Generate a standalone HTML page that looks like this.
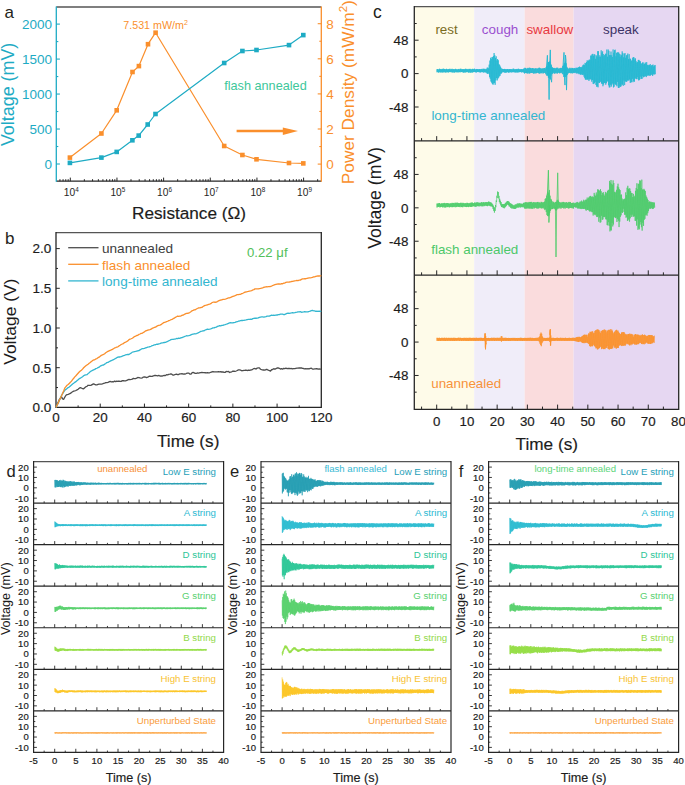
<!DOCTYPE html>
<html><head><meta charset="utf-8"><style>
html,body{margin:0;padding:0;background:#fff;width:685px;height:785px;overflow:hidden}
svg{display:block;font-family:"Liberation Sans", sans-serif}
</style></head><body>
<svg width="685" height="785" viewBox="0 0 685 785">
<rect width="685" height="785" fill="#fff"/>
<line x1="56.3" y1="7" x2="321.3" y2="7" stroke="#555555" stroke-width="1.3" />
<line x1="56.3" y1="181.2" x2="321.3" y2="181.2" stroke="#262626" stroke-width="1.3" />
<line x1="56.3" y1="6.4" x2="56.3" y2="181.8" stroke="#1eabc4" stroke-width="1.3" />
<line x1="321.3" y1="6.4" x2="321.3" y2="181.8" stroke="#fa8f2c" stroke-width="1.3" />
<line x1="56.3" y1="164" x2="59.9" y2="164" stroke="#1eabc4" stroke-width="1.1" />
<text x="52" y="168.8" font-size="13.5" fill="#1eabc4" text-anchor="end" >0</text>
<line x1="56.3" y1="146.51" x2="58.3" y2="146.51" stroke="#1eabc4" stroke-width="1.1" />
<line x1="56.3" y1="129.03" x2="59.9" y2="129.03" stroke="#1eabc4" stroke-width="1.1" />
<text x="52" y="133.83" font-size="13.5" fill="#1eabc4" text-anchor="end" >500</text>
<line x1="56.3" y1="111.54" x2="58.3" y2="111.54" stroke="#1eabc4" stroke-width="1.1" />
<line x1="56.3" y1="94.05" x2="59.9" y2="94.05" stroke="#1eabc4" stroke-width="1.1" />
<text x="52" y="98.85" font-size="13.5" fill="#1eabc4" text-anchor="end" >1000</text>
<line x1="56.3" y1="76.56" x2="58.3" y2="76.56" stroke="#1eabc4" stroke-width="1.1" />
<line x1="56.3" y1="59.08" x2="59.9" y2="59.08" stroke="#1eabc4" stroke-width="1.1" />
<text x="52" y="63.88" font-size="13.5" fill="#1eabc4" text-anchor="end" >1500</text>
<line x1="56.3" y1="41.59" x2="58.3" y2="41.59" stroke="#1eabc4" stroke-width="1.1" />
<line x1="56.3" y1="24.1" x2="59.9" y2="24.1" stroke="#1eabc4" stroke-width="1.1" />
<text x="52" y="28.9" font-size="13.5" fill="#1eabc4" text-anchor="end" >2000</text>
<line x1="317.7" y1="164.1" x2="321.3" y2="164.1" stroke="#fa8f2c" stroke-width="1.1" />
<text x="326.3" y="168.9" font-size="13.5" fill="#fa8f2c" text-anchor="start" >0</text>
<line x1="319.3" y1="146.55" x2="321.3" y2="146.55" stroke="#fa8f2c" stroke-width="1.1" />
<line x1="317.7" y1="129" x2="321.3" y2="129" stroke="#fa8f2c" stroke-width="1.1" />
<text x="326.3" y="133.8" font-size="13.5" fill="#fa8f2c" text-anchor="start" >2</text>
<line x1="319.3" y1="111.45" x2="321.3" y2="111.45" stroke="#fa8f2c" stroke-width="1.1" />
<line x1="317.7" y1="93.9" x2="321.3" y2="93.9" stroke="#fa8f2c" stroke-width="1.1" />
<text x="326.3" y="98.7" font-size="13.5" fill="#fa8f2c" text-anchor="start" >4</text>
<line x1="319.3" y1="76.35" x2="321.3" y2="76.35" stroke="#fa8f2c" stroke-width="1.1" />
<line x1="317.7" y1="58.8" x2="321.3" y2="58.8" stroke="#fa8f2c" stroke-width="1.1" />
<text x="326.3" y="63.6" font-size="13.5" fill="#fa8f2c" text-anchor="start" >6</text>
<line x1="319.3" y1="41.25" x2="321.3" y2="41.25" stroke="#fa8f2c" stroke-width="1.1" />
<line x1="317.7" y1="23.7" x2="321.3" y2="23.7" stroke="#fa8f2c" stroke-width="1.1" />
<text x="326.3" y="28.5" font-size="13.5" fill="#fa8f2c" text-anchor="start" >8</text>
<line x1="59.95" y1="181.2" x2="59.95" y2="179.2" stroke="#262626" stroke-width="1" />
<line x1="63.07" y1="181.2" x2="63.07" y2="179.2" stroke="#262626" stroke-width="1" />
<line x1="65.78" y1="181.2" x2="65.78" y2="179.2" stroke="#262626" stroke-width="1" />
<line x1="68.16" y1="181.2" x2="68.16" y2="179.2" stroke="#262626" stroke-width="1" />
<line x1="70.3" y1="181.2" x2="70.3" y2="177.6" stroke="#262626" stroke-width="1" />
<line x1="84.35" y1="181.2" x2="84.35" y2="179.2" stroke="#262626" stroke-width="1" />
<line x1="92.56" y1="181.2" x2="92.56" y2="179.2" stroke="#262626" stroke-width="1" />
<line x1="98.39" y1="181.2" x2="98.39" y2="179.2" stroke="#262626" stroke-width="1" />
<line x1="102.91" y1="181.2" x2="102.91" y2="179.2" stroke="#262626" stroke-width="1" />
<line x1="106.61" y1="181.2" x2="106.61" y2="179.2" stroke="#262626" stroke-width="1" />
<line x1="109.73" y1="181.2" x2="109.73" y2="179.2" stroke="#262626" stroke-width="1" />
<line x1="112.44" y1="181.2" x2="112.44" y2="179.2" stroke="#262626" stroke-width="1" />
<line x1="114.82" y1="181.2" x2="114.82" y2="179.2" stroke="#262626" stroke-width="1" />
<line x1="116.96" y1="181.2" x2="116.96" y2="177.6" stroke="#262626" stroke-width="1" />
<line x1="131.01" y1="181.2" x2="131.01" y2="179.2" stroke="#262626" stroke-width="1" />
<line x1="139.22" y1="181.2" x2="139.22" y2="179.2" stroke="#262626" stroke-width="1" />
<line x1="145.05" y1="181.2" x2="145.05" y2="179.2" stroke="#262626" stroke-width="1" />
<line x1="149.57" y1="181.2" x2="149.57" y2="179.2" stroke="#262626" stroke-width="1" />
<line x1="153.27" y1="181.2" x2="153.27" y2="179.2" stroke="#262626" stroke-width="1" />
<line x1="156.39" y1="181.2" x2="156.39" y2="179.2" stroke="#262626" stroke-width="1" />
<line x1="159.1" y1="181.2" x2="159.1" y2="179.2" stroke="#262626" stroke-width="1" />
<line x1="161.48" y1="181.2" x2="161.48" y2="179.2" stroke="#262626" stroke-width="1" />
<line x1="163.62" y1="181.2" x2="163.62" y2="177.6" stroke="#262626" stroke-width="1" />
<line x1="177.67" y1="181.2" x2="177.67" y2="179.2" stroke="#262626" stroke-width="1" />
<line x1="185.88" y1="181.2" x2="185.88" y2="179.2" stroke="#262626" stroke-width="1" />
<line x1="191.71" y1="181.2" x2="191.71" y2="179.2" stroke="#262626" stroke-width="1" />
<line x1="196.23" y1="181.2" x2="196.23" y2="179.2" stroke="#262626" stroke-width="1" />
<line x1="199.93" y1="181.2" x2="199.93" y2="179.2" stroke="#262626" stroke-width="1" />
<line x1="203.05" y1="181.2" x2="203.05" y2="179.2" stroke="#262626" stroke-width="1" />
<line x1="205.76" y1="181.2" x2="205.76" y2="179.2" stroke="#262626" stroke-width="1" />
<line x1="208.14" y1="181.2" x2="208.14" y2="179.2" stroke="#262626" stroke-width="1" />
<line x1="210.28" y1="181.2" x2="210.28" y2="177.6" stroke="#262626" stroke-width="1" />
<line x1="224.33" y1="181.2" x2="224.33" y2="179.2" stroke="#262626" stroke-width="1" />
<line x1="232.54" y1="181.2" x2="232.54" y2="179.2" stroke="#262626" stroke-width="1" />
<line x1="238.37" y1="181.2" x2="238.37" y2="179.2" stroke="#262626" stroke-width="1" />
<line x1="242.89" y1="181.2" x2="242.89" y2="179.2" stroke="#262626" stroke-width="1" />
<line x1="246.59" y1="181.2" x2="246.59" y2="179.2" stroke="#262626" stroke-width="1" />
<line x1="249.71" y1="181.2" x2="249.71" y2="179.2" stroke="#262626" stroke-width="1" />
<line x1="252.42" y1="181.2" x2="252.42" y2="179.2" stroke="#262626" stroke-width="1" />
<line x1="254.8" y1="181.2" x2="254.8" y2="179.2" stroke="#262626" stroke-width="1" />
<line x1="256.94" y1="181.2" x2="256.94" y2="177.6" stroke="#262626" stroke-width="1" />
<line x1="270.99" y1="181.2" x2="270.99" y2="179.2" stroke="#262626" stroke-width="1" />
<line x1="279.2" y1="181.2" x2="279.2" y2="179.2" stroke="#262626" stroke-width="1" />
<line x1="285.03" y1="181.2" x2="285.03" y2="179.2" stroke="#262626" stroke-width="1" />
<line x1="289.55" y1="181.2" x2="289.55" y2="179.2" stroke="#262626" stroke-width="1" />
<line x1="293.25" y1="181.2" x2="293.25" y2="179.2" stroke="#262626" stroke-width="1" />
<line x1="296.37" y1="181.2" x2="296.37" y2="179.2" stroke="#262626" stroke-width="1" />
<line x1="299.08" y1="181.2" x2="299.08" y2="179.2" stroke="#262626" stroke-width="1" />
<line x1="301.46" y1="181.2" x2="301.46" y2="179.2" stroke="#262626" stroke-width="1" />
<line x1="303.6" y1="181.2" x2="303.6" y2="177.6" stroke="#262626" stroke-width="1" />
<line x1="317.65" y1="181.2" x2="317.65" y2="179.2" stroke="#262626" stroke-width="1" />
<text x="63.8" y="196" font-size="10.2" fill="#262626">10<tspan dy="-4.3" font-size="6.4">4</tspan></text>
<text x="110.46" y="196" font-size="10.2" fill="#262626">10<tspan dy="-4.3" font-size="6.4">5</tspan></text>
<text x="157.12" y="196" font-size="10.2" fill="#262626">10<tspan dy="-4.3" font-size="6.4">6</tspan></text>
<text x="203.78" y="196" font-size="10.2" fill="#262626">10<tspan dy="-4.3" font-size="6.4">7</tspan></text>
<text x="250.44" y="196" font-size="10.2" fill="#262626">10<tspan dy="-4.3" font-size="6.4">8</tspan></text>
<text x="297.1" y="196" font-size="10.2" fill="#262626">10<tspan dy="-4.3" font-size="6.4">9</tspan></text>
<text x="132" y="219" font-size="17.2" fill="#1c1c1c" text-anchor="start"  stroke="#1c1c1c" stroke-width="0.18">Resistance (Ω)</text>
<text transform="translate(14.4,146.1) rotate(-90)" font-size="17.9" fill="#1eabc4">Voltage (mV)</text>
<text transform="translate(353.7,184.2) rotate(-90)" font-size="17.3" fill="#fa8f2c" text-anchor="start">Power Density (mW/m<tspan dy="-6.3" font-size="11.5">2</tspan><tspan dy="6.3">)</tspan></text>
<text x="4.5" y="18" font-size="17" fill="#231f20" text-anchor="start" >a</text>
<polyline points="69.9,157.6 101.4,133.5 116.7,110.3 132.5,72 138.9,66.1 148,44.2 155.6,32.7 224.2,146 242.4,155 256.5,159.3 289,163 303.3,163.4" fill="none" stroke="#fa8f2c" stroke-width="1.2" stroke-linejoin="round" />
<polyline points="69.9,162.9 101.4,157.6 116.7,151.9 132.4,140.3 138.7,135.6 147.7,124.5 155.5,114 224.2,63 242.4,51 256.5,50 289,45.1 303.3,35.1" fill="none" stroke="#1eabc4" stroke-width="1.2" stroke-linejoin="round" />
<rect x="67.6" y="155.3" width="4.6" height="4.6" fill="#fa8f2c"/>
<rect x="99.1" y="131.2" width="4.6" height="4.6" fill="#fa8f2c"/>
<rect x="114.4" y="108" width="4.6" height="4.6" fill="#fa8f2c"/>
<rect x="130.2" y="69.7" width="4.6" height="4.6" fill="#fa8f2c"/>
<rect x="136.6" y="63.8" width="4.6" height="4.6" fill="#fa8f2c"/>
<rect x="145.7" y="41.9" width="4.6" height="4.6" fill="#fa8f2c"/>
<rect x="153.3" y="30.4" width="4.6" height="4.6" fill="#fa8f2c"/>
<rect x="221.9" y="143.7" width="4.6" height="4.6" fill="#fa8f2c"/>
<rect x="240.1" y="152.7" width="4.6" height="4.6" fill="#fa8f2c"/>
<rect x="254.2" y="157" width="4.6" height="4.6" fill="#fa8f2c"/>
<rect x="286.7" y="160.7" width="4.6" height="4.6" fill="#fa8f2c"/>
<rect x="301" y="161.1" width="4.6" height="4.6" fill="#fa8f2c"/>
<rect x="67.6" y="160.6" width="4.6" height="4.6" fill="#1eabc4"/>
<rect x="99.1" y="155.3" width="4.6" height="4.6" fill="#1eabc4"/>
<rect x="114.4" y="149.6" width="4.6" height="4.6" fill="#1eabc4"/>
<rect x="130.1" y="138" width="4.6" height="4.6" fill="#1eabc4"/>
<rect x="136.4" y="133.3" width="4.6" height="4.6" fill="#1eabc4"/>
<rect x="145.4" y="122.2" width="4.6" height="4.6" fill="#1eabc4"/>
<rect x="153.2" y="111.7" width="4.6" height="4.6" fill="#1eabc4"/>
<rect x="221.9" y="60.7" width="4.6" height="4.6" fill="#1eabc4"/>
<rect x="240.1" y="48.7" width="4.6" height="4.6" fill="#1eabc4"/>
<rect x="254.2" y="47.7" width="4.6" height="4.6" fill="#1eabc4"/>
<rect x="286.7" y="42.8" width="4.6" height="4.6" fill="#1eabc4"/>
<rect x="301" y="32.8" width="4.6" height="4.6" fill="#1eabc4"/>
<text x="123.3" y="28.8" font-size="10.7" fill="#fa8f2c">7.531 mW/m<tspan dy="-4" font-size="7">2</tspan></text>
<text x="224.2" y="89.9" font-size="12.7" fill="#3ec79b" text-anchor="start" >flash annealed</text>
<line x1="236.6" y1="131" x2="285" y2="131" stroke="#fa8f2c" stroke-width="2.6" />
<polygon points="282.8,127.4 298,131.1 282.8,134.9" fill="#fa8f2c"/>
<line x1="56" y1="232.7" x2="321.3" y2="232.7" stroke="#555555" stroke-width="1.3" />
<line x1="56" y1="407.4" x2="321.3" y2="407.4" stroke="#262626" stroke-width="1.3" />
<line x1="56" y1="232.1" x2="56" y2="408" stroke="#262626" stroke-width="1.3" />
<line x1="321.3" y1="232.1" x2="321.3" y2="408" stroke="#262626" stroke-width="1.3" />
<text x="51.2" y="412.2" font-size="13.5" fill="#1c1c1c" text-anchor="end"  stroke="#1c1c1c" stroke-width="0.18">0.0</text>
<line x1="56" y1="387.55" x2="58" y2="387.55" stroke="#262626" stroke-width="1" />
<line x1="56" y1="367.7" x2="59.8" y2="367.7" stroke="#262626" stroke-width="1" />
<text x="51.2" y="372.5" font-size="13.5" fill="#1c1c1c" text-anchor="end"  stroke="#1c1c1c" stroke-width="0.18">0.5</text>
<line x1="56" y1="347.85" x2="58" y2="347.85" stroke="#262626" stroke-width="1" />
<line x1="56" y1="328" x2="59.8" y2="328" stroke="#262626" stroke-width="1" />
<text x="51.2" y="332.8" font-size="13.5" fill="#1c1c1c" text-anchor="end"  stroke="#1c1c1c" stroke-width="0.18">1.0</text>
<line x1="56" y1="308.15" x2="58" y2="308.15" stroke="#262626" stroke-width="1" />
<line x1="56" y1="288.3" x2="59.8" y2="288.3" stroke="#262626" stroke-width="1" />
<text x="51.2" y="293.1" font-size="13.5" fill="#1c1c1c" text-anchor="end"  stroke="#1c1c1c" stroke-width="0.18">1.5</text>
<line x1="56" y1="268.45" x2="58" y2="268.45" stroke="#262626" stroke-width="1" />
<line x1="56" y1="248.6" x2="59.8" y2="248.6" stroke="#262626" stroke-width="1" />
<text x="51.2" y="253.4" font-size="13.5" fill="#1c1c1c" text-anchor="end"  stroke="#1c1c1c" stroke-width="0.18">2.0</text>
<text x="56" y="422.4" font-size="13.4" fill="#1c1c1c" text-anchor="middle"  stroke="#1c1c1c" stroke-width="0.18">0</text>
<line x1="78.11" y1="407.4" x2="78.11" y2="405.4" stroke="#262626" stroke-width="1" />
<line x1="100.22" y1="407.4" x2="100.22" y2="403.6" stroke="#262626" stroke-width="1" />
<text x="100.22" y="422.4" font-size="13.4" fill="#1c1c1c" text-anchor="middle"  stroke="#1c1c1c" stroke-width="0.18">20</text>
<line x1="122.33" y1="407.4" x2="122.33" y2="405.4" stroke="#262626" stroke-width="1" />
<line x1="144.43" y1="407.4" x2="144.43" y2="403.6" stroke="#262626" stroke-width="1" />
<text x="144.43" y="422.4" font-size="13.4" fill="#1c1c1c" text-anchor="middle"  stroke="#1c1c1c" stroke-width="0.18">40</text>
<line x1="166.54" y1="407.4" x2="166.54" y2="405.4" stroke="#262626" stroke-width="1" />
<line x1="188.65" y1="407.4" x2="188.65" y2="403.6" stroke="#262626" stroke-width="1" />
<text x="188.65" y="422.4" font-size="13.4" fill="#1c1c1c" text-anchor="middle"  stroke="#1c1c1c" stroke-width="0.18">60</text>
<line x1="210.76" y1="407.4" x2="210.76" y2="405.4" stroke="#262626" stroke-width="1" />
<line x1="232.87" y1="407.4" x2="232.87" y2="403.6" stroke="#262626" stroke-width="1" />
<text x="232.87" y="422.4" font-size="13.4" fill="#1c1c1c" text-anchor="middle"  stroke="#1c1c1c" stroke-width="0.18">80</text>
<line x1="254.97" y1="407.4" x2="254.97" y2="405.4" stroke="#262626" stroke-width="1" />
<line x1="277.08" y1="407.4" x2="277.08" y2="403.6" stroke="#262626" stroke-width="1" />
<text x="277.08" y="422.4" font-size="13.4" fill="#1c1c1c" text-anchor="middle"  stroke="#1c1c1c" stroke-width="0.18">100</text>
<line x1="299.19" y1="407.4" x2="299.19" y2="405.4" stroke="#262626" stroke-width="1" />
<text x="321.3" y="422.4" font-size="13.4" fill="#1c1c1c" text-anchor="middle"  stroke="#1c1c1c" stroke-width="0.18">120</text>
<text x="157" y="447.2" font-size="17.2" fill="#1c1c1c" text-anchor="start"  stroke="#1c1c1c" stroke-width="0.18">Time (s)</text>
<text x="5" y="244" font-size="17" fill="#231f20" text-anchor="start" >b</text>
<text transform="translate(16,364.7) rotate(-90)" font-size="17.4" fill="#1c1c1c">Voltage (V)</text>
<polyline points="56,407.4 57.11,404.28 58.21,402.15 59.32,399.48 60.42,398.25 61.53,396.82 62.63,398.91 63.74,399.33 64.84,397.08 65.95,395.27 67.05,394.6 68.16,394.31 69.27,393.91 70.37,393.47 71.48,392.44 72.58,391.76 73.69,391.09 74.79,390.94 75.9,390.49 77,389.89 78.11,389.25 79.21,388.32 80.32,387.6 81.42,388 82.53,388.68 83.64,388.75 84.74,387.72 85.85,386.76 86.95,386.35 88.06,385.27 89.16,385.43 90.27,385.37 91.37,385.15 92.48,384.36 93.58,383.8 94.69,384.4 95.8,384.91 96.9,384.86 98.01,384.46 99.11,384.12 100.22,384.2 101.32,384.06 102.43,383.78 103.53,383.41 104.64,383.18 105.74,382.7 106.85,382.65 107.95,382.33 109.06,381.9 110.17,381.48 111.27,381.79 112.38,381.7 113.48,381.84 114.59,381.18 115.69,381.64 116.8,381.09 117.9,381.27 119.01,381.21 120.11,381.48 121.22,381.32 122.33,380.69 123.43,380.75 124.54,380.95 125.64,380.8 126.75,380.44 127.85,379.82 128.96,379.44 130.06,379.62 131.17,379.41 132.27,379.07 133.38,378.44 134.48,378.58 135.59,378.53 136.7,378.16 137.8,377.42 138.91,377.57 140.01,377.92 141.12,378.05 142.22,377.91 143.33,377.04 144.43,376.8 145.54,377.04 146.64,377.55 147.75,377.22 148.86,376.4 149.96,376.14 151.07,376.34 152.17,376.33 153.28,375.89 154.38,375.52 155.49,375.48 156.59,375.56 157.7,375.82 158.8,375.45 159.91,376.02 161.01,375.87 162.12,376.07 163.23,375.7 164.33,375.45 165.44,375.57 166.54,374.76 167.65,374.83 168.75,374.35 169.86,374.18 170.96,373.97 172.07,374.42 173.17,375.25 174.28,374.76 175.38,374.46 176.49,374.13 177.6,374.57 178.7,374.51 179.81,373.93 180.91,373.86 182.02,373.69 183.12,374.07 184.23,373.81 185.33,374.03 186.44,373.48 187.54,373.05 188.65,373.11 189.76,374.02 190.86,374.22 191.97,372.85 193.07,372.32 194.18,372.85 195.28,373.4 196.39,373.29 197.49,372.99 198.6,373.22 199.7,372.73 200.81,372.63 201.91,372.37 203.02,372.53 204.13,372.6 205.23,372.73 206.34,372.91 207.44,372.58 208.55,372.78 209.65,372.78 210.76,372.27 211.86,371.88 212.97,371.52 214.07,371.78 215.18,371.86 216.29,371.89 217.39,371.89 218.5,371.64 219.6,371.91 220.71,371.75 221.81,372 222.92,371.94 224.02,372.46 225.13,372.37 226.23,371.49 227.34,371.55 228.45,371.35 229.55,372.51 230.66,372.09 231.76,371.8 232.87,371.13 233.97,371.26 235.08,371.39 236.18,371.01 237.29,370.5 238.39,369.84 239.5,369.88 240.6,370.18 241.71,370.74 242.82,370.72 243.92,370.39 245.03,370.25 246.13,370.07 247.24,370.52 248.34,370.14 249.45,370.27 250.55,370.01 251.66,369.95 252.76,369.21 253.87,368.53 254.97,368.52 256.08,369.05 257.19,368.1 258.29,367.8 259.4,367.92 260.5,369.26 261.61,369.68 262.71,369.98 263.82,369.85 264.92,370.2 266.03,369.5 267.13,369.44 268.24,370.21 269.35,370.52 270.45,371.14 271.56,369.73 272.66,369.51 273.77,368.67 274.87,369.22 275.98,368.57 277.08,367.99 278.19,367.89 279.29,368.27 280.4,369.06 281.5,368.68 282.61,369.16 283.72,368.31 284.82,368.57 285.93,368.22 287.03,368.62 288.14,368.48 289.24,368.42 290.35,368.72 291.45,368.51 292.56,368.77 293.66,368.69 294.77,368.67 295.88,368.38 296.98,368.2 298.09,368.21 299.19,367.86 300.3,367.99 301.4,367.95 302.51,368.42 303.61,368.52 304.72,368.92 305.82,368.58 306.93,368.82 308.03,368.69 309.14,368.78 310.25,368.33 311.35,368.26 312.46,369.06 313.56,369.09 314.67,368.92 315.77,368.77 316.88,368.69 317.98,369.04 319.09,368.98 320.19,369.22 321.3,369.02" fill="none" stroke="#4d4d4d" stroke-width="1.3" stroke-linejoin="round" />
<polyline points="56,407.4 57.11,405.14 58.21,403.17 59.32,400.42 60.42,397.79 61.53,395.47 62.63,393.65 63.74,391.8 64.84,390.29 65.95,389.36 67.05,388.56 68.16,387.62 69.27,387.01 70.37,385.99 71.48,385.06 72.58,383.95 73.69,383.22 74.79,382.31 75.9,381.68 77,380.62 78.11,379.79 79.21,378.8 80.32,378.09 81.42,377.53 82.53,376.72 83.64,375.75 84.74,375.13 85.85,374.83 86.95,374.7 88.06,373.63 89.16,372.66 90.27,371.6 91.37,370.97 92.48,370.32 93.58,369.83 94.69,369.36 95.8,368.64 96.9,368.26 98.01,367.69 99.11,367.19 100.22,366.13 101.32,365.59 102.43,365.21 103.53,365 104.64,364.14 105.74,363.42 106.85,362.55 107.95,362.43 109.06,361.66 110.17,361.17 111.27,360.57 112.38,360.21 113.48,359.68 114.59,358.95 115.69,358.35 116.8,357.7 117.9,357.21 119.01,356.96 120.11,357.02 121.22,356.53 122.33,356.1 123.43,355.59 124.54,355.31 125.64,354.78 126.75,354.54 127.85,354.39 128.96,354.51 130.06,353.77 131.17,353.14 132.27,352.13 133.38,351.94 134.48,351.68 135.59,351.46 136.7,351.08 137.8,350.76 138.91,350.58 140.01,349.89 141.12,349.25 142.22,348.65 143.33,348.59 144.43,348.38 145.54,347.93 146.64,347.53 147.75,347.18 148.86,346.98 149.96,346.75 151.07,346.24 152.17,345.68 153.28,345.33 154.38,344.78 155.49,344.73 156.59,344.24 157.7,344.27 158.8,343.87 159.91,343.56 161.01,343.18 162.12,342.94 163.23,342.74 164.33,342.49 165.44,342.31 166.54,341.94 167.65,341.43 168.75,340.73 169.86,340.28 170.96,339.65 172.07,339.45 173.17,339.32 174.28,339.11 175.38,339.03 176.49,338.51 177.6,338.66 178.7,338.15 179.81,338.32 180.91,337.74 182.02,337.53 183.12,337.09 184.23,336.68 185.33,336.24 186.44,335.77 187.54,335.85 188.65,335.66 189.76,335.37 190.86,334.8 191.97,334.33 193.07,334.06 194.18,333.9 195.28,333.76 196.39,333.51 197.49,333.16 198.6,332.73 199.7,332.05 200.81,331.39 201.91,331.14 203.02,330.81 204.13,330.73 205.23,329.92 206.34,329.65 207.44,329.15 208.55,329.28 209.65,329.06 210.76,328.77 211.86,328.36 212.97,327.85 214.07,327.81 215.18,327.32 216.29,327.21 217.39,326.38 218.5,326.22 219.6,325.6 220.71,325.78 221.81,325.36 222.92,325.36 224.02,324.91 225.13,324.67 226.23,324.26 227.34,323.84 228.45,323.41 229.55,322.96 230.66,322.73 231.76,322.79 232.87,322.76 233.97,322.53 235.08,322.41 236.18,321.94 237.29,321.73 238.39,321.23 239.5,321 240.6,320.65 241.71,320.37 242.82,320.48 243.92,320.33 245.03,320.11 246.13,319.89 247.24,319.57 248.34,319.34 249.45,319.31 250.55,319.26 251.66,319.34 252.76,318.65 253.87,318.35 254.97,318.14 256.08,318.27 257.19,318.2 258.29,317.89 259.4,317.33 260.5,317.06 261.61,316.89 262.71,316.87 263.82,317.14 264.92,316.88 266.03,316.66 267.13,316.2 268.24,316.19 269.35,316.07 270.45,315.56 271.56,315.24 272.66,315.34 273.77,315.25 274.87,315.42 275.98,315 277.08,315.17 278.19,314.57 279.29,314.64 280.4,314.2 281.5,314.16 282.61,314.16 283.72,314.55 284.82,314.51 285.93,313.9 287.03,313.43 288.14,313.23 289.24,313.34 290.35,313.11 291.45,312.93 292.56,312.71 293.66,312.85 294.77,312.58 295.88,312.28 296.98,312.21 298.09,311.92 299.19,311.92 300.3,311.69 301.4,312.26 302.51,312.19 303.61,311.94 304.72,311.66 305.82,311.98 306.93,311.82 308.03,311.75 309.14,311.47 310.25,311.12 311.35,310.62 312.46,310.32 313.56,310.77 314.67,310.94 315.77,311.38 316.88,311.22 317.98,311.38 319.09,311.17 320.19,311.39 321.3,311.23" fill="none" stroke="#33b6d0" stroke-width="1.3" stroke-linejoin="round" />
<polyline points="56,407.4 57.11,405.03 58.21,403.07 59.32,400.35 60.42,398.07 61.53,395.76 62.63,393.19 63.74,390.76 64.84,387.89 65.95,386.57 67.05,385.24 68.16,384.56 69.27,383.45 70.37,382.32 71.48,381.09 72.58,379.65 73.69,378.28 74.79,376.84 75.9,375.74 77,374.53 78.11,373.28 79.21,372.03 80.32,371.01 81.42,370.21 82.53,369.15 83.64,367.73 84.74,366.71 85.85,365.84 86.95,365.04 88.06,364.22 89.16,363.34 90.27,362.52 91.37,361.48 92.48,360.65 93.58,359.96 94.69,359.81 95.8,358.97 96.9,358.55 98.01,357.69 99.11,357.15 100.22,356.23 101.32,355.39 102.43,354.96 103.53,354.44 104.64,353.76 105.74,352.75 106.85,352.03 107.95,351.38 109.06,350.81 110.17,350.36 111.27,349.93 112.38,349.4 113.48,348.67 114.59,347.95 115.69,347.57 116.8,347.02 117.9,346.78 119.01,345.93 120.11,345.27 121.22,344.51 122.33,343.97 123.43,343.56 124.54,342.53 125.64,342.2 126.75,341.53 127.85,340.86 128.96,339.68 130.06,339.22 131.17,338.77 132.27,338.28 133.38,337.43 134.48,336.51 135.59,336.19 136.7,335.48 137.8,335.37 138.91,334.44 140.01,333.98 141.12,333.36 142.22,333.34 143.33,332.55 144.43,331.86 145.54,330.95 146.64,330.52 147.75,330.07 148.86,329.77 149.96,329.56 151.07,329.23 152.17,328.39 153.28,327.98 154.38,327.43 155.49,327.19 156.59,326.4 157.7,325.7 158.8,325.33 159.91,325.13 161.01,324.7 162.12,323.8 163.23,322.89 164.33,322.35 165.44,322.09 166.54,321.66 167.65,321.24 168.75,320.57 169.86,320.26 170.96,319.72 172.07,319.39 173.17,318.7 174.28,318.22 175.38,317.33 176.49,316.72 177.6,316.07 178.7,316.35 179.81,316.2 180.91,316.1 182.02,315.27 183.12,315.15 184.23,314.45 185.33,313.94 186.44,313.35 187.54,313.26 188.65,313.11 189.76,312.45 190.86,311.74 191.97,310.83 193.07,310.41 194.18,309.92 195.28,309.75 196.39,308.97 197.49,308.51 198.6,307.85 199.7,307.83 200.81,307.51 201.91,307.39 203.02,306.51 204.13,305.9 205.23,305.35 206.34,305.2 207.44,304.77 208.55,304.39 209.65,304.04 210.76,303.63 211.86,302.72 212.97,302.23 214.07,302.02 215.18,302.24 216.29,302.07 217.39,301.55 218.5,300.88 219.6,300.32 220.71,300.01 221.81,299.78 222.92,299.41 224.02,299.36 225.13,299.11 226.23,298.77 227.34,298.31 228.45,297.96 229.55,297.77 230.66,297.35 231.76,296.8 232.87,296.39 233.97,296.02 235.08,295.69 236.18,295.18 237.29,294.55 238.39,294.67 239.5,294.3 240.6,294.31 241.71,293.62 242.82,293.28 243.92,292.7 245.03,292.22 246.13,291.99 247.24,291.57 248.34,291.44 249.45,291.15 250.55,290.94 251.66,290.65 252.76,289.97 253.87,289.62 254.97,288.89 256.08,288.94 257.19,288.88 258.29,288.92 259.4,288.54 260.5,288.31 261.61,288.02 262.71,287.88 263.82,287.27 264.92,287.18 266.03,286.75 267.13,286.85 268.24,286.64 269.35,286.66 270.45,286.49 271.56,286.06 272.66,285.52 273.77,285.05 274.87,284.72 275.98,284.38 277.08,284.11 278.19,283.94 279.29,284 280.4,284.06 281.5,283.73 282.61,283.73 283.72,283.14 284.82,283.03 285.93,282.33 287.03,282.21 288.14,282.11 289.24,282 290.35,281.84 291.45,281.5 292.56,281.32 293.66,281.02 294.77,280.79 295.88,280.69 296.98,280.47 298.09,280.55 299.19,280.21 300.3,280.14 301.4,279.39 302.51,278.94 303.61,278.83 304.72,278.76 305.82,278.75 306.93,278.38 308.03,278.1 309.14,277.92 310.25,277.81 311.35,277.71 312.46,277.44 313.56,276.91 314.67,276.84 315.77,276.49 316.88,276.16 317.98,275.95 319.09,275.98 320.19,275.95 321.3,275.65" fill="none" stroke="#fa8f2c" stroke-width="1.3" stroke-linejoin="round" />
<line x1="68.2" y1="247.7" x2="98.5" y2="247.7" stroke="#4d4d4d" stroke-width="1.3" />
<text x="102" y="252.9" font-size="13.6" fill="#404040" text-anchor="start" >unannealed</text>
<line x1="68.2" y1="264.3" x2="98.5" y2="264.3" stroke="#fa8f2c" stroke-width="1.3" />
<text x="102" y="269.5" font-size="13.6" fill="#fa8f2c" text-anchor="start" >flash annealed</text>
<line x1="68.2" y1="280.9" x2="98.5" y2="280.9" stroke="#33b6d0" stroke-width="1.3" />
<text x="102" y="286.1" font-size="13.6" fill="#33b6d0" text-anchor="start" >long-time annealed</text>
<text x="247" y="256.8" font-size="13.2" fill="#52c05a" text-anchor="start" >0.22 μf</text>
<rect x="414.3" y="6.7" width="59.9" height="402.7" fill="#fefbe9"/>
<rect x="474.2" y="6.7" width="50.45" height="402.7" fill="#f0edf9"/>
<rect x="524.65" y="6.7" width="48.95" height="402.7" fill="#fadcdd"/>
<rect x="573.6" y="6.7" width="105.1" height="402.7" fill="#e6d7f2"/>
<polyline points="436.7,69.36 437.05,72.32 437.4,69 437.75,71.96 438.1,69.35 438.45,72.65 438.8,69.41 439.15,72.04 439.5,68.74 439.85,72.41 440.2,69.18 440.55,72.33 440.9,68.96 441.25,72.15 441.6,69.36 441.95,72.54 442.3,68.95 442.65,72.33 443,68.84 443.35,72.36 443.7,68.71 444.05,72.1 444.4,69.04 444.75,72.31 445.1,69.19 445.45,72.39 445.8,69.28 446.15,72.55 446.5,68.8 446.85,72.04 447.2,69.11 447.55,72.15 447.9,69.4 448.25,72.62 448.6,69.13 448.95,72.05 449.3,68.95 449.65,72.09 450,68.77 450.35,72.11 450.7,69.43 451.05,72.09 451.4,69.2 451.75,72.3 452.1,68.77 452.45,72.47 452.8,69.2 453.15,71.95 453.5,69.34 453.85,72.7 454.2,69.11 454.55,72.47 454.9,69.42 455.25,71.97 455.6,68.82 455.95,72.39 456.3,69.23 456.65,72.18 457,69.39 457.35,72.07 457.7,69.44 458.05,72.58 458.4,69.11 458.75,72.04 459.1,68.9 459.45,72.09 459.8,69.41 460.15,72.39 460.5,68.78 460.85,71.96 461.2,68.85 461.55,72.08 461.9,69.39 462.25,71.95 462.6,69.24 462.95,72.49 463.3,69.09 463.65,72.59 464,69.29 464.35,72.18 464.7,69.26 465.05,72.68 465.4,68.74 465.75,72.2 466.1,69.13 466.45,72.18 466.8,68.89 467.15,71.97 467.5,69.41 467.85,72.25 468.2,69.27 468.55,72.58 468.9,68.9 469.25,72.35 469.6,68.96 469.95,72.47 470.3,68.87 470.65,72.64 471,69.35 471.35,72.42 471.7,69.35 472.05,72.28 472.4,68.86 472.75,72.62 473.1,68.88 473.45,71.97 473.8,69.19 474.15,72.06 474.5,68.7 474.85,72.05 475.2,69.27 475.55,72.21 475.9,69.41 476.25,72.6 476.6,68.98 476.95,72.06 477.3,69.08 477.65,72 478,69 478.35,72.12 478.7,69.43 479.05,72.03 479.4,69.04 479.75,72.42 480.1,69.21 480.45,72.43 480.8,69.19 481.15,72.04 481.5,69.22 481.85,72.24 482.2,68.77 482.55,72.03 482.9,69.39 483.25,72.37 483.6,68.73 483.95,72.63 484.3,68.93 484.65,71.99 485,68.85 485.35,72.46 485.7,69.35 486.05,72.33 486.4,69.12 486.75,73.24 487.1,67.73 487.45,73.89 487.8,67.6 488.15,72.76 488.5,68.4 488.85,74.05 489.2,64.61 489.55,77.18 489.9,60.59 490.25,78.76 490.6,57.78 490.95,81.52 491.3,58.9 491.65,82.62 492,57.1 492.35,83.96 492.7,57.21 493.05,84.78 493.4,55.97 493.75,83.39 494.1,53.05 494.45,82.83 494.8,55.27 495.15,84.83 495.5,57.93 495.85,80.37 496.2,56.34 496.55,78.14 496.9,60.52 497.25,80.4 497.6,59.01 497.95,78.54 498.3,60.24 498.65,77.68 499,64.1 499.35,76.35 499.7,65.12 500.05,75.77 500.4,66.61 500.75,73.75 501.1,67.84 501.45,73.44 501.8,68.89 502.15,72.37 502.5,68.86 502.85,72.28 503.2,69.03 503.55,71.99 503.9,69.04 504.25,72.56 504.6,68.92 504.95,72.55 505.3,69.08 505.65,72.61 506,69.38 506.35,72.61 506.7,69.18 507.05,72.01 507.4,68.99 507.75,72.29 508.1,69.13 508.45,72.59 508.8,69.36 509.15,72.41 509.5,69.15 509.85,72.34 510.2,69.08 510.55,72.04 510.9,69.07 511.25,72.6 511.6,69.33 511.95,71.95 512.3,69.41 512.65,72.29 513,68.72 513.35,71.97 513.7,68.71 514.05,72.35 514.4,69.37 514.75,72.26 515.1,69.3 515.45,72.48 515.8,69.05 516.15,72.16 516.5,69.27 516.85,72.6 517.2,68.88 517.55,72.27 517.9,69.15 518.25,72.5 518.6,68.72 518.95,72 519.3,69.34 519.65,72.22 520,69.07 520.35,71.99 520.7,69.42 521.05,72.11 521.4,69.17 521.75,72.5 522.1,69 522.45,71.96 522.8,69.43 523.15,72.28 523.5,68.8 523.85,72.64 524.2,68.42 524.55,73.57 524.9,67.78 525.25,73.02 525.6,67.99 525.95,72.98 526.3,68.66 526.65,73.22 527,68.74 527.35,73.32 527.7,67.92 528.05,73.6 528.4,68.33 528.75,72.69 529.1,67.81 529.45,73.55 529.8,67.74 530.15,73.24 530.5,68.07 530.85,72.99 531.2,68.63 531.55,72.89 531.9,68.02 532.25,72.93 532.6,68.05 532.95,73.13 533.3,68.33 533.65,73.66 534,68.65 534.35,73.12 534.7,68.66 535.05,73.63 535.4,68.28 535.75,72.94 536.1,68.65 536.45,73.24 536.8,68.39 537.15,72.7 537.5,68.8 537.85,73.01 538.2,68.18 538.55,73.15 538.9,67.81 539.25,73.6 539.6,67.77 539.95,73.47 540.3,68.3 540.65,73.16 541,68.39 541.35,73.02 541.7,68.79 542.05,73.47 542.4,68.56 542.75,72.59 543.1,68.3 543.45,73.39 543.8,68.32 544.15,73.01 544.5,68 544.85,72.86 545.2,68.62 545.55,73.67 545.9,67.46 546.25,74.78 546.6,66.68 546.95,75.96 547.3,66.24 547.65,75.55 548,62.67 548.35,77.55 548.7,63.35 549.05,77.99 549.4,61.56 549.75,78.7 550.1,61.57 550.45,79.49 550.8,64.02 551.15,75.6 551.5,65.24 551.85,73.96 552.2,67.07 552.55,73.67 552.9,67.85 553.25,72.86 553.6,68.01 553.95,73.37 554.3,67.92 554.65,73.68 555,68.42 555.35,73.31 555.7,68.33 556.05,72.81 556.4,67.83 556.75,73.41 557.1,67.77 557.45,73.5 557.8,67.79 558.15,72.71 558.5,68.82 558.85,72.79 559.2,68.37 559.55,73.34 559.9,68.33 560.25,73.15 560.6,67.93 560.95,72.66 561.3,67.88 561.65,72.72 562,67.99 562.35,73.95 562.7,66.15 563.05,74.4 563.4,65.23 563.75,77.02 564.1,63.51 564.45,76.34 564.8,62.85 565.15,76.98 565.5,61.49 565.85,76.82 566.2,63.29 566.55,75.66 566.9,66.89 567.25,74.93 567.6,67.91 567.95,73.56 568.3,68.58 568.65,73.16 569,68.78 569.35,72.85 569.7,67.8 570.05,72.88 570.4,68.53 570.75,73.34 571.1,67.83 571.45,72.9 571.8,68.41 572.15,73.37 572.5,67.94 572.85,73.26 573.2,68.64 573.55,72.77 573.9,67.98 574.25,72.85 574.6,68.19 574.95,73.09 575.3,68.47 575.65,72.57 576,67.72 576.35,73.33 576.7,67.89 577.05,73.47 577.4,67.95 577.75,73.2 578.1,67.48 578.45,73.53 578.8,67.07 579.15,74.31 579.5,66.63 579.85,73.68 580.2,67.22 580.55,74.65 580.9,67 581.25,74.63 581.6,67.39 581.95,74.21 582.3,66.38 582.65,75.04 583,64.94 583.35,74.64 583.7,64.58 584.05,76.65 584.4,65.08 584.75,78.24 585.1,62.88 585.45,79.74 585.8,63.42 586.15,79.14 586.5,62.09 586.85,79.95 587.2,60.32 587.55,79.42 587.9,61.18 588.25,79.38 588.6,60.48 588.95,80.96 589.3,59.54 589.65,79.39 590,60.17 590.35,78.98 590.7,55.67 591.05,79.76 591.4,55.56 591.75,81.66 592.1,54.25 592.45,80.01 592.8,53.87 593.15,83.81 593.5,55.78 593.85,84.08 594.2,54.21 594.55,82.97 594.9,54.63 595.25,81.92 595.6,58.84 595.95,84.93 596.3,55.4 596.65,86.68 597,56.76 597.35,86.45 597.7,51.23 598.05,87.31 598.4,51.17 598.75,82.67 599.1,57.01 599.45,83.03 599.8,55.3 600.15,82.18 600.5,56.74 600.85,81.45 601.2,50.34 601.55,83.57 601.9,52.54 602.25,84.06 602.6,51.35 602.95,86.25 603.3,54.04 603.65,84.5 604,56.19 604.35,82.9 604.7,54.92 605.05,83.03 605.4,53.82 605.75,84.71 606.1,53.75 606.45,83.18 606.8,49.57 607.15,81.21 607.5,56.74 607.85,81.54 608.2,49.53 608.55,85.3 608.9,50.82 609.25,87.44 609.6,55.21 609.95,87.26 610.3,55.1 610.65,84.7 611,51.56 611.35,86.57 611.7,55.24 612.05,84.53 612.4,56.99 612.75,83.33 613.1,49.46 613.45,87.45 613.8,52.76 614.15,86.73 614.5,50.23 614.85,83.76 615.2,49.66 615.55,84.58 615.9,56.33 616.25,85.18 616.6,52.89 616.95,86.32 617.3,52.33 617.65,81.98 618,52.64 618.35,87.95 618.7,52.45 619.05,87.96 619.4,53.76 619.75,86.54 620.1,56.74 620.45,86.76 620.8,54.46 621.15,86.31 621.5,55.42 621.85,84.44 622.2,51.36 622.55,84.66 622.9,53.19 623.25,85.85 623.6,57.37 623.95,80.56 624.3,53.83 624.65,85.07 625,53.02 625.35,81.29 625.7,57.78 626.05,81.85 626.4,55.43 626.75,81.75 627.1,54.88 627.45,80.53 627.8,53.54 628.15,80.42 628.5,59.17 628.85,80.54 629.2,54.19 629.55,79.42 629.9,58.8 630.25,82.9 630.6,58.76 630.95,82.26 631.3,60.92 631.65,82.23 632,60.17 632.35,78.81 632.7,57.8 633.05,82.17 633.4,57.04 633.75,80.94 634.1,57.55 634.45,81.74 634.8,59.65 635.15,78.04 635.5,58.42 635.85,78.92 636.2,61.29 636.55,79.17 636.9,62.81 637.25,77.13 637.6,61.93 637.95,79.19 638.3,59.94 638.65,80.36 639,59.9 639.35,80.1 639.7,60.94 640.05,79.15 640.4,61.39 640.75,76.68 641.1,63.78 641.45,78.86 641.8,63.4 642.15,78.77 642.5,62.59 642.85,76.03 643.2,62.45 643.55,77.28 643.9,64.45 644.25,76.55 644.6,63.76 644.95,76.65 645.3,62.51 645.65,75.97 646,63.6 646.35,77.08 646.7,62.08 647.05,75.54 647.4,65.12 647.75,75.6 648.1,64.81 648.45,75.38 648.8,65.4 649.15,75.36 649.5,65.1 649.85,75.87 650.2,64 650.55,75.43 650.9,65.55 651.25,74.65 651.6,65.43 651.95,74.68 652.3,65 652.65,76.02 653,64.55 653.35,74.46 653.7,66.47 654.05,74.04 654.4,65.59 654.75,74.57 655.1,64.98 655.45,74.02" fill="none" stroke="#20b8d1" stroke-width="0.7" stroke-linejoin="round" />
<polyline points="436.7,203.6 437.05,207.5 437.4,203.65 437.75,206.82 438.1,203.5 438.45,206.86 438.8,203.21 439.15,206.75 439.5,203.01 439.85,207.39 440.2,203.78 440.55,207.1 440.9,203.68 441.25,206.84 441.6,203.4 441.95,207.01 442.3,203.34 442.65,207.41 443,203.52 443.35,206.76 443.7,203.15 444.05,207.41 444.4,202.92 444.75,207.34 445.1,203.66 445.45,207.38 445.8,203.14 446.15,207.32 446.5,203.34 446.85,206.74 447.2,203 447.55,207.12 447.9,203 448.25,206.71 448.6,203.56 448.95,207.19 449.3,203.65 449.65,207.34 450,203.54 450.35,207.03 450.7,203.28 451.05,206.78 451.4,203.49 451.75,207.17 452.1,202.83 452.45,207.12 452.8,203.1 453.15,207.09 453.5,203.15 453.85,206.95 454.2,202.81 454.55,206.7 454.9,203.4 455.25,207.27 455.6,202.76 455.95,206.85 456.3,202.88 456.65,207.08 457,202.74 457.35,206.49 457.7,202.78 458.05,206.85 458.4,203.16 458.75,207 459.1,203 459.45,206.77 459.8,203.28 460.15,207.19 460.5,202.81 460.85,206.46 461.2,203.16 461.55,207.03 461.9,202.74 462.25,207.2 462.6,203.29 462.95,207.13 463.3,202.88 463.65,206.4 464,203.3 464.35,206.49 464.7,203.41 465.05,206.92 465.4,203.19 465.75,206.92 466.1,203.38 466.45,207.07 466.8,202.84 467.15,206.98 467.5,202.91 467.85,206.69 468.2,203.26 468.55,207.1 468.9,203.29 469.25,206.72 469.6,203.31 469.95,206.35 470.3,202.78 470.65,207 471,202.95 471.35,206.88 471.7,202.56 472.05,206.61 472.4,202.6 472.75,206.36 473.1,203.1 473.45,206.23 473.8,203.19 474.15,206.09 474.5,202.5 474.85,206.78 475.2,203.07 475.55,206.58 475.9,202.4 476.25,206.51 476.6,202.6 476.95,206.3 477.3,202.39 477.65,206.05 478,202.31 478.35,205.96 478.7,202.89 479.05,206.57 479.4,202.81 479.75,205.89 480.1,202.8 480.45,205.69 480.8,202.7 481.15,206.45 481.5,202.16 481.85,205.95 482.2,202.72 482.55,206.29 482.9,202.27 483.25,206.27 483.6,202.21 483.95,205.55 484.3,202.55 484.65,206.14 485,202.38 485.35,205.54 485.7,202.18 486.05,205.6 486.4,202.25 486.75,206.02 487.1,202.05 487.45,206.16 487.8,202.33 488.15,205.52 488.5,201.64 488.85,205.64 489.2,201.73 489.55,205.64 489.9,202.05 490.25,206.18 490.6,202.49 490.95,206.31 491.3,202.69 491.65,206.29 492,203.52 492.35,206.89 492.7,204.4 493.05,208.89 493.4,205.65 493.75,210.82 494.1,207.54 494.45,212.62 494.8,207.4 495.15,210.91 495.5,205.03 495.85,207.2 496.2,200.56 496.55,201.97 496.9,195.78 497.25,198.04 497.6,191.54 497.95,195.76 498.3,192.07 498.65,198.33 499,195.88 499.35,201.97 499.7,198.76 500.05,203.55 500.4,200.72 500.75,205.39 501.1,202.05 501.45,206.97 501.8,203.98 502.15,207.18 502.5,204.3 502.85,207.48 503.2,204.06 503.55,207.8 503.9,204.14 504.25,208.32 504.6,204.15 504.95,207.44 505.3,202.92 505.65,206.84 506,202.58 506.35,205.89 506.7,201.7 507.05,204.64 507.4,201 507.75,204.64 508.1,201.01 508.45,205.12 508.8,201.58 509.15,206.4 509.5,202.47 509.85,206.58 510.2,203.14 510.55,207.65 510.9,203.59 511.25,208.12 511.6,203.96 511.95,208.56 512.3,204.55 512.65,208.27 513,204.89 513.35,208.55 513.7,205.55 514.05,208.89 514.4,205.36 514.75,209.01 515.1,204.52 515.45,208.76 515.8,204.41 516.15,208.32 516.5,204.51 516.85,207.61 517.2,203.6 517.55,207.37 517.9,203.52 518.25,207.45 518.6,203.71 518.95,207.52 519.3,203.26 519.65,206.83 520,203.54 520.35,207.56 520.7,203.67 521.05,206.77 521.4,203.76 521.75,207.23 522.1,203.82 522.45,206.81 522.8,203.79 523.15,207.48 523.5,203.06 523.85,206.88 524.2,202.42 524.55,208.41 524.9,203.07 525.25,208.67 525.6,202.17 525.95,208.41 526.3,202.52 526.65,208.55 527,202.07 527.35,207.88 527.7,202.85 528.05,208.81 528.4,202.52 528.75,208.05 529.1,201.92 529.45,208.46 529.8,202.17 530.15,208.57 530.5,202.05 530.85,208.41 531.2,201.84 531.55,208.56 531.9,202.06 532.25,208.61 532.6,203.1 532.95,208.82 533.3,202.15 533.65,207.62 534,202.2 534.35,208.45 534.7,202.5 535.05,207.91 535.4,202.45 535.75,207.72 536.1,202.64 536.45,208.33 536.8,202.21 537.15,208.23 537.5,201.98 537.85,208.69 538.2,201.95 538.55,208.29 538.9,202.83 539.25,207.56 539.6,202.39 539.95,208.19 540.3,203.16 540.65,207.69 541,201.87 541.35,208.51 541.7,201.95 542.05,207.95 542.4,202.54 542.75,208.35 543.1,202.48 543.45,207.7 543.8,202.08 544.15,208.95 544.5,201.6 544.85,210.11 545.2,198.91 545.55,209.25 545.9,198.16 546.25,212.09 546.6,195.57 546.95,215.04 547.3,193.62 547.65,216.04 548,191.72 548.35,216.31 548.7,193.29 549.05,215.39 549.4,189.96 549.75,212.86 550.1,195.69 550.45,210.84 550.8,198.87 551.15,209.39 551.5,199.7 551.85,209.04 552.2,201.25 552.55,209.07 552.9,202.42 553.25,208.69 553.6,201.8 553.95,208.02 554.3,203.04 554.65,208.9 555,202.18 555.35,209.94 555.7,201.91 556.05,210.71 556.4,201.77 556.75,209.95 557.1,200.32 557.45,208.74 557.8,199.76 558.15,207.92 558.5,200.85 558.85,208.79 559.2,201.95 559.55,207.58 559.9,202.33 560.25,207.69 560.6,202.64 560.95,208.79 561.3,202.8 561.65,207.64 562,201.93 562.35,207.79 562.7,202.38 563.05,207.85 563.4,201.91 563.75,208.5 564.1,202.1 564.45,207.64 564.8,202.68 565.15,208.64 565.5,202.77 565.85,207.65 566.2,202.03 566.55,207.86 566.9,202.38 567.25,207.76 567.6,203 567.95,208.16 568.3,202.31 568.65,208.53 569,201.92 569.35,208.19 569.7,202.25 570.05,207.92 570.4,201.98 570.75,207.96 571.1,203.11 571.45,207.78 571.8,202.97 572.15,208.35 572.5,202.95 572.85,208.11 573.2,202.73 573.55,208.56 573.9,202.78 574.25,207.03 574.6,203.49 574.95,207.11 575.3,202.94 575.65,207.57 576,202.69 576.35,207.27 576.7,202.36 577.05,207.88 577.4,201.93 577.75,208.58 578.1,203.04 578.45,208.25 578.8,202.54 579.15,208.53 579.5,202.56 579.85,208.5 580.2,201.37 580.55,208.65 580.9,201.97 581.25,209.07 581.6,200.64 581.95,208.46 582.3,202 582.65,208.79 583,201.25 583.35,208.97 583.7,199.75 584.05,208.94 584.4,201.38 584.75,208.72 585.1,200.02 585.45,209.49 585.8,199.63 586.15,210.73 586.5,199.74 586.85,209.65 587.2,197.6 587.55,210.03 587.9,199.09 588.25,209.82 588.6,197.73 588.95,210.65 589.3,196.85 589.65,211.47 590,196.14 590.35,211.45 590.7,195.89 591.05,210.86 591.4,197.18 591.75,212.12 592.1,196.55 592.45,212.17 592.8,196.66 593.15,215.55 593.5,197.27 593.85,214.16 594.2,192.88 594.55,214.5 594.9,194.72 595.25,215.24 595.6,195.96 595.95,214.17 596.3,192.48 596.65,216.81 597,194.51 597.35,217.07 597.7,189.3 598.05,216.28 598.4,189.7 598.75,221.71 599.1,190.7 599.45,217.49 599.8,190.51 600.15,222.71 600.5,189.21 600.85,222.2 601.2,191.24 601.55,215.8 601.9,195.07 602.25,219.8 602.6,192.89 602.95,219.37 603.3,192.19 603.65,216.91 604,194.49 604.35,217.17 604.7,195.91 605.05,216.71 605.4,191.92 605.75,219.25 606.1,193.52 606.45,219.48 606.8,192.54 607.15,225.08 607.5,190.99 607.85,225.34 608.2,189.88 608.55,222.13 608.9,189.86 609.25,225.89 609.6,180.9 609.95,231.41 610.3,182.56 610.65,230.22 611,179.97 611.35,230.41 611.7,183.81 612.05,222.82 612.4,184.74 612.75,226.44 613.1,180.38 613.45,224.49 613.8,183.01 614.15,217.3 614.5,191.88 614.85,217.2 615.2,192.8 615.55,218.11 615.9,191.75 616.25,217.55 616.6,189.79 616.95,221.97 617.3,186.42 617.65,219.07 618,183.72 618.35,220.73 618.7,187.33 619.05,227.07 619.4,189.23 619.75,221.63 620.1,190.06 620.45,216.82 620.8,194.68 621.15,215.31 621.5,194.58 621.85,212.33 622.2,198.62 622.55,212.84 622.9,200.41 623.25,208.8 623.6,199.4 623.95,211.92 624.3,199.04 624.65,214.74 625,198.49 625.35,214.66 625.7,192.39 626.05,217.8 626.4,195.1 626.75,216.96 627.1,187.74 627.45,220.93 627.8,185.8 628.15,220.31 628.5,189.12 628.85,219.02 629.2,188.28 629.55,221.62 629.9,188.57 630.25,218.29 630.6,190.97 630.95,214.8 631.3,192.86 631.65,216.92 632,193 632.35,214.63 632.7,197.1 633.05,216.63 633.4,193.86 633.75,216.56 634.1,197 634.45,216.28 634.8,195.75 635.15,220.81 635.5,190.82 635.85,220.94 636.2,187.93 636.55,225.6 636.9,183.25 637.25,219.38 637.6,189.17 637.95,229.85 638.3,183.78 638.65,228.48 639,183.92 639.35,229.33 639.7,180.22 640.05,224.59 640.4,180.73 640.75,222.05 641.1,188 641.45,227.2 641.8,179.65 642.15,230.67 642.5,189.5 642.85,222.79 643.2,189.83 643.55,225.91 643.9,188.82 644.25,219.82 644.6,189.83 644.95,218.85 645.3,190.97 645.65,215.29 646,195.53 646.35,214.65 646.7,197.1 647.05,215.74 647.4,198.7 647.75,213.16 648.1,200.06 648.45,211.11 648.8,202.22 649.15,209.13 649.5,201.45 649.85,208.09 650.2,201.9 650.55,208.74 650.9,201.7 651.25,208.42 651.6,202.35 651.95,207.79 652.3,202.27 652.65,209.04 653,202.36 653.35,208.66 653.7,202.59 654.05,207.77 654.4,202.6 654.75,207.48" fill="none" stroke="#4bcc68" stroke-width="0.7" stroke-linejoin="round" />
<polyline points="436.7,337.81 437.05,340.92 437.4,337.83 437.75,340.73 438.1,338.06 438.45,340.95 438.8,337.89 439.15,340.65 439.5,337.8 439.85,340.96 440.2,338 440.55,340.91 440.9,338.06 441.25,340.79 441.6,337.83 441.95,340.78 442.3,337.92 442.65,340.68 443,337.83 443.35,340.81 443.7,338.01 444.05,340.9 444.4,337.77 444.75,340.82 445.1,337.85 445.45,340.96 445.8,338.08 446.15,340.84 446.5,337.78 446.85,340.68 447.2,338.02 447.55,340.82 447.9,337.86 448.25,340.82 448.6,337.91 448.95,340.66 449.3,337.85 449.65,340.75 450,338.06 450.35,340.95 450.7,337.88 451.05,340.79 451.4,337.85 451.75,340.8 452.1,338.05 452.45,340.84 452.8,337.85 453.15,340.88 453.5,337.91 453.85,340.94 454.2,337.78 454.55,340.93 454.9,337.97 455.25,340.73 455.6,337.92 455.95,340.86 456.3,338.04 456.65,340.83 457,337.95 457.35,340.65 457.7,337.95 458.05,340.77 458.4,337.78 458.75,340.66 459.1,337.79 459.45,340.94 459.8,337.89 460.15,340.71 460.5,337.83 460.85,340.7 461.2,337.98 461.55,340.86 461.9,337.95 462.25,340.79 462.6,337.99 462.95,340.66 463.3,337.97 463.65,340.91 464,337.82 464.35,340.67 464.7,337.91 465.05,340.76 465.4,337.96 465.75,340.96 466.1,337.83 466.45,340.81 466.8,337.92 467.15,340.94 467.5,337.97 467.85,340.9 468.2,337.85 468.55,340.88 468.9,337.94 469.25,340.87 469.6,337.82 469.95,340.74 470.3,337.84 470.65,340.8 471,337.92 471.35,340.8 471.7,337.97 472.05,340.89 472.4,337.96 472.75,340.7 473.1,337.83 473.45,340.77 473.8,337.9 474.15,340.96 474.5,337.88 474.85,340.81 475.2,338 475.55,340.87 475.9,337.78 476.25,340.87 476.6,337.84 476.95,340.75 477.3,337.99 477.65,340.76 478,337.93 478.35,340.93 478.7,337.94 479.05,340.7 479.4,337.92 479.75,340.73 480.1,337.88 480.45,340.76 480.8,337.78 481.15,340.79 481.5,337.9 481.85,340.83 482.2,337.95 482.55,340.96 482.9,338.07 483.25,340.88 483.6,338 483.95,340.67 484.3,337.7 484.65,341.1 485,333.46 485.35,347.56 485.7,336.03 486.05,344.35 486.4,338 486.75,340.82 487.1,338 487.45,340.66 487.8,337.99 488.15,340.94 488.5,337.92 488.85,340.73 489.2,338.05 489.55,340.93 489.9,338.06 490.25,340.66 490.6,338.05 490.95,340.89 491.3,337.79 491.65,340.68 492,337.88 492.35,340.86 492.7,337.92 493.05,340.65 493.4,337.87 493.75,340.78 494.1,337.79 494.45,340.97 494.8,337.88 495.15,340.68 495.5,337.99 495.85,340.85 496.2,337.81 496.55,340.78 496.9,337.97 497.25,340.84 497.6,337.81 497.95,340.71 498.3,337.9 498.65,340.84 499,337.93 499.35,340.76 499.7,337.78 500.05,340.91 500.4,338.02 500.75,340.73 501.1,336.45 501.45,341.66 501.8,336.02 502.15,340.91 502.5,337.81 502.85,340.88 503.2,337.82 503.55,340.91 503.9,337.98 504.25,340.82 504.6,337.85 504.95,340.84 505.3,337.9 505.65,340.91 506,337.78 506.35,340.93 506.7,338 507.05,340.69 507.4,337.99 507.75,340.9 508.1,337.99 508.45,340.88 508.8,337.9 509.15,340.96 509.5,338.05 509.85,340.91 510.2,338.07 510.55,340.85 510.9,337.91 511.25,340.73 511.6,338 511.95,340.77 512.3,337.93 512.65,340.7 513,337.95 513.35,340.67 513.7,337.93 514.05,340.82 514.4,337.96 514.75,340.8 515.1,337.9 515.45,340.81 515.8,338.03 516.15,340.72 516.5,338 516.85,340.97 517.2,337.93 517.55,340.87 517.9,338.02 518.25,340.81 518.6,337.95 518.95,340.71 519.3,338.02 519.65,340.72 520,337.85 520.35,340.88 520.7,337.81 521.05,340.75 521.4,337.92 521.75,340.88 522.1,337.91 522.45,340.92 522.8,338.08 523.15,340.87 523.5,338.04 523.85,340.81 524.2,337.96 524.55,340.79 524.9,337.84 525.25,340.68 525.6,338.07 525.95,340.95 526.3,337.93 526.65,340.78 527,338.04 527.35,340.81 527.7,337.87 528.05,340.93 528.4,337.96 528.75,340.69 529.1,337.84 529.45,340.74 529.8,337.86 530.15,340.9 530.5,337.78 530.85,340.7 531.2,338 531.55,340.77 531.9,337.82 532.25,340.79 532.6,337.95 532.95,340.92 533.3,338.05 533.65,340.68 534,338.06 534.35,340.81 534.7,338.02 535.05,340.76 535.4,337.93 535.75,340.82 536.1,337.96 536.45,340.69 536.8,337.82 537.15,340.92 537.5,337.9 537.85,340.75 538.2,337.72 538.55,340.81 538.9,337.42 539.25,341.69 539.6,336.48 539.95,343.63 540.3,333.87 540.65,345.11 541,332.58 541.35,346.21 541.7,333.77 542.05,343.2 542.4,336.51 542.75,341.72 543.1,337.76 543.45,341.01 543.8,337.87 544.15,340.78 544.5,337.95 544.85,340.8 545.2,338.05 545.55,340.94 545.9,337.95 546.25,340.86 546.6,338.05 546.95,340.93 547.3,337.86 547.65,340.73 548,337.8 548.35,340.93 548.7,337.94 549.05,340.74 549.4,337.5 549.75,341.81 550.1,330.21 550.45,345.48 550.8,335.41 551.15,341.21 551.5,337.97 551.85,340.91 552.2,337.81 552.55,340.7 552.9,337.98 553.25,340.95 553.6,337.84 553.95,340.87 554.3,338.01 554.65,340.88 555,338.07 555.35,340.73 555.7,338.01 556.05,340.66 556.4,337.94 556.75,340.66 557.1,337.77 557.45,340.8 557.8,337.84 558.15,340.82 558.5,338.05 558.85,340.79 559.2,338.08 559.55,340.74 559.9,337.88 560.25,340.7 560.6,337.79 560.95,340.85 561.3,338.08 561.65,340.78 562,337.8 562.35,340.73 562.7,338.05 563.05,340.74 563.4,337.93 563.75,340.77 564.1,338.01 564.45,340.8 564.8,337.93 565.15,340.87 565.5,337.77 565.85,340.85 566.2,338.06 566.55,340.7 566.9,337.99 567.25,340.95 567.6,338.07 567.95,340.85 568.3,337.96 568.65,340.73 569,337.88 569.35,340.89 569.7,337.84 570.05,340.72 570.4,338.03 570.75,340.71 571.1,338.02 571.45,340.72 571.8,337.92 572.15,340.75 572.5,337.89 572.85,340.96 573.2,337.83 573.55,340.68 573.9,337.78 574.25,341 574.6,337.97 574.95,341.08 575.3,337.86 575.65,341.23 576,337.53 576.35,341.29 576.7,337.13 577.05,341.58 577.4,337.15 577.75,341.66 578.1,336.82 578.45,342.03 578.8,336.95 579.15,341.57 579.5,336.87 579.85,341.65 580.2,337.33 580.55,341.22 580.9,336.96 581.25,342 581.6,336.7 581.95,342.58 582.3,335.98 582.65,342.9 583,335.64 583.35,343.13 583.7,334.95 584.05,342.59 584.4,334.66 584.75,343.18 585.1,334.83 585.45,342.61 585.8,334.79 586.15,342.97 586.5,334.81 586.85,342.37 587.2,336.7 587.55,342.92 587.9,334.71 588.25,343.63 588.6,333.44 588.95,344.12 589.3,333.6 589.65,346.05 590,331.76 590.35,346.49 590.7,331.91 591.05,346.37 591.4,332.13 591.75,346.08 592.1,331.11 592.45,346.26 592.8,331.62 593.15,345.43 593.5,333.39 593.85,344.59 594.2,332.83 594.55,346.15 594.9,330.92 595.25,346.81 595.6,330.42 595.95,348.38 596.3,330.07 596.65,348.05 597,329.48 597.35,349.44 597.7,329.53 598.05,349.2 598.4,329.73 598.75,348.57 599.1,330.22 599.45,348.05 599.8,331.74 600.15,347.18 600.5,333.06 600.85,346.51 601.2,330.78 601.55,349.13 601.9,330.98 602.25,348.08 602.6,330.11 602.95,348.98 603.3,330.26 603.65,349.16 604,329.65 604.35,349 604.7,329.61 605.05,349.16 605.4,330.32 605.75,347.95 606.1,330.41 606.45,347.85 606.8,332.35 607.15,346.1 607.5,330.79 607.85,348.51 608.2,329.96 608.55,348.94 608.9,329.8 609.25,349.62 609.6,330.23 609.95,348.8 610.3,329.13 610.65,348.87 611,330.83 611.35,348.92 611.7,329.44 612.05,348.34 612.4,330.67 612.75,348.39 613.1,332.44 613.45,345.51 613.8,333.4 614.15,346.78 614.5,331.91 614.85,348.07 615.2,331.01 615.55,347.43 615.9,330.08 616.25,348.77 616.6,329.79 616.95,347.81 617.3,330.76 617.65,347.99 618,330.6 618.35,347.98 618.7,332.16 619.05,346.01 619.4,333.09 619.75,345.04 620.1,334.05 620.45,344.93 620.8,333.87 621.15,345.89 621.5,332.55 621.85,346.08 622.2,332.2 622.55,345.56 622.9,332.24 623.25,345.49 623.6,332.13 623.95,346.01 624.3,332.44 624.65,345.13 625,333.73 625.35,345.59 625.7,334.35 626.05,344.33 626.4,334.38 626.75,343.49 627.1,335.27 627.45,343.8 627.8,334.03 628.15,344.42 628.5,334.1 628.85,344.42 629.2,333.89 629.55,345.43 629.9,333.62 630.25,344.39 630.6,334.36 630.95,345.27 631.3,333.91 631.65,344.13 632,334.29 632.35,344.4 632.7,334.62 633.05,343.5 633.4,336.68 633.75,343.65 634.1,334.84 634.45,344.31 634.8,334.6 635.15,344.7 635.5,334 635.85,344.26 636.2,334.64 636.55,344.63 636.9,334.6 637.25,344.25 637.6,334.69 637.95,344.12 638.3,334.78 638.65,344.14 639,334.91 639.35,343.13 639.7,335.6 640.05,342.63 640.4,335.66 640.75,343.02 641.1,334.79 641.45,344.04 641.8,335.25 642.15,343.78 642.5,334.41 642.85,344.21 643.2,335.04 643.55,343.88 643.9,335.21 644.25,344.31 644.6,334.65 644.95,343.43 645.3,335.3 645.65,343.51 646,335.69 646.35,342.32 646.7,336.24 647.05,342.98 647.4,336.04 647.75,343.59 648.1,335.34 648.45,343.59 648.8,334.99 649.15,344 649.5,335.06 649.85,343.45 650.2,335.15 650.55,344 650.9,335.01 651.25,343.56 651.6,335.28 651.95,343.26 652.3,335.3 652.65,343.16 653,336.43 653.35,342 653.7,336.22 654.05,342.84 654.4,335.57" fill="none" stroke="#fb9029" stroke-width="0.7" stroke-linejoin="round" />
<polyline points="546.2,70.7 547.4,55.3 548,75 548.4,62 549.1,99.6 549.6,66 550.3,49.9 550.9,78 551.6,82.2 552.2,68 552.8,72" fill="none" stroke="#20b8d1" stroke-width="0.9" stroke-linejoin="round" />
<polyline points="562.8,71 563.4,60 564,52.4 564.6,80 565,85.1 565.5,55 566,60 566.5,90.1 567,72" fill="none" stroke="#20b8d1" stroke-width="0.9" stroke-linejoin="round" />
<polyline points="547.4,195 548.4,170.2 549,200 548.9,222.5 549.6,205" fill="none" stroke="#4bcc68" stroke-width="0.9" stroke-linejoin="round" />
<polyline points="555.4,207 556,257 556.6,210 557.2,195 557.7,172.8 558.3,205" fill="none" stroke="#4bcc68" stroke-width="0.8" stroke-linejoin="round" />
<polyline points="484.6,339 485.2,333.4 485.5,349.4 485.9,343" fill="none" stroke="#fb9029" stroke-width="0.8" stroke-linejoin="round" />
<polyline points="549.7,334.81 550.3,329 550.6,345.6 551,338.96" fill="none" stroke="#fb9029" stroke-width="0.8" stroke-linejoin="round" />
<line x1="414.3" y1="123.7" x2="416.7" y2="123.7" stroke="#262626" stroke-width="1" />
<line x1="414.3" y1="107" x2="418.6" y2="107" stroke="#262626" stroke-width="1" />
<text x="408.4" y="111.7" font-size="13.4" fill="#1c1c1c" text-anchor="end"  stroke="#1c1c1c" stroke-width="0.18">-48</text>
<line x1="414.3" y1="90.3" x2="416.7" y2="90.3" stroke="#262626" stroke-width="1" />
<line x1="414.3" y1="73.6" x2="418.6" y2="73.6" stroke="#262626" stroke-width="1" />
<text x="408.4" y="78.3" font-size="13.4" fill="#1c1c1c" text-anchor="end"  stroke="#1c1c1c" stroke-width="0.18">0</text>
<line x1="414.3" y1="56.9" x2="416.7" y2="56.9" stroke="#262626" stroke-width="1" />
<line x1="414.3" y1="40.2" x2="418.6" y2="40.2" stroke="#262626" stroke-width="1" />
<text x="408.4" y="44.9" font-size="13.4" fill="#1c1c1c" text-anchor="end"  stroke="#1c1c1c" stroke-width="0.18">48</text>
<line x1="414.3" y1="23.5" x2="416.7" y2="23.5" stroke="#262626" stroke-width="1" />
<line x1="421.59" y1="140.93" x2="421.59" y2="138.13" stroke="#262626" stroke-width="1" />
<line x1="436.7" y1="140.93" x2="436.7" y2="136.13" stroke="#262626" stroke-width="1" />
<line x1="451.81" y1="140.93" x2="451.81" y2="138.13" stroke="#262626" stroke-width="1" />
<line x1="466.93" y1="140.93" x2="466.93" y2="136.13" stroke="#262626" stroke-width="1" />
<line x1="482.04" y1="140.93" x2="482.04" y2="138.13" stroke="#262626" stroke-width="1" />
<line x1="497.15" y1="140.93" x2="497.15" y2="136.13" stroke="#262626" stroke-width="1" />
<line x1="512.26" y1="140.93" x2="512.26" y2="138.13" stroke="#262626" stroke-width="1" />
<line x1="527.38" y1="140.93" x2="527.38" y2="136.13" stroke="#262626" stroke-width="1" />
<line x1="542.49" y1="140.93" x2="542.49" y2="138.13" stroke="#262626" stroke-width="1" />
<line x1="557.6" y1="140.93" x2="557.6" y2="136.13" stroke="#262626" stroke-width="1" />
<line x1="572.71" y1="140.93" x2="572.71" y2="138.13" stroke="#262626" stroke-width="1" />
<line x1="587.83" y1="140.93" x2="587.83" y2="136.13" stroke="#262626" stroke-width="1" />
<line x1="602.94" y1="140.93" x2="602.94" y2="138.13" stroke="#262626" stroke-width="1" />
<line x1="618.05" y1="140.93" x2="618.05" y2="136.13" stroke="#262626" stroke-width="1" />
<line x1="633.16" y1="140.93" x2="633.16" y2="138.13" stroke="#262626" stroke-width="1" />
<line x1="648.27" y1="140.93" x2="648.27" y2="136.13" stroke="#262626" stroke-width="1" />
<line x1="663.39" y1="140.93" x2="663.39" y2="138.13" stroke="#262626" stroke-width="1" />
<line x1="414.3" y1="140.93" x2="678.7" y2="140.93" stroke="#262626" stroke-width="1.3" />
<line x1="414.3" y1="257.93" x2="416.7" y2="257.93" stroke="#262626" stroke-width="1" />
<line x1="414.3" y1="241.23" x2="418.6" y2="241.23" stroke="#262626" stroke-width="1" />
<text x="408.4" y="245.93" font-size="13.4" fill="#1c1c1c" text-anchor="end"  stroke="#1c1c1c" stroke-width="0.18">-48</text>
<line x1="414.3" y1="224.53" x2="416.7" y2="224.53" stroke="#262626" stroke-width="1" />
<line x1="414.3" y1="207.83" x2="418.6" y2="207.83" stroke="#262626" stroke-width="1" />
<text x="408.4" y="212.53" font-size="13.4" fill="#1c1c1c" text-anchor="end"  stroke="#1c1c1c" stroke-width="0.18">0</text>
<line x1="414.3" y1="191.13" x2="416.7" y2="191.13" stroke="#262626" stroke-width="1" />
<line x1="414.3" y1="174.43" x2="418.6" y2="174.43" stroke="#262626" stroke-width="1" />
<text x="408.4" y="179.13" font-size="13.4" fill="#1c1c1c" text-anchor="end"  stroke="#1c1c1c" stroke-width="0.18">48</text>
<line x1="414.3" y1="157.73" x2="416.7" y2="157.73" stroke="#262626" stroke-width="1" />
<line x1="421.59" y1="275.17" x2="421.59" y2="272.37" stroke="#262626" stroke-width="1" />
<line x1="436.7" y1="275.17" x2="436.7" y2="270.37" stroke="#262626" stroke-width="1" />
<line x1="451.81" y1="275.17" x2="451.81" y2="272.37" stroke="#262626" stroke-width="1" />
<line x1="466.93" y1="275.17" x2="466.93" y2="270.37" stroke="#262626" stroke-width="1" />
<line x1="482.04" y1="275.17" x2="482.04" y2="272.37" stroke="#262626" stroke-width="1" />
<line x1="497.15" y1="275.17" x2="497.15" y2="270.37" stroke="#262626" stroke-width="1" />
<line x1="512.26" y1="275.17" x2="512.26" y2="272.37" stroke="#262626" stroke-width="1" />
<line x1="527.38" y1="275.17" x2="527.38" y2="270.37" stroke="#262626" stroke-width="1" />
<line x1="542.49" y1="275.17" x2="542.49" y2="272.37" stroke="#262626" stroke-width="1" />
<line x1="557.6" y1="275.17" x2="557.6" y2="270.37" stroke="#262626" stroke-width="1" />
<line x1="572.71" y1="275.17" x2="572.71" y2="272.37" stroke="#262626" stroke-width="1" />
<line x1="587.83" y1="275.17" x2="587.83" y2="270.37" stroke="#262626" stroke-width="1" />
<line x1="602.94" y1="275.17" x2="602.94" y2="272.37" stroke="#262626" stroke-width="1" />
<line x1="618.05" y1="275.17" x2="618.05" y2="270.37" stroke="#262626" stroke-width="1" />
<line x1="633.16" y1="275.17" x2="633.16" y2="272.37" stroke="#262626" stroke-width="1" />
<line x1="648.27" y1="275.17" x2="648.27" y2="270.37" stroke="#262626" stroke-width="1" />
<line x1="663.39" y1="275.17" x2="663.39" y2="272.37" stroke="#262626" stroke-width="1" />
<line x1="414.3" y1="275.17" x2="678.7" y2="275.17" stroke="#262626" stroke-width="1.3" />
<line x1="414.3" y1="392.17" x2="416.7" y2="392.17" stroke="#262626" stroke-width="1" />
<line x1="414.3" y1="375.47" x2="418.6" y2="375.47" stroke="#262626" stroke-width="1" />
<text x="408.4" y="380.17" font-size="13.4" fill="#1c1c1c" text-anchor="end"  stroke="#1c1c1c" stroke-width="0.18">-48</text>
<line x1="414.3" y1="358.77" x2="416.7" y2="358.77" stroke="#262626" stroke-width="1" />
<line x1="414.3" y1="342.07" x2="418.6" y2="342.07" stroke="#262626" stroke-width="1" />
<text x="408.4" y="346.77" font-size="13.4" fill="#1c1c1c" text-anchor="end"  stroke="#1c1c1c" stroke-width="0.18">0</text>
<line x1="414.3" y1="325.37" x2="416.7" y2="325.37" stroke="#262626" stroke-width="1" />
<line x1="414.3" y1="308.67" x2="418.6" y2="308.67" stroke="#262626" stroke-width="1" />
<text x="408.4" y="313.37" font-size="13.4" fill="#1c1c1c" text-anchor="end"  stroke="#1c1c1c" stroke-width="0.18">48</text>
<line x1="414.3" y1="291.97" x2="416.7" y2="291.97" stroke="#262626" stroke-width="1" />
<line x1="421.59" y1="409.4" x2="421.59" y2="406.6" stroke="#262626" stroke-width="1" />
<line x1="436.7" y1="409.4" x2="436.7" y2="404.6" stroke="#262626" stroke-width="1" />
<line x1="451.81" y1="409.4" x2="451.81" y2="406.6" stroke="#262626" stroke-width="1" />
<line x1="466.93" y1="409.4" x2="466.93" y2="404.6" stroke="#262626" stroke-width="1" />
<line x1="482.04" y1="409.4" x2="482.04" y2="406.6" stroke="#262626" stroke-width="1" />
<line x1="497.15" y1="409.4" x2="497.15" y2="404.6" stroke="#262626" stroke-width="1" />
<line x1="512.26" y1="409.4" x2="512.26" y2="406.6" stroke="#262626" stroke-width="1" />
<line x1="527.38" y1="409.4" x2="527.38" y2="404.6" stroke="#262626" stroke-width="1" />
<line x1="542.49" y1="409.4" x2="542.49" y2="406.6" stroke="#262626" stroke-width="1" />
<line x1="557.6" y1="409.4" x2="557.6" y2="404.6" stroke="#262626" stroke-width="1" />
<line x1="572.71" y1="409.4" x2="572.71" y2="406.6" stroke="#262626" stroke-width="1" />
<line x1="587.83" y1="409.4" x2="587.83" y2="404.6" stroke="#262626" stroke-width="1" />
<line x1="602.94" y1="409.4" x2="602.94" y2="406.6" stroke="#262626" stroke-width="1" />
<line x1="618.05" y1="409.4" x2="618.05" y2="404.6" stroke="#262626" stroke-width="1" />
<line x1="633.16" y1="409.4" x2="633.16" y2="406.6" stroke="#262626" stroke-width="1" />
<line x1="648.27" y1="409.4" x2="648.27" y2="404.6" stroke="#262626" stroke-width="1" />
<line x1="663.39" y1="409.4" x2="663.39" y2="406.6" stroke="#262626" stroke-width="1" />
<line x1="414.3" y1="409.4" x2="678.7" y2="409.4" stroke="#262626" stroke-width="1.3" />
<line x1="414.3" y1="6.7" x2="678.7" y2="6.7" stroke="#555555" stroke-width="1.3" />
<line x1="414.3" y1="6.1" x2="414.3" y2="410" stroke="#262626" stroke-width="1.3" />
<line x1="678.7" y1="6.1" x2="678.7" y2="410" stroke="#262626" stroke-width="1.3" />
<text x="436.7" y="425.9" font-size="13.3" fill="#1c1c1c" text-anchor="middle"  stroke="#1c1c1c" stroke-width="0.18">0</text>
<text x="466.93" y="425.9" font-size="13.3" fill="#1c1c1c" text-anchor="middle"  stroke="#1c1c1c" stroke-width="0.18">10</text>
<text x="497.15" y="425.9" font-size="13.3" fill="#1c1c1c" text-anchor="middle"  stroke="#1c1c1c" stroke-width="0.18">20</text>
<text x="527.38" y="425.9" font-size="13.3" fill="#1c1c1c" text-anchor="middle"  stroke="#1c1c1c" stroke-width="0.18">30</text>
<text x="557.6" y="425.9" font-size="13.3" fill="#1c1c1c" text-anchor="middle"  stroke="#1c1c1c" stroke-width="0.18">40</text>
<text x="587.83" y="425.9" font-size="13.3" fill="#1c1c1c" text-anchor="middle"  stroke="#1c1c1c" stroke-width="0.18">50</text>
<text x="618.05" y="425.9" font-size="13.3" fill="#1c1c1c" text-anchor="middle"  stroke="#1c1c1c" stroke-width="0.18">60</text>
<text x="648.27" y="425.9" font-size="13.3" fill="#1c1c1c" text-anchor="middle"  stroke="#1c1c1c" stroke-width="0.18">70</text>
<text x="678.5" y="425.9" font-size="13.3" fill="#1c1c1c" text-anchor="middle"  stroke="#1c1c1c" stroke-width="0.18">80</text>
<text x="515.6" y="450.3" font-size="17.2" fill="#1c1c1c" text-anchor="start"  stroke="#1c1c1c" stroke-width="0.18">Time (s)</text>
<text transform="translate(380.5,248.8) rotate(-90)" font-size="17.6" fill="#1c1c1c">Voltage (mV)</text>
<text x="373" y="18" font-size="17.5" fill="#231f20" text-anchor="start" >c</text>
<text x="435.4" y="33.7" font-size="13.4" fill="#7b6c1e" text-anchor="start" >rest</text>
<text x="481.8" y="33.7" font-size="13.4" fill="#9a50d0" text-anchor="start" >cough</text>
<text x="573.3" y="33.7" font-size="13.4" fill="#e8393f" text-anchor="end" >swallow</text>
<text x="603" y="33.7" font-size="13.4" fill="#3b3366" text-anchor="start" >speak</text>
<text x="431.4" y="119.6" font-size="13.4" fill="#33b6d0" text-anchor="start" >long-time annealed</text>
<text x="431.2" y="253.8" font-size="13.4" fill="#4cc86a" text-anchor="start" >flash annealed</text>
<text x="431.2" y="387.8" font-size="13.4" fill="#f7923a" text-anchor="start" >unannealed</text>
<polyline points="54.7,479.96 55,487.37 55.3,479.94 55.6,487.39 55.9,479.92 56.2,486.27 56.5,480.16 56.8,487.24 57.1,480.52 57.4,486.86 57.7,480.23 58,487 58.3,481.04 58.6,486.92 58.9,481 59.2,486.75 59.5,480.13 59.8,486.36 60.1,481.16 60.4,487.02 60.7,479.9 61,487.18 61.3,480.87 61.6,486.57 61.9,480.35 62.2,487.22 62.5,481.01 62.8,487.49 63.1,479.76 63.4,486.13 63.7,480.15 64,487.44 64.3,481.32 64.6,487.02 64.9,480.48 65.2,486.39 65.5,481.13 65.8,486.82 66.1,481.19 66.4,486.21 66.7,481.35 67,485.99 67.3,481.56 67.6,486.39 67.9,481.34 68.2,486.7 68.5,481.69 68.8,485.61 69.1,481.55 69.4,485.99 69.7,481.46 70,485.54 70.3,481.08 70.6,486.07 70.9,481.24 71.2,485.44 71.5,481.88 71.8,485.77 72.1,481.42 72.4,485.82 72.7,482.24 73,485.24 73.3,481.5 73.6,485.81 73.9,481.77 74.2,485.66 74.5,481.57 74.8,485.56 75.1,482.28 75.4,485.35 75.7,482.23 76,485.03 76.3,482.04 76.6,485.58 76.9,481.96 77.2,484.93 77.5,482.04 77.8,485.22 78.1,482.12 78.4,484.85 78.7,481.93 79,484.77 79.3,482.24 79.6,485.29 79.9,482.5 80.2,485.26 80.5,482.42 80.8,485.09 81.1,482.36 81.4,484.75 81.7,482.21 82,484.94 82.3,482.59 82.6,484.89 82.9,482.61 83.2,484.73 83.5,482.45 83.8,484.59 84.1,482.32 84.4,484.51 84.7,482.47 85,484.64 85.3,482.36 85.6,484.45 85.9,482.7 86.2,484.73 86.5,482.85 86.8,484.85 87.1,482.64 87.4,484.53 87.7,482.69 88,484.53 88.3,482.8 88.6,484.42 88.9,482.82 89.2,484.64 89.5,482.93 89.8,484.67 90.1,482.72 90.4,484.75 90.7,482.76 91,484.57 91.3,482.73 91.6,484.34 91.9,482.7 92.2,484.65 92.5,482.86 92.8,484.34 93.1,482.82 93.4,484.6 93.7,482.72 94,484.52 94.3,482.95 94.6,484.39 94.9,482.78 95.2,484.3 95.5,482.72 95.8,484.62 96.1,482.87 96.4,484.55 96.7,482.99 97,484.52 97.3,482.93 97.6,484.24 97.9,482.84 98.2,484.56 98.5,482.73 98.8,484.49 99.1,482.76 99.4,484.41 99.7,482.86 100,484.27 100.3,483.04 100.6,484.44 100.9,482.93 101.2,484.47 101.5,482.89 101.8,484.39 102.1,482.98 102.4,484.29 102.7,483.04 103,484.3 103.3,483.04 103.6,484.34 103.9,482.97 104.2,484.43 104.5,483.11 104.8,484.2 105.1,483.08 105.4,484.44 105.7,483.08 106,484.22 106.3,483 106.6,484.44 106.9,482.97 107.2,484.34 107.5,482.87 107.8,484.26 108.1,483.1 108.4,484.4 108.7,482.93 109,484.44 109.3,482.94 109.6,484.26 109.9,482.85 110.2,484.34 110.5,482.87 110.8,484.24 111.1,483.04 111.4,484.45 111.7,483.13 112,484.19 112.3,483.05 112.6,484.4 112.9,482.96 113.2,484.35 113.5,483.13 113.8,484.25 114.1,482.84 114.4,484.49 114.7,482.98 115,484.31 115.3,483.14 115.6,484.45 115.9,482.82 116.2,484.42 116.5,483 116.8,484.29 117.1,482.87 117.4,484.21 117.7,482.85 118,484.38 118.3,482.9 118.6,484.31 118.9,482.84 119.2,484.47 119.5,483.03 119.8,484.47 120.1,483.06 120.4,484.34 120.7,482.93 121,484.33 121.3,483.09 121.6,484.47 121.9,483 122.2,484.43 122.5,482.85 122.8,484.42 123.1,483.12 123.4,484.28 123.7,483.12 124,484.36 124.3,483.09 124.6,484.43 124.9,483.1 125.2,484.23 125.5,483.01 125.8,484.25 126.1,483.01 126.4,484.38 126.7,483.01 127,484.44 127.3,483.11 127.6,484.42 127.9,483.13 128.2,484.47 128.5,482.88 128.8,484.35 129.1,483.04 129.4,484.31 129.7,482.93 130,484.37 130.3,482.87 130.6,484.4 130.9,482.94 131.2,484.38 131.5,483.06 131.8,484.28 132.1,482.9 132.4,484.39 132.7,483.1 133,484.48 133.3,482.87 133.6,484.36 133.9,482.94 134.2,484.31 134.5,482.99 134.8,484.27 135.1,482.92 135.4,484.3 135.7,482.99 136,484.18 136.3,483.13 136.6,484.45 136.9,482.85 137.2,484.36 137.5,483.11 137.8,484.29 138.1,482.95 138.4,484.36 138.7,482.94 139,484.2 139.3,482.92 139.6,484.44 139.9,482.86 140.2,484.17 140.5,483.04 140.8,484.37 141.1,483.11 141.4,484.41 141.7,483.09 142,484.31 142.3,482.93 142.6,484.18 142.9,482.91 143.2,484.18 143.5,483.05 143.8,484.19 144.1,482.94 144.4,484.36 144.7,482.92 145,484.46 145.3,482.88 145.6,484.46 145.9,482.85 146.2,484.47 146.5,482.95 146.8,484.35 147.1,483.06 147.4,484.32 147.7,483.07 148,484.31 148.3,482.84 148.6,484.48 148.9,483.02 149.2,484.18 149.5,483.1 149.8,484.19 150.1,483.15 150.4,484.3 150.7,483 151,484.3 151.3,483.05 151.6,484.38 151.9,482.88 152.2,484.3 152.5,483.09 152.8,484.33 153.1,482.9 153.4,484.45 153.7,482.85 154,484.18 154.3,482.84 154.6,484.45 154.9,482.87 155.2,484.22 155.5,482.87 155.8,484.25 156.1,482.85 156.4,484.24 156.7,482.91 157,484.22 157.3,483 157.6,484.19 157.9,482.85 158.2,484.17 158.5,482.88 158.8,484.47 159.1,482.84 159.4,484.33 159.7,482.88 160,484.47 160.3,483.01 160.6,484.4 160.9,483.06 161.2,484.2 161.5,483.06 161.8,484.31 162.1,482.84 162.4,484.41 162.7,482.89 163,484.31 163.3,483.11 163.6,484.33 163.9,483.05 164.2,484.42 164.5,483 164.8,484.23 165.1,482.95 165.4,484.45 165.7,482.88 166,484.23 166.3,483.09 166.6,484.29 166.9,483.06 167.2,484.48 167.5,482.97 167.8,484.18 168.1,482.91 168.4,484.31 168.7,482.91 169,484.19 169.3,483.16 169.6,484.4 169.9,482.89 170.2,484.18 170.5,483.01 170.8,484.3 171.1,483.11 171.4,484.34 171.7,483.04 172,484.47 172.3,483.03 172.6,484.27 172.9,483.07 173.2,484.45 173.5,482.94 173.8,484.23 174.1,482.97 174.4,484.35 174.7,482.86 175,484.28 175.3,483.03 175.6,484.23 175.9,483.16 176.2,484.46 176.5,483.01 176.8,484.17 177.1,482.96 177.4,484.44 177.7,482.91 178,484.24 178.3,483.09 178.6,484.45 178.9,483.06 179.2,484.15 179.5,483.11 179.8,484.33 180.1,482.99 180.4,484.39 180.7,482.92 181,484.19 181.3,482.91 181.6,484.21 181.9,483.14 182.2,484.36 182.5,482.97 182.8,484.39 183.1,483.07 183.4,484.25 183.7,482.94 184,484.43 184.3,482.9 184.6,484.3 184.9,482.97 185.2,484.37 185.5,482.85 185.8,484.21 186.1,483.08 186.4,484.43 186.7,482.91 187,484.44 187.3,482.99 187.6,484.3 187.9,482.91 188.2,484.39 188.5,482.91 188.8,484.25 189.1,482.87 189.4,484.2 189.7,483.15 190,484.24 190.3,483.14 190.6,484.21 190.9,483 191.2,484.24 191.5,483.13 191.8,484.45 192.1,483.15 192.4,484.18 192.7,483.17 193,484.37 193.3,483.02 193.6,484.46 193.9,483.01 194.2,484.15 194.5,483.06 194.8,484.18 195.1,482.98 195.4,484.41 195.7,483.06 196,484.36 196.3,483.16 196.6,484.21 196.9,482.94 197.2,484.17 197.5,482.98 197.8,484.27 198.1,482.86 198.4,484.32 198.7,483.03 199,484.45 199.3,482.93 199.6,484.29 199.9,482.97 200.2,484.18 200.5,482.99 200.8,484.44 201.1,483.07 201.4,484.14 201.7,483.17 202,484.19 202.3,483.08 202.6,484.34 202.9,483.17 203.2,484.32 203.5,482.95 203.8,484.19 204.1,482.96 204.4,484.28 204.7,482.96 205,484.15 205.3,483.07 205.6,484.36 205.9,483.14 206.2,484.35 206.5,482.91" fill="none" stroke="#1a99ae" stroke-width="0.6" stroke-linejoin="round" />
<polyline points="54.7,521.4 55,527.28 55.3,521.86 55.6,527.03 55.9,522.32 56.2,526.65 56.5,523 56.8,526.45 57.1,523.73 57.4,526.22 57.7,523.62 58,526.17 58.3,524.22 58.6,526.11 58.9,524.01 59.2,525.94 59.5,524.29 59.8,526.11 60.1,524.4 60.4,526.21 60.7,524.33 61,525.93 61.3,524.24 61.6,525.97 61.9,524.33 62.2,526.05 62.5,524.06 62.8,526.12 63.1,524.24 63.4,526.1 63.7,524.15 64,525.9 64.3,524.5 64.6,525.99 64.9,524.2 65.2,525.91 65.5,524.35 65.8,526.09 66.1,524.18 66.4,525.85 66.7,524.32 67,525.88 67.3,524.59 67.6,526.08 67.9,524.58 68.2,525.86 68.5,524.32 68.8,525.99 69.1,524.42 69.4,525.85 69.7,524.49 70,526.13 70.3,524.23 70.6,525.9 70.9,524.21 71.2,526.18 71.5,524.31 71.8,525.8 72.1,524.48 72.4,525.93 72.7,524.4 73,525.94 73.3,524.29 73.6,526.15 73.9,524.57 74.2,526.06 74.5,524.42 74.8,526.19 75.1,524.42 75.4,525.94 75.7,524.29 76,525.85 76.3,524.24 76.6,525.92 76.9,524.28 77.2,526.02 77.5,524.34 77.8,526.06 78.1,524.58 78.4,525.82 78.7,524.37 79,525.85 79.3,524.48 79.6,526.08 79.9,524.52 80.2,526.15 80.5,524.24 80.8,526.07 81.1,524.31 81.4,526.12 81.7,524.43 82,525.83 82.3,524.22 82.6,526.15 82.9,524.28 83.2,526.17 83.5,524.53 83.8,525.92 84.1,524.39 84.4,525.88 84.7,524.36 85,526.15 85.3,524.35 85.6,526.18 85.9,524.33 86.2,526.15 86.5,524.28 86.8,526.04 87.1,524.53 87.4,526.17 87.7,524.41 88,525.96 88.3,524.58 88.6,525.98 88.9,524.6 89.2,525.96 89.5,524.26 89.8,526.18 90.1,524.44 90.4,525.86 90.7,524.26 91,525.82 91.3,524.37 91.6,525.83 91.9,524.27 92.2,525.89 92.5,524.23 92.8,526.09 93.1,524.48 93.4,526.03 93.7,524.33 94,525.85 94.3,524.58 94.6,525.79 94.9,524.42 95.2,526.14 95.5,524.27 95.8,525.9 96.1,524.31 96.4,525.95 96.7,524.51 97,526 97.3,524.4 97.6,526.01 97.9,524.61 98.2,525.95 98.5,524.6 98.8,525.87 99.1,524.47 99.4,525.93 99.7,524.26 100,525.96 100.3,524.56 100.6,526.02 100.9,524.44 101.2,525.91 101.5,524.31 101.8,525.98 102.1,524.26 102.4,526.02 102.7,524.48 103,526.08 103.3,524.37 103.6,526.1 103.9,524.29 104.2,525.83 104.5,524.4 104.8,525.81 105.1,524.47 105.4,526.13 105.7,524.27 106,526.14 106.3,524.54 106.6,525.81 106.9,524.57 107.2,526.1 107.5,524.6 107.8,525.8 108.1,524.55 108.4,525.82 108.7,524.27 109,525.86 109.3,524.53 109.6,525.88 109.9,524.53 110.2,526.12 110.5,524.34 110.8,526.06 111.1,524.45 111.4,526.09 111.7,524.26 112,525.91 112.3,524.42 112.6,525.87 112.9,524.55 113.2,525.97 113.5,524.57 113.8,525.82 114.1,524.46 114.4,525.85 114.7,524.48 115,526.15 115.3,524.47 115.6,525.86 115.9,524.4 116.2,526.14 116.5,524.28 116.8,526.15 117.1,524.34 117.4,526.01 117.7,524.61 118,525.81 118.3,524.35 118.6,526.15 118.9,524.39 119.2,526.06 119.5,524.45 119.8,526.02 120.1,524.38 120.4,525.79 120.7,524.4 121,525.78 121.3,524.46 121.6,525.92 121.9,524.59 122.2,526.1 122.5,524.54 122.8,526.04 123.1,524.54 123.4,525.96 123.7,524.34 124,525.99 124.3,524.49 124.6,526.13 124.9,524.26 125.2,525.97 125.5,524.33 125.8,525.89 126.1,524.33 126.4,525.85 126.7,524.38 127,526.13 127.3,524.6 127.6,526.01 127.9,524.37 128.2,526.07 128.5,524.61 128.8,525.98 129.1,524.28 129.4,525.91 129.7,524.48 130,525.99 130.3,524.3 130.6,525.82 130.9,524.53 131.2,525.82 131.5,524.61 131.8,526.02 132.1,524.32 132.4,525.95 132.7,524.6 133,525.97 133.3,524.25 133.6,526.13 133.9,524.33 134.2,526.02 134.5,524.29 134.8,525.96 135.1,524.29 135.4,525.97 135.7,524.48 136,525.82 136.3,524.46 136.6,525.94 136.9,524.45 137.2,526.15 137.5,524.52 137.8,525.9 138.1,524.29 138.4,525.84 138.7,524.58 139,526.11 139.3,524.31 139.6,525.94 139.9,524.63 140.2,525.88 140.5,524.51 140.8,526.06 141.1,524.48 141.4,526.07 141.7,524.36 142,525.86 142.3,524.31 142.6,525.87 142.9,524.52 143.2,525.92 143.5,524.52 143.8,526.08 144.1,524.6 144.4,525.92 144.7,524.63 145,526.05 145.3,524.41 145.6,526.13 145.9,524.34 146.2,525.81 146.5,524.63 146.8,525.99 147.1,524.3 147.4,526.12 147.7,524.59 148,525.93 148.3,524.52 148.6,526.11 148.9,524.48 149.2,525.91 149.5,524.3 149.8,525.83 150.1,524.56 150.4,525.81 150.7,524.33 151,526.09 151.3,524.28 151.6,526.03 151.9,524.39 152.2,526.11 152.5,524.3 152.8,525.97 153.1,524.42 153.4,526.03 153.7,524.37 154,525.9 154.3,524.45 154.6,526.03 154.9,524.61 155.2,526.12 155.5,524.47 155.8,525.92 156.1,524.37 156.4,525.98 156.7,524.61 157,526.05 157.3,524.38 157.6,525.98 157.9,524.55 158.2,526.04 158.5,524.6 158.8,526.1 159.1,524.59 159.4,525.79 159.7,524.3 160,525.78 160.3,524.49 160.6,526 160.9,524.38 161.2,526.06 161.5,524.44 161.8,525.88 162.1,524.36 162.4,525.77 162.7,524.47 163,525.83 163.3,524.45 163.6,525.9 163.9,524.57 164.2,525.98 164.5,524.44 164.8,526.07 165.1,524.47 165.4,525.8 165.7,524.59 166,525.91 166.3,524.47 166.6,525.94 166.9,524.42 167.2,526.06 167.5,524.32 167.8,525.96 168.1,524.4 168.4,525.83 168.7,524.63 169,525.98 169.3,524.52 169.6,525.97 169.9,524.39 170.2,525.98 170.5,524.45 170.8,526.01 171.1,524.29 171.4,525.81 171.7,524.62 172,525.93 172.3,524.37 172.6,525.88 172.9,524.39 173.2,526.07 173.5,524.47 173.8,526.07 174.1,524.47 174.4,526.05 174.7,524.29 175,526.11 175.3,524.43 175.6,526.02 175.9,524.42 176.2,526 176.5,524.39 176.8,525.98 177.1,524.35 177.4,525.93 177.7,524.56 178,525.96 178.3,524.43 178.6,526.03 178.9,524.49 179.2,526.11 179.5,524.36 179.8,525.85 180.1,524.31 180.4,525.8 180.7,524.41 181,525.91 181.3,524.41 181.6,525.85 181.9,524.49 182.2,525.93 182.5,524.47 182.8,526.09 183.1,524.29 183.4,525.92 183.7,524.35 184,525.87 184.3,524.6 184.6,525.85 184.9,524.41 185.2,526.04 185.5,524.57 185.8,525.94 186.1,524.49 186.4,525.82 186.7,524.3 187,526.11 187.3,524.29 187.6,525.9 187.9,524.58 188.2,525.98 188.5,524.41 188.8,526.04 189.1,524.31 189.4,525.97 189.7,524.48 190,525.84 190.3,524.62 190.6,525.77 190.9,524.56 191.2,525.77 191.5,524.51 191.8,525.89 192.1,524.6 192.4,526.06 192.7,524.65 193,525.81 193.3,524.34 193.6,525.93 193.9,524.4 194.2,525.95 194.5,524.47 194.8,526.11 195.1,524.33 195.4,525.8 195.7,524.65 196,526.06 196.3,524.43 196.6,526.01 196.9,524.4 197.2,525.94 197.5,524.56 197.8,525.81 198.1,524.54 198.4,526.08 198.7,524.54 199,525.98 199.3,524.38 199.6,525.98 199.9,524.52 200.2,525.93 200.5,524.48 200.8,525.86 201.1,524.48 201.4,525.86 201.7,524.6 202,525.88 202.3,524.37 202.6,526.06 202.9,524.61 203.2,525.99 203.5,524.3 203.8,525.92 204.1,524.51 204.4,525.94 204.7,524.44 205,525.97 205.3,524.59 205.6,525.94 205.9,524.43 206.2,525.79 206.5,524.53" fill="none" stroke="#22b8cf" stroke-width="0.6" stroke-linejoin="round" />
<polyline points="54.7,563.14 55,569.31 55.3,563.31 55.6,569.25 55.9,563.48 56.2,568.4 56.5,563.76 56.8,568.66 57.1,563.96 57.4,568.65 57.7,564.45 58,568.19 58.3,565.04 58.6,568.72 58.9,565.01 59.2,568.18 59.5,564.4 59.8,568.29 60.1,565.18 60.4,568.27 60.7,565.09 61,567.9 61.3,565.38 61.6,568.06 61.9,565.08 62.2,568.07 62.5,564.93 62.8,567.99 63.1,565.48 63.4,567.83 63.7,565.19 64,567.89 64.3,565.26 64.6,567.69 64.9,565.5 65.2,567.54 65.5,565.6 65.8,567.58 66.1,565.59 66.4,567.49 66.7,565.66 67,567.71 67.3,565.55 67.6,567.72 67.9,566 68.2,567.69 68.5,565.81 68.8,567.4 69.1,565.95 69.4,567.45 69.7,565.68 70,567.77 70.3,565.55 70.6,567.73 70.9,565.91 71.2,567.74 71.5,565.58 71.8,567.57 72.1,565.81 72.4,567.69 72.7,565.62 73,567.68 73.3,565.8 73.6,567.61 73.9,565.78 74.2,567.61 74.5,566 74.8,567.39 75.1,565.59 75.4,567.76 75.7,565.66 76,567.47 76.3,565.93 76.6,567.69 76.9,565.87 77.2,567.77 77.5,565.74 77.8,567.58 78.1,565.83 78.4,567.58 78.7,565.79 79,567.8 79.3,565.81 79.6,567.7 79.9,565.63 80.2,567.57 80.5,565.65 80.8,567.6 81.1,565.62 81.4,567.49 81.7,565.79 82,567.58 82.3,565.63 82.6,567.79 82.9,565.67 83.2,567.55 83.5,566 83.8,567.51 84.1,566.01 84.4,567.7 84.7,565.86 85,567.42 85.3,565.61 85.6,567.75 85.9,565.97 86.2,567.54 86.5,565.99 86.8,567.42 87.1,565.74 87.4,567.77 87.7,565.69 88,567.67 88.3,565.79 88.6,567.47 88.9,565.84 89.2,567.56 89.5,565.61 89.8,567.45 90.1,565.92 90.4,567.76 90.7,565.97 91,567.52 91.3,565.73 91.6,567.65 91.9,566.01 92.2,567.47 92.5,565.64 92.8,567.48 93.1,565.77 93.4,567.55 93.7,565.93 94,567.53 94.3,565.69 94.6,567.6 94.9,566 95.2,567.45 95.5,566.05 95.8,567.48 96.1,566.05 96.4,567.76 96.7,566.04 97,567.75 97.3,565.83 97.6,567.69 97.9,565.87 98.2,567.38 98.5,566.03 98.8,567.74 99.1,565.94 99.4,567.6 99.7,565.8 100,567.71 100.3,566.04 100.6,567.79 100.9,565.88 101.2,567.61 101.5,565.77 101.8,567.41 102.1,565.84 102.4,567.58 102.7,565.87 103,567.44 103.3,565.94 103.6,567.76 103.9,565.82 104.2,567.66 104.5,565.71 104.8,567.57 105.1,565.98 105.4,567.43 105.7,565.97 106,567.46 106.3,565.87 106.6,567.47 106.9,565.78 107.2,567.42 107.5,566.05 107.8,567.78 108.1,565.79 108.4,567.48 108.7,565.69 109,567.75 109.3,566.05 109.6,567.4 109.9,565.64 110.2,567.45 110.5,566 110.8,567.53 111.1,565.81 111.4,567.39 111.7,565.93 112,567.6 112.3,565.68 112.6,567.73 112.9,565.67 113.2,567.61 113.5,565.73 113.8,567.63 114.1,566.01 114.4,567.45 114.7,565.94 115,567.53 115.3,565.96 115.6,567.48 115.9,566.08 116.2,567.76 116.5,565.78 116.8,567.42 117.1,565.77 117.4,567.4 117.7,566.04 118,567.42 118.3,565.79 118.6,567.55 118.9,566.07 119.2,567.76 119.5,565.87 119.8,567.74 120.1,565.68 120.4,567.45 120.7,565.89 121,567.67 121.3,565.91 121.6,567.48 121.9,565.69 122.2,567.38 122.5,565.85 122.8,567.59 123.1,565.68 123.4,567.71 123.7,566.04 124,567.43 124.3,565.95 124.6,567.45 124.9,565.95 125.2,567.57 125.5,566.07 125.8,567.51 126.1,565.77 126.4,567.55 126.7,565.68 127,567.5 127.3,565.92 127.6,567.38 127.9,565.99 128.2,567.59 128.5,565.9 128.8,567.46 129.1,566.07 129.4,567.68 129.7,566.05 130,567.63 130.3,565.77 130.6,567.73 130.9,565.77 131.2,567.44 131.5,565.88 131.8,567.45 132.1,565.89 132.4,567.35 132.7,565.89 133,567.6 133.3,565.74 133.6,567.56 133.9,565.77 134.2,567.5 134.5,565.82 134.8,567.38 135.1,565.88 135.4,567.44 135.7,565.98 136,567.66 136.3,565.69 136.6,567.49 136.9,565.98 137.2,567.47 137.5,565.76 137.8,567.37 138.1,565.69 138.4,567.43 138.7,566 139,567.41 139.3,565.81 139.6,567.63 139.9,566.11 140.2,567.68 140.5,565.93 140.8,567.67 141.1,566.06 141.4,567.6 141.7,566.03 142,567.64 142.3,565.82 142.6,567.52 142.9,565.73 143.2,567.68 143.5,565.74 143.8,567.63 144.1,565.86 144.4,567.73 144.7,565.83 145,567.64 145.3,565.91 145.6,567.71 145.9,565.84 146.2,567.37 146.5,565.88 146.8,567.7 147.1,565.87 147.4,567.51 147.7,565.9 148,567.69 148.3,566.04 148.6,567.72 148.9,565.86 149.2,567.55 149.5,566.01 149.8,567.41 150.1,566.11 150.4,567.35 150.7,565.8 151,567.53 151.3,565.87 151.6,567.49 151.9,565.75 152.2,567.56 152.5,566.06 152.8,567.6 153.1,566.04 153.4,567.45 153.7,566.01 154,567.42 154.3,565.97 154.6,567.46 154.9,566.04 155.2,567.52 155.5,565.87 155.8,567.56 156.1,565.76 156.4,567.33 156.7,566.04 157,567.61 157.3,566.02 157.6,567.37 157.9,566.02 158.2,567.5 158.5,565.97 158.8,567.51 159.1,565.82 159.4,567.54 159.7,566.12 160,567.44 160.3,565.86 160.6,567.49 160.9,566.03 161.2,567.47 161.5,565.76 161.8,567.43 162.1,565.9 162.4,567.69 162.7,565.93 163,567.65 163.3,566 163.6,567.67 163.9,565.9 164.2,567.42 164.5,565.81 164.8,567.51 165.1,565.89 165.4,567.68 165.7,566.12 166,567.6 166.3,565.81 166.6,567.47 166.9,565.83 167.2,567.63 167.5,566.06 167.8,567.4 168.1,566.12 168.4,567.45 168.7,566.1 169,567.59 169.3,565.86 169.6,567.57 169.9,565.87 170.2,567.59 170.5,565.77 170.8,567.47 171.1,565.88 171.4,567.42 171.7,565.83 172,567.42 172.3,565.9 172.6,567.66 172.9,565.9 173.2,567.44 173.5,565.85 173.8,567.37 174.1,565.81 174.4,567.53 174.7,565.86 175,567.41 175.3,566.05 175.6,567.52 175.9,565.89 176.2,567.4 176.5,565.93 176.8,567.55 177.1,565.92 177.4,567.55 177.7,565.85 178,567.56 178.3,565.91 178.6,567.41 178.9,565.79 179.2,567.67 179.5,566.01 179.8,567.31 180.1,565.89 180.4,567.38 180.7,565.97 181,567.54 181.3,566.1 181.6,567.48 181.9,566.12 182.2,567.34 182.5,565.98 182.8,567.64 183.1,566.03 183.4,567.66 183.7,566.03 184,567.39 184.3,566.1 184.6,567.63 184.9,565.91 185.2,567.34 185.5,566.02 185.8,567.35 186.1,565.88 186.4,567.3 186.7,565.92 187,567.6 187.3,566.06 187.6,567.33 187.9,565.81 188.2,567.53 188.5,565.93 188.8,567.31 189.1,565.94 189.4,567.44 189.7,565.88 190,567.63 190.3,565.83 190.6,567.5 190.9,565.95 191.2,567.37 191.5,565.98 191.8,567.57 192.1,565.84 192.4,567.35 192.7,565.85 193,567.45 193.3,566 193.6,567.64 193.9,565.97 194.2,567.66 194.5,566 194.8,567.65 195.1,566.06 195.4,567.35 195.7,566.08 196,567.44 196.3,565.84 196.6,567.37 196.9,565.82 197.2,567.51 197.5,566.01 197.8,567.63 198.1,565.98 198.4,567.62 198.7,566.11 199,567.37 199.3,566.05 199.6,567.38 199.9,565.85 200.2,567.63 200.5,566.13 200.8,567.49 201.1,566.14 201.4,567.35 201.7,566.1 202,567.41 202.3,566 202.6,567.38 202.9,566.19 203.2,567.33 203.5,566.08 203.8,567.64 204.1,565.9 204.4,567.54 204.7,566.03 205,567.62 205.3,566.09 205.6,567.51 205.9,566.13 206.2,567.53 206.5,566.08" fill="none" stroke="#22c592" stroke-width="0.6" stroke-linejoin="round" />
<polyline points="54.7,606.87 55,611.91 55.3,607.01 55.6,611.83 55.9,606.95 56.2,611.12 56.5,606.79 56.8,610.49 57.1,607.21 57.4,610.61 57.7,606.56 58,609.63 58.3,606.61 58.6,609.57 58.9,605.99 59.2,609.43 59.5,605.78 59.8,609.03 60.1,605.85 60.4,608.94 60.7,605.71 61,609.59 61.3,606.58 61.6,609.56 61.9,606.43 62.2,609.37 62.5,606.55 62.8,609.55 63.1,606.96 63.4,609.98 63.7,607.09 64,609.83 64.3,607.23 64.6,609.99 64.9,607.28 65.2,609.76 65.5,607.26 65.8,609.94 66.1,607.07 66.4,609.39 66.7,607.06 67,609.33 67.3,607.3 67.6,609.6 67.9,607.27 68.2,609.19 68.5,606.89 68.8,609.31 69.1,607.26 69.4,609.43 69.7,606.92 70,609.2 70.3,607.06 70.6,609 70.9,607.31 71.2,608.99 71.5,607.2 71.8,609.23 72.1,607.08 72.4,609.51 72.7,607.3 73,609.33 73.3,607.23 73.6,609.51 73.9,607.36 74.2,609.24 74.5,607.23 74.8,609.1 75.1,607.44 75.4,609.5 75.7,607.33 76,609.27 76.3,607.57 76.6,609.01 76.9,607.52 77.2,609.02 77.5,607.52 77.8,608.96 78.1,607.59 78.4,609.12 78.7,607.55 79,609.15 79.3,607.48 79.6,608.9 79.9,607.25 80.2,609.15 80.5,607.52 80.8,609.16 81.1,607.35 81.4,608.94 81.7,607.59 82,609.11 82.3,607.36 82.6,609.06 82.9,607.33 83.2,609.09 83.5,607.39 83.8,609.02 84.1,607.55 84.4,609.09 84.7,607.46 85,609.21 85.3,607.39 85.6,608.89 85.9,607.43 86.2,609.02 86.5,607.62 86.8,608.96 87.1,607.32 87.4,609.24 87.7,607.62 88,609.06 88.3,607.42 88.6,608.95 88.9,607.61 89.2,609.14 89.5,607.51 89.8,609.09 90.1,607.56 90.4,608.95 90.7,607.61 91,609.22 91.3,607.66 91.6,608.95 91.9,607.53 92.2,608.98 92.5,607.61 92.8,608.88 93.1,607.69 93.4,608.92 93.7,607.54 94,609.1 94.3,607.46 94.6,609.08 94.9,607.41 95.2,609.26 95.5,607.45 95.8,609.04 96.1,607.63 96.4,608.87 96.7,607.57 97,608.98 97.3,607.35 97.6,609.12 97.9,607.54 98.2,609.25 98.5,607.35 98.8,608.87 99.1,607.47 99.4,609.1 99.7,607.58 100,609.03 100.3,607.31 100.6,609.16 100.9,607.66 101.2,609.05 101.5,607.54 101.8,609.09 102.1,607.43 102.4,609.13 102.7,607.55 103,609.11 103.3,607.45 103.6,608.89 103.9,607.33 104.2,608.9 104.5,607.33 104.8,609.2 105.1,607.53 105.4,609.2 105.7,607.48 106,609.19 106.3,607.67 106.6,609.13 106.9,607.65 107.2,609.24 107.5,607.68 107.8,609.15 108.1,607.44 108.4,609.13 108.7,607.53 109,609.19 109.3,607.44 109.6,609.08 109.9,607.66 110.2,608.97 110.5,607.49 110.8,608.93 111.1,607.63 111.4,608.99 111.7,607.33 112,609.11 112.3,607.46 112.6,609.1 112.9,607.49 113.2,608.95 113.5,607.39 113.8,608.95 114.1,607.58 114.4,609 114.7,607.42 115,609.05 115.3,607.66 115.6,609.15 115.9,607.4 116.2,609.01 116.5,607.42 116.8,609.06 117.1,607.35 117.4,609.21 117.7,607.38 118,609.13 118.3,607.32 118.6,609.23 118.9,607.55 119.2,609.08 119.5,607.63 119.8,608.87 120.1,607.56 120.4,609.13 120.7,607.59 121,609.03 121.3,607.37 121.6,608.99 121.9,607.68 122.2,609.07 122.5,607.6 122.8,609.02 123.1,607.56 123.4,609.19 123.7,607.39 124,609.11 124.3,607.49 124.6,608.9 124.9,607.64 125.2,609.24 125.5,607.66 125.8,608.99 126.1,607.58 126.4,609.06 126.7,607.64 127,609.19 127.3,607.61 127.6,609.1 127.9,607.51 128.2,609.09 128.5,607.62 128.8,609.14 129.1,607.47 129.4,608.97 129.7,607.32 130,609.06 130.3,607.58 130.6,609.05 130.9,607.62 131.2,608.93 131.5,607.53 131.8,608.88 132.1,607.62 132.4,609.16 132.7,607.5 133,609.16 133.3,607.5 133.6,609.13 133.9,607.42 134.2,609.17 134.5,607.65 134.8,609.18 135.1,607.35 135.4,609.11 135.7,607.67 136,609.01 136.3,607.42 136.6,609.02 136.9,607.49 137.2,609.1 137.5,607.68 137.8,608.96 138.1,607.7 138.4,608.91 138.7,607.66 139,609.04 139.3,607.5 139.6,608.94 139.9,607.51 140.2,609.04 140.5,607.39 140.8,609.02 141.1,607.64 141.4,609.15 141.7,607.53 142,608.89 142.3,607.69 142.6,609.01 142.9,607.34 143.2,609.11 143.5,607.5 143.8,609.15 144.1,607.43 144.4,609.08 144.7,607.43 145,608.87 145.3,607.51 145.6,608.95 145.9,607.56 146.2,608.99 146.5,607.49 146.8,608.89 147.1,607.65 147.4,609.11 147.7,607.46 148,609.13 148.3,607.51 148.6,609.06 148.9,607.42 149.2,608.95 149.5,607.58 149.8,609.07 150.1,607.53 150.4,608.95 150.7,607.5 151,609.08 151.3,607.55 151.6,608.87 151.9,607.71 152.2,609.09 152.5,607.34 152.8,609 153.1,607.5 153.4,609.04 153.7,607.47 154,609.13 154.3,607.69 154.6,609.07 154.9,607.47 155.2,609.18 155.5,607.59 155.8,609.15 156.1,607.61 156.4,608.86 156.7,607.5 157,609.12 157.3,607.38 157.6,608.88 157.9,607.55 158.2,609.03 158.5,607.51 158.8,609.09 159.1,607.46 159.4,608.88 159.7,607.61 160,609.09 160.3,607.35 160.6,608.89 160.9,607.5 161.2,609.09 161.5,607.52 161.8,609.17 162.1,607.58 162.4,609.17 162.7,607.53 163,608.87 163.3,607.35 163.6,608.9 163.9,607.48 164.2,608.96 164.5,607.42 164.8,608.88 165.1,607.68 165.4,609.13 165.7,607.71 166,609.05 166.3,607.47 166.6,609.1 166.9,607.54 167.2,609.05 167.5,607.53 167.8,609.17 168.1,607.65 168.4,608.92 168.7,607.57 169,608.95 169.3,607.48 169.6,609.07 169.9,607.6 170.2,608.98 170.5,607.42 170.8,609.2 171.1,607.72 171.4,609.01 171.7,607.6 172,608.87 172.3,607.54 172.6,609.07 172.9,607.59 173.2,608.85 173.5,607.62 173.8,608.93 174.1,607.6 174.4,608.98 174.7,607.45 175,608.95 175.3,607.45 175.6,609.12 175.9,607.43 176.2,609.07 176.5,607.72 176.8,609.1 177.1,607.43 177.4,608.86 177.7,607.48 178,609.09 178.3,607.43 178.6,608.86 178.9,607.61 179.2,608.88 179.5,607.57 179.8,609.14 180.1,607.71 180.4,608.87 180.7,607.44 181,608.92 181.3,607.52 181.6,609.03 181.9,607.41 182.2,608.98 182.5,607.63 182.8,609.1 183.1,607.44 183.4,608.86 183.7,607.48 184,609.03 184.3,607.69 184.6,608.91 184.9,607.4 185.2,609.01 185.5,607.46 185.8,609.13 186.1,607.61 186.4,609.17 186.7,607.54 187,608.96 187.3,607.62 187.6,609.02 187.9,607.45 188.2,608.86 188.5,607.66 188.8,609.16 189.1,607.45 189.4,609.16 189.7,607.62 190,609.16 190.3,607.56 190.6,608.89 190.9,607.61 191.2,608.89 191.5,607.57 191.8,609.17 192.1,607.71 192.4,608.84 192.7,607.39 193,608.88 193.3,607.56 193.6,608.84 193.9,607.68 194.2,609.02 194.5,607.59 194.8,608.97 195.1,607.7 195.4,608.96 195.7,607.7 196,608.99 196.3,607.55 196.6,609.03 196.9,607.45 197.2,609.17 197.5,607.4 197.8,609.16 198.1,607.54 198.4,609.09 198.7,607.48 199,608.86 199.3,607.56 199.6,609.18 199.9,607.42 200.2,608.97 200.5,607.47 200.8,608.92 201.1,607.4 201.4,608.89 201.7,607.41 202,609.13 202.3,607.54 202.6,609.12 202.9,607.68 203.2,609.08 203.5,607.54 203.8,608.98 204.1,607.63 204.4,608.91 204.7,607.69 205,608.94 205.3,607.44 205.6,609.17 205.9,607.71 206.2,608.84 206.5,607.43" fill="none" stroke="#4fcf65" stroke-width="0.6" stroke-linejoin="round" />
<polyline points="54.7,646.56 55,650.48 55.3,646.94 55.6,650.82 55.9,647.42 56.2,650.89 56.5,648.24 56.8,651.16 57.1,649.01 57.4,651.49 57.7,648.71 58,651.78 58.3,648.86 58.6,651.57 58.9,649.26 59.2,651.4 59.5,648.82 59.8,651.07 60.1,648.47 60.4,650.98 60.7,648.45 61,650.93 61.3,648.51 61.6,650.61 61.9,648.55 62.2,650.63 62.5,648.65 62.8,650.24 63.1,648.21 63.4,650.34 63.7,648.77 64,650.65 64.3,648.76 64.6,650.99 64.9,648.73 65.2,650.63 65.5,649.21 65.8,651.1 66.1,649.23 66.4,650.82 66.7,649.18 67,650.91 67.3,648.88 67.6,651.06 67.9,649.03 68.2,650.57 68.5,649.02 68.8,650.84 69.1,648.89 69.4,650.42 69.7,648.99 70,650.51 70.3,648.85 70.6,650.55 70.9,649.06 71.2,650.5 71.5,649.08 71.8,650.42 72.1,649.16 72.4,650.71 72.7,649.05 73,650.75 73.3,648.87 73.6,650.76 73.9,649.01 74.2,650.8 74.5,649.25 74.8,650.74 75.1,649.07 75.4,650.72 75.7,648.98 76,650.46 76.3,649.05 76.6,650.73 76.9,649.03 77.2,650.44 77.5,649.18 77.8,650.43 78.1,649.19 78.4,650.52 78.7,649.1 79,650.52 79.3,648.94 79.6,650.7 79.9,648.96 80.2,650.75 80.5,648.93 80.8,650.62 81.1,649.05 81.4,650.77 81.7,649.18 82,650.46 82.3,648.92 82.6,650.75 82.9,648.99 83.2,650.75 83.5,649.05 83.8,650.66 84.1,648.99 84.4,650.44 84.7,649.16 85,650.48 85.3,649.18 85.6,650.42 85.9,649.09 86.2,650.56 86.5,649.12 86.8,650.45 87.1,648.96 87.4,650.45 87.7,648.84 88,650.73 88.3,648.93 88.6,650.48 88.9,648.84 89.2,650.48 89.5,648.97 89.8,650.74 90.1,648.95 90.4,650.56 90.7,648.91 91,650.56 91.3,649.19 91.6,650.42 91.9,648.95 92.2,650.56 92.5,649.11 92.8,650.43 93.1,649.03 93.4,650.65 93.7,649.21 94,650.78 94.3,649.05 94.6,650.54 94.9,649.02 95.2,650.53 95.5,649.1 95.8,650.71 96.1,648.91 96.4,650.51 96.7,648.88 97,650.56 97.3,649.16 97.6,650.64 97.9,649.05 98.2,650.7 98.5,648.88 98.8,650.67 99.1,648.91 99.4,650.45 99.7,648.92 100,650.63 100.3,649.18 100.6,650.59 100.9,648.89 101.2,650.75 101.5,649.16 101.8,650.59 102.1,648.9 102.4,650.59 102.7,649.07 103,650.75 103.3,649.2 103.6,650.73 103.9,649.22 104.2,650.44 104.5,648.88 104.8,650.59 105.1,649.15 105.4,650.42 105.7,649.02 106,650.56 106.3,649.04 106.6,650.44 106.9,648.98 107.2,650.65 107.5,649.13 107.8,650.75 108.1,649.01 108.4,650.56 108.7,649.02 109,650.67 109.3,649.13 109.6,650.78 109.9,648.95 110.2,650.74 110.5,649.08 110.8,650.65 111.1,648.95 111.4,650.6 111.7,649.05 112,650.64 112.3,648.97 112.6,650.61 112.9,648.93 113.2,650.69 113.5,649.08 113.8,650.59 114.1,649.05 114.4,650.72 114.7,649.1 115,650.71 115.3,649.13 115.6,650.57 115.9,649.07 116.2,650.5 116.5,649.09 116.8,650.72 117.1,648.99 117.4,650.73 117.7,649.23 118,650.78 118.3,648.94 118.6,650.53 118.9,648.98 119.2,650.61 119.5,648.97 119.8,650.43 120.1,648.92 120.4,650.7 120.7,649.1 121,650.78 121.3,649.22 121.6,650.66 121.9,648.91 122.2,650.77 122.5,649.04 122.8,650.77 123.1,648.98 123.4,650.44 123.7,648.96 124,650.61 124.3,649.15 124.6,650.54 124.9,649.07 125.2,650.58 125.5,649.24 125.8,650.43 126.1,649.04 126.4,650.53 126.7,649.09 127,650.59 127.3,649.17 127.6,650.49 127.9,649.07 128.2,650.47 128.5,648.91 128.8,650.45 129.1,649.07 129.4,650.65 129.7,649.15 130,650.68 130.3,649.06 130.6,650.57 130.9,649.07 131.2,650.46 131.5,649.04 131.8,650.59 132.1,649.19 132.4,650.52 132.7,649.04 133,650.57 133.3,649.22 133.6,650.56 133.9,648.9 134.2,650.58 134.5,649.04 134.8,650.5 135.1,648.94 135.4,650.45 135.7,648.99 136,650.46 136.3,648.95 136.6,650.63 136.9,649.17 137.2,650.51 137.5,649.11 137.8,650.52 138.1,649.04 138.4,650.41 138.7,648.88 139,650.62 139.3,649.05 139.6,650.58 139.9,649.08 140.2,650.65 140.5,649.16 140.8,650.46 141.1,649.15 141.4,650.45 141.7,648.94 142,650.69 142.3,649.17 142.6,650.71 142.9,648.98 143.2,650.53 143.5,649.03 143.8,650.67 144.1,649.05 144.4,650.72 144.7,649.06 145,650.72 145.3,649.21 145.6,650.52 145.9,648.96 146.2,650.48 146.5,648.9 146.8,650.64 147.1,648.99 147.4,650.63 147.7,649.23 148,650.7 148.3,648.92 148.6,650.63 148.9,648.91 149.2,650.43 149.5,648.98 149.8,650.41 150.1,648.99 150.4,650.44 150.7,649.17 151,650.68 151.3,649.09 151.6,650.5 151.9,648.93 152.2,650.59 152.5,649.2 152.8,650.45 153.1,648.94 153.4,650.73 153.7,648.93 154,650.73 154.3,648.98 154.6,650.4 154.9,648.98 155.2,650.49 155.5,648.9 155.8,650.48 156.1,648.95 156.4,650.75 156.7,649.23 157,650.43 157.3,648.98 157.6,650.58 157.9,649.07 158.2,650.72 158.5,648.92 158.8,650.47 159.1,649.21 159.4,650.72 159.7,648.96 160,650.65 160.3,648.95 160.6,650.61 160.9,649.21 161.2,650.75 161.5,649.08 161.8,650.47 162.1,649.07 162.4,650.57 162.7,649.25 163,650.73 163.3,649.26 163.6,650.55 163.9,649.03 164.2,650.74 164.5,649.22 164.8,650.65 165.1,648.96 165.4,650.69 165.7,649.06 166,650.65 166.3,649.02 166.6,650.39 166.9,649.04 167.2,650.42 167.5,649.08 167.8,650.51 168.1,649.16 168.4,650.39 168.7,648.89 169,650.71 169.3,649.24 169.6,650.6 169.9,649.11 170.2,650.48 170.5,649.25 170.8,650.6 171.1,649.14 171.4,650.59 171.7,649.23 172,650.55 172.3,649.03 172.6,650.38 172.9,649.12 173.2,650.71 173.5,648.99 173.8,650.6 174.1,648.9 174.4,650.45 174.7,649.05 175,650.69 175.3,649.23 175.6,650.45 175.9,649.24 176.2,650.59 176.5,648.96 176.8,650.65 177.1,648.96 177.4,650.53 177.7,649.21 178,650.39 178.3,649.07 178.6,650.45 178.9,649.19 179.2,650.73 179.5,649.06 179.8,650.6 180.1,649.08 180.4,650.68 180.7,649.16 181,650.55 181.3,649.17 181.6,650.56 181.9,649 182.2,650.5 182.5,649.11 182.8,650.7 183.1,649.03 183.4,650.62 183.7,648.97 184,650.39 184.3,649.19 184.6,650.59 184.9,648.93 185.2,650.42 185.5,649.07 185.8,650.53 186.1,649.16 186.4,650.49 186.7,649.06 187,650.57 187.3,648.99 187.6,650.46 187.9,649.22 188.2,650.48 188.5,648.95 188.8,650.45 189.1,649.26 189.4,650.65 189.7,649.06 190,650.54 190.3,649.11 190.6,650.47 190.9,649.04 191.2,650.68 191.5,649.11 191.8,650.46 192.1,648.94 192.4,650.72 192.7,649.08 193,650.55 193.3,649.07 193.6,650.39 193.9,649.26 194.2,650.64 194.5,649.1 194.8,650.66 195.1,649.19 195.4,650.57 195.7,649.08 196,650.61 196.3,649.13 196.6,650.65 196.9,649.03 197.2,650.42 197.5,648.92 197.8,650.49 198.1,649.1 198.4,650.48 198.7,648.95 199,650.68 199.3,649.09 199.6,650.54 199.9,648.97 200.2,650.39 200.5,648.93 200.8,650.58 201.1,648.96 201.4,650.57 201.7,649.23 202,650.68 202.3,649.25 202.6,650.46 202.9,649.27 203.2,650.68 203.5,649.17 203.8,650.43 204.1,649.14 204.4,650.37 204.7,649.13 205,650.4 205.3,649.13 205.6,650.54 205.9,648.93 206.2,650.58 206.5,649.1" fill="none" stroke="#8edb3a" stroke-width="0.6" stroke-linejoin="round" />
<polyline points="54.7,688.1 55,692.01 55.3,688.46 55.6,692.34 55.9,688.94 56.2,692.49 56.5,689.72 56.8,692.61 57.1,690.58 57.4,693.19 57.7,690.67 58,693.1 58.3,690.91 58.6,693.12 58.9,690.65 59.2,692.89 59.5,690.68 59.8,692.96 60.1,690.2 60.4,692.66 60.7,690.2 61,692.46 61.3,690.21 61.6,692.03 61.9,690.09 62.2,692.13 62.5,689.6 62.8,692.13 63.1,690.02 63.4,691.82 63.7,690.13 64,691.99 64.3,690.21 64.6,692.46 64.9,690.57 65.2,692.32 65.5,690.63 65.8,692.56 66.1,690.52 66.4,692.54 66.7,690.77 67,692.69 67.3,690.54 67.6,692.65 67.9,690.57 68.2,692.42 68.5,690.51 68.8,692.08 69.1,690.29 69.4,692.11 69.7,690.28 70,691.91 70.3,690.52 70.6,692.09 70.9,690.44 71.2,691.96 71.5,690.43 71.8,691.83 72.1,690.41 72.4,692.09 72.7,690.42 73,692.32 73.3,690.53 73.6,692.08 73.9,690.57 74.2,692.34 74.5,690.56 74.8,692.26 75.1,690.61 75.4,692.26 75.7,690.85 76,692.2 76.3,690.82 76.6,692.22 76.9,690.39 77.2,692.18 77.5,690.71 77.8,692.19 78.1,690.32 78.4,692.13 78.7,690.58 79,692.13 79.3,690.57 79.6,692.07 79.9,690.46 80.2,691.94 80.5,690.43 80.8,692.19 81.1,690.5 81.4,692.31 81.7,690.58 82,692.35 82.3,690.5 82.6,692.28 82.9,690.68 83.2,692.33 83.5,690.71 83.8,692 84.1,690.8 84.4,692.07 84.7,690.64 85,692.36 85.3,690.57 85.6,692.19 85.9,690.49 86.2,692.16 86.5,690.57 86.8,692.09 87.1,690.35 87.4,692.27 87.7,690.45 88,692.1 88.3,690.48 88.6,692.03 88.9,690.54 89.2,692.2 89.5,690.59 89.8,692.13 90.1,690.51 90.4,692.07 90.7,690.47 91,692.09 91.3,690.57 91.6,692.18 91.9,690.41 92.2,692.16 92.5,690.65 92.8,692.12 93.1,690.71 93.4,692.13 93.7,690.52 94,692.01 94.3,690.69 94.6,692.26 94.9,690.4 95.2,692.21 95.5,690.64 95.8,692.25 96.1,690.48 96.4,692.3 96.7,690.73 97,691.95 97.3,690.46 97.6,692.13 97.9,690.76 98.2,692.09 98.5,690.65 98.8,692.04 99.1,690.59 99.4,692.31 99.7,690.68 100,692.22 100.3,690.7 100.6,692.15 100.9,690.77 101.2,691.96 101.5,690.59 101.8,692.3 102.1,690.48 102.4,692.27 102.7,690.68 103,692.33 103.3,690.66 103.6,692.3 103.9,690.43 104.2,691.97 104.5,690.53 104.8,692.14 105.1,690.54 105.4,692.25 105.7,690.77 106,692.11 106.3,690.51 106.6,692.33 106.9,690.39 107.2,692.03 107.5,690.58 107.8,692.29 108.1,690.68 108.4,692.09 108.7,690.62 109,692.29 109.3,690.6 109.6,692.02 109.9,690.63 110.2,692.17 110.5,690.63 110.8,692.29 111.1,690.69 111.4,692.03 111.7,690.64 112,691.97 112.3,690.65 112.6,692.23 112.9,690.57 113.2,692.3 113.5,690.54 113.8,692.05 114.1,690.62 114.4,692.16 114.7,690.43 115,692.26 115.3,690.58 115.6,692.23 115.9,690.54 116.2,692.22 116.5,690.62 116.8,692.24 117.1,690.52 117.4,692.05 117.7,690.49 118,692.29 118.3,690.63 118.6,692.08 118.9,690.56 119.2,692.08 119.5,690.41 119.8,692.01 120.1,690.58 120.4,692.26 120.7,690.75 121,692.05 121.3,690.58 121.6,692.15 121.9,690.63 122.2,692 122.5,690.65 122.8,692.2 123.1,690.68 123.4,691.96 123.7,690.48 124,692.05 124.3,690.59 124.6,691.98 124.9,690.47 125.2,692.14 125.5,690.47 125.8,692.24 126.1,690.49 126.4,692.19 126.7,690.6 127,692.27 127.3,690.57 127.6,692.01 127.9,690.67 128.2,692.24 128.5,690.78 128.8,692.31 129.1,690.5 129.4,692.09 129.7,690.68 130,692.15 130.3,690.43 130.6,692.21 130.9,690.61 131.2,691.95 131.5,690.62 131.8,692.26 132.1,690.65 132.4,692.04 132.7,690.65 133,691.95 133.3,690.44 133.6,692.16 133.9,690.64 134.2,692.18 134.5,690.71 134.8,692.08 135.1,690.46 135.4,692.05 135.7,690.56 136,692.09 136.3,690.69 136.6,692.17 136.9,690.63 137.2,692 137.5,690.72 137.8,692.29 138.1,690.59 138.4,692.15 138.7,690.44 139,692.03 139.3,690.78 139.6,692.22 139.9,690.58 140.2,692.19 140.5,690.61 140.8,692.24 141.1,690.43 141.4,692.22 141.7,690.73 142,692.06 142.3,690.72 142.6,691.99 142.9,690.68 143.2,692.02 143.5,690.59 143.8,691.93 144.1,690.69 144.4,691.96 144.7,690.52 145,692.09 145.3,690.71 145.6,691.94 145.9,690.78 146.2,691.99 146.5,690.72 146.8,692.28 147.1,690.51 147.4,692.14 147.7,690.71 148,692.09 148.3,690.69 148.6,692.05 148.9,690.63 149.2,692.18 149.5,690.79 149.8,692.18 150.1,690.6 150.4,692.28 150.7,690.7 151,692.21 151.3,690.72 151.6,692.11 151.9,690.72 152.2,691.98 152.5,690.77 152.8,692.19 153.1,690.72 153.4,692.03 153.7,690.65 154,691.98 154.3,690.54 154.6,692.16 154.9,690.63 155.2,692.17 155.5,690.5 155.8,692.29 156.1,690.53 156.4,692.04 156.7,690.54 157,692.16 157.3,690.57 157.6,691.99 157.9,690.57 158.2,692.02 158.5,690.62 158.8,692.27 159.1,690.73 159.4,692.12 159.7,690.49 160,692.26 160.3,690.58 160.6,692.25 160.9,690.58 161.2,692.12 161.5,690.54 161.8,692.21 162.1,690.72 162.4,692.21 162.7,690.69 163,692.21 163.3,690.74 163.6,692.23 163.9,690.58 164.2,692.27 164.5,690.55 164.8,691.98 165.1,690.55 165.4,692.04 165.7,690.55 166,692.22 166.3,690.7 166.6,692.13 166.9,690.74 167.2,692.19 167.5,690.74 167.8,692.24 168.1,690.45 168.4,692.19 168.7,690.58 169,692.01 169.3,690.64 169.6,691.97 169.9,690.49 170.2,692.21 170.5,690.71 170.8,691.92 171.1,690.47 171.4,692.08 171.7,690.69 172,691.93 172.3,690.47 172.6,692.26 172.9,690.7 173.2,692.03 173.5,690.5 173.8,692.01 174.1,690.6 174.4,692.23 174.7,690.61 175,692.16 175.3,690.44 175.6,692.06 175.9,690.53 176.2,692.07 176.5,690.64 176.8,692.11 177.1,690.46 177.4,692.08 177.7,690.8 178,692.02 178.3,690.78 178.6,691.96 178.9,690.69 179.2,692.05 179.5,690.55 179.8,692.18 180.1,690.66 180.4,692.01 180.7,690.47 181,691.92 181.3,690.55 181.6,691.99 181.9,690.55 182.2,692.16 182.5,690.48 182.8,692.09 183.1,690.51 183.4,692.05 183.7,690.65 184,692.13 184.3,690.51 184.6,692.1 184.9,690.58 185.2,692.27 185.5,690.76 185.8,692.23 186.1,690.8 186.4,692.04 186.7,690.6 187,692.21 187.3,690.62 187.6,692.12 187.9,690.65 188.2,692 188.5,690.53 188.8,692.15 189.1,690.71 189.4,692.01 189.7,690.63 190,692.09 190.3,690.63 190.6,692.07 190.9,690.52 191.2,692.11 191.5,690.46 191.8,692.14 192.1,690.54 192.4,691.99 192.7,690.57 193,692.21 193.3,690.55 193.6,692.05 193.9,690.45 194.2,691.99 194.5,690.56 194.8,692.14 195.1,690.54 195.4,691.98 195.7,690.6 196,692.11 196.3,690.78 196.6,692.27 196.9,690.7 197.2,692.24 197.5,690.5 197.8,692 198.1,690.73 198.4,692.24 198.7,690.56 199,692.19 199.3,690.73 199.6,692.03 199.9,690.74 200.2,692.1 200.5,690.53 200.8,691.95 201.1,690.55 201.4,692.13 201.7,690.52 202,692.26 202.3,690.78 202.6,692.08 202.9,690.63 203.2,691.92 203.5,690.76 203.8,692.15 204.1,690.6 204.4,692 204.7,690.55 205,691.95 205.3,690.74 205.6,691.95 205.9,690.5 206.2,692.04 206.5,690.7" fill="none" stroke="#fbc21a" stroke-width="0.6" stroke-linejoin="round" />
<polyline points="54.7,732.28 55,733.52 55.3,732.28 55.6,733.52 55.9,732.28 56.2,733.29 56.5,732.34 56.8,733.33 57.1,732.31 57.4,733.46 57.7,732.51 58,733.3 58.3,732.49 58.6,733.52 58.9,732.48 59.2,733.34 59.5,732.36 59.8,733.52 60.1,732.5 60.4,733.39 60.7,732.52 61,733.47 61.3,732.46 61.6,733.51 61.9,732.4 62.2,733.49 62.5,732.34 62.8,733.28 63.1,732.29 63.4,733.29 63.7,732.36 64,733.35 64.3,732.36 64.6,733.28 64.9,732.3 65.2,733.28 65.5,732.29 65.8,733.31 66.1,732.46 66.4,733.48 66.7,732.32 67,733.33 67.3,732.46 67.6,733.33 67.9,732.37 68.2,733.51 68.5,732.39 68.8,733.41 69.1,732.45 69.4,733.52 69.7,732.33 70,733.39 70.3,732.46 70.6,733.49 70.9,732.52 71.2,733.29 71.5,732.32 71.8,733.4 72.1,732.49 72.4,733.47 72.7,732.43 73,733.5 73.3,732.3 73.6,733.46 73.9,732.41 74.2,733.3 74.5,732.42 74.8,733.44 75.1,732.42 75.4,733.35 75.7,732.33 76,733.35 76.3,732.36 76.6,733.51 76.9,732.29 77.2,733.37 77.5,732.44 77.8,733.27 78.1,732.46 78.4,733.34 78.7,732.34 79,733.5 79.3,732.49 79.6,733.38 79.9,732.41 80.2,733.41 80.5,732.39 80.8,733.41 81.1,732.48 81.4,733.5 81.7,732.5 82,733.47 82.3,732.51 82.6,733.5 82.9,732.5 83.2,733.45 83.5,732.51 83.8,733.48 84.1,732.53 84.4,733.33 84.7,732.41 85,733.46 85.3,732.38 85.6,733.39 85.9,732.4 86.2,733.33 86.5,732.44 86.8,733.37 87.1,732.33 87.4,733.41 87.7,732.36 88,733.4 88.3,732.35 88.6,733.38 88.9,732.33 89.2,733.44 89.5,732.52 89.8,733.33 90.1,732.37 90.4,733.3 90.7,732.4 91,733.5 91.3,732.4 91.6,733.38 91.9,732.31 92.2,733.38 92.5,732.41 92.8,733.42 93.1,732.43 93.4,733.49 93.7,732.35 94,733.3 94.3,732.37 94.6,733.46 94.9,732.36 95.2,733.41 95.5,732.42 95.8,733.51 96.1,732.44 96.4,733.51 96.7,732.3 97,733.5 97.3,732.43 97.6,733.48 97.9,732.3 98.2,733.47 98.5,732.44 98.8,733.39 99.1,732.39 99.4,733.48 99.7,732.36 100,733.39 100.3,732.39 100.6,733.35 100.9,732.45 101.2,733.29 101.5,732.28 101.8,733.37 102.1,732.49 102.4,733.35 102.7,732.31 103,733.51 103.3,732.39 103.6,733.28 103.9,732.47 104.2,733.48 104.5,732.48 104.8,733.46 105.1,732.47 105.4,733.46 105.7,732.44 106,733.44 106.3,732.38 106.6,733.45 106.9,732.34 107.2,733.48 107.5,732.31 107.8,733.35 108.1,732.35 108.4,733.38 108.7,732.47 109,733.48 109.3,732.5 109.6,733.44 109.9,732.46 110.2,733.33 110.5,732.51 110.8,733.35 111.1,732.44 111.4,733.33 111.7,732.43 112,733.44 112.3,732.39 112.6,733.41 112.9,732.52 113.2,733.5 113.5,732.42 113.8,733.33 114.1,732.48 114.4,733.46 114.7,732.5 115,733.3 115.3,732.36 115.6,733.33 115.9,732.45 116.2,733.51 116.5,732.5 116.8,733.48 117.1,732.29 117.4,733.42 117.7,732.39 118,733.31 118.3,732.46 118.6,733.28 118.9,732.29 119.2,733.47 119.5,732.53 119.8,733.41 120.1,732.31 120.4,733.36 120.7,732.5 121,733.42 121.3,732.46 121.6,733.38 121.9,732.41 122.2,733.28 122.5,732.44 122.8,733.35 123.1,732.35 123.4,733.45 123.7,732.42 124,733.31 124.3,732.47 124.6,733.49 124.9,732.37 125.2,733.32 125.5,732.4 125.8,733.31 126.1,732.35 126.4,733.29 126.7,732.43 127,733.44 127.3,732.38 127.6,733.38 127.9,732.38 128.2,733.51 128.5,732.4 128.8,733.34 129.1,732.48 129.4,733.34 129.7,732.29 130,733.51 130.3,732.39 130.6,733.39 130.9,732.33 131.2,733.51 131.5,732.35 131.8,733.39 132.1,732.39 132.4,733.49 132.7,732.33 133,733.42 133.3,732.36 133.6,733.34 133.9,732.32 134.2,733.49 134.5,732.32 134.8,733.48 135.1,732.36 135.4,733.34 135.7,732.39 136,733.35 136.3,732.37 136.6,733.34 136.9,732.49 137.2,733.41 137.5,732.41 137.8,733.51 138.1,732.42 138.4,733.38 138.7,732.3 139,733.46 139.3,732.3 139.6,733.45 139.9,732.4 140.2,733.39 140.5,732.43 140.8,733.48 141.1,732.31 141.4,733.28 141.7,732.3 142,733.31 142.3,732.37 142.6,733.37 142.9,732.51 143.2,733.34 143.5,732.35 143.8,733.47 144.1,732.44 144.4,733.41 144.7,732.39 145,733.41 145.3,732.38 145.6,733.4 145.9,732.46 146.2,733.41 146.5,732.43 146.8,733.37 147.1,732.29 147.4,733.43 147.7,732.36 148,733.5 148.3,732.45 148.6,733.39 148.9,732.51 149.2,733.27 149.5,732.36 149.8,733.47 150.1,732.34 150.4,733.52 150.7,732.42 151,733.44 151.3,732.4 151.6,733.4 151.9,732.45 152.2,733.41 152.5,732.28 152.8,733.38 153.1,732.29 153.4,733.51 153.7,732.28 154,733.28 154.3,732.35 154.6,733.51 154.9,732.46 155.2,733.3 155.5,732.47 155.8,733.41 156.1,732.31 156.4,733.35 156.7,732.45 157,733.49 157.3,732.35 157.6,733.44 157.9,732.5 158.2,733.31 158.5,732.34 158.8,733.51 159.1,732.46 159.4,733.32 159.7,732.43 160,733.41 160.3,732.35 160.6,733.44 160.9,732.37 161.2,733.36 161.5,732.36 161.8,733.42 162.1,732.39 162.4,733.52 162.7,732.35 163,733.36 163.3,732.42 163.6,733.45 163.9,732.42 164.2,733.44 164.5,732.33 164.8,733.42 165.1,732.32 165.4,733.46 165.7,732.43 166,733.39 166.3,732.37 166.6,733.49 166.9,732.32 167.2,733.34 167.5,732.38 167.8,733.29 168.1,732.3 168.4,733.5 168.7,732.51 169,733.3 169.3,732.46 169.6,733.49 169.9,732.38 170.2,733.49 170.5,732.47 170.8,733.43 171.1,732.31 171.4,733.41 171.7,732.43 172,733.29 172.3,732.37 172.6,733.41 172.9,732.5 173.2,733.31 173.5,732.37 173.8,733.41 174.1,732.42 174.4,733.49 174.7,732.34 175,733.4 175.3,732.37 175.6,733.36 175.9,732.36 176.2,733.46 176.5,732.34 176.8,733.47 177.1,732.52 177.4,733.39 177.7,732.28 178,733.32 178.3,732.49 178.6,733.28 178.9,732.4 179.2,733.4 179.5,732.49 179.8,733.51 180.1,732.33 180.4,733.5 180.7,732.48 181,733.49 181.3,732.41 181.6,733.34 181.9,732.34 182.2,733.28 182.5,732.49 182.8,733.37 183.1,732.43 183.4,733.37 183.7,732.52 184,733.34 184.3,732.48 184.6,733.32 184.9,732.44 185.2,733.41 185.5,732.5 185.8,733.43 186.1,732.42 186.4,733.42 186.7,732.35 187,733.32 187.3,732.4 187.6,733.5 187.9,732.39 188.2,733.31 188.5,732.44 188.8,733.42 189.1,732.36 189.4,733.47 189.7,732.48 190,733.36 190.3,732.5 190.6,733.28 190.9,732.31 191.2,733.5 191.5,732.37 191.8,733.47 192.1,732.42 192.4,733.42 192.7,732.31 193,733.45 193.3,732.47 193.6,733.27 193.9,732.46 194.2,733.48 194.5,732.32 194.8,733.37 195.1,732.45 195.4,733.5 195.7,732.5 196,733.33 196.3,732.39 196.6,733.35 196.9,732.47 197.2,733.5 197.5,732.46 197.8,733.29 198.1,732.46 198.4,733.34 198.7,732.47 199,733.3 199.3,732.44 199.6,733.5 199.9,732.49 200.2,733.34 200.5,732.47 200.8,733.38 201.1,732.31 201.4,733.35 201.7,732.32 202,733.45 202.3,732.48 202.6,733.43 202.9,732.49 203.2,733.31 203.5,732.35 203.8,733.41 204.1,732.29 204.4,733.31 204.7,732.42 205,733.42 205.3,732.48 205.6,733.35 205.9,732.42 206.2,733.5 206.5,732.42" fill="none" stroke="#fb9a2e" stroke-width="0.6" stroke-linejoin="round" />
<line x1="33.6" y1="498.15" x2="36.9" y2="498.15" stroke="#262626" stroke-width="0.9" />
<text x="28.7" y="501.55" font-size="9.5" fill="#1c1c1c" text-anchor="end" stroke="#1c1c1c" stroke-width="0.2">-10</text>
<line x1="33.6" y1="492.98" x2="35.3" y2="492.98" stroke="#262626" stroke-width="0.9" />
<line x1="33.6" y1="487.8" x2="36.9" y2="487.8" stroke="#262626" stroke-width="0.9" />
<text x="28.7" y="491.2" font-size="9.5" fill="#1c1c1c" text-anchor="end" stroke="#1c1c1c" stroke-width="0.2">0</text>
<line x1="33.6" y1="482.62" x2="35.3" y2="482.62" stroke="#262626" stroke-width="0.9" />
<line x1="33.6" y1="477.45" x2="36.9" y2="477.45" stroke="#262626" stroke-width="0.9" />
<text x="28.7" y="480.85" font-size="9.5" fill="#1c1c1c" text-anchor="end" stroke="#1c1c1c" stroke-width="0.2">10</text>
<line x1="33.6" y1="472.28" x2="35.3" y2="472.28" stroke="#262626" stroke-width="0.9" />
<line x1="33.6" y1="467.1" x2="36.9" y2="467.1" stroke="#262626" stroke-width="0.9" />
<text x="28.7" y="470.5" font-size="9.5" fill="#1c1c1c" text-anchor="end" stroke="#1c1c1c" stroke-width="0.2">20</text>
<line x1="44.15" y1="503.14" x2="44.15" y2="501.34" stroke="#262626" stroke-width="0.9" />
<line x1="54.7" y1="503.14" x2="54.7" y2="499.54" stroke="#262626" stroke-width="0.9" />
<line x1="65.25" y1="503.14" x2="65.25" y2="501.34" stroke="#262626" stroke-width="0.9" />
<line x1="75.8" y1="503.14" x2="75.8" y2="499.54" stroke="#262626" stroke-width="0.9" />
<line x1="86.35" y1="503.14" x2="86.35" y2="501.34" stroke="#262626" stroke-width="0.9" />
<line x1="96.9" y1="503.14" x2="96.9" y2="499.54" stroke="#262626" stroke-width="0.9" />
<line x1="107.45" y1="503.14" x2="107.45" y2="501.34" stroke="#262626" stroke-width="0.9" />
<line x1="118" y1="503.14" x2="118" y2="499.54" stroke="#262626" stroke-width="0.9" />
<line x1="128.55" y1="503.14" x2="128.55" y2="501.34" stroke="#262626" stroke-width="0.9" />
<line x1="139.1" y1="503.14" x2="139.1" y2="499.54" stroke="#262626" stroke-width="0.9" />
<line x1="149.65" y1="503.14" x2="149.65" y2="501.34" stroke="#262626" stroke-width="0.9" />
<line x1="160.2" y1="503.14" x2="160.2" y2="499.54" stroke="#262626" stroke-width="0.9" />
<line x1="170.75" y1="503.14" x2="170.75" y2="501.34" stroke="#262626" stroke-width="0.9" />
<line x1="181.3" y1="503.14" x2="181.3" y2="499.54" stroke="#262626" stroke-width="0.9" />
<line x1="191.85" y1="503.14" x2="191.85" y2="501.34" stroke="#262626" stroke-width="0.9" />
<line x1="202.4" y1="503.14" x2="202.4" y2="499.54" stroke="#262626" stroke-width="0.9" />
<line x1="212.95" y1="503.14" x2="212.95" y2="501.34" stroke="#262626" stroke-width="0.9" />
<line x1="33.6" y1="503.14" x2="223.6" y2="503.14" stroke="#262626" stroke-width="1.2" />
<text x="216" y="474.7" font-size="9.7" fill="#26a0b8" text-anchor="end" >Low E string</text>
<line x1="33.6" y1="539.69" x2="36.9" y2="539.69" stroke="#262626" stroke-width="0.9" />
<text x="28.7" y="543.09" font-size="9.5" fill="#1c1c1c" text-anchor="end" stroke="#1c1c1c" stroke-width="0.2">-10</text>
<line x1="33.6" y1="534.51" x2="35.3" y2="534.51" stroke="#262626" stroke-width="0.9" />
<line x1="33.6" y1="529.34" x2="36.9" y2="529.34" stroke="#262626" stroke-width="0.9" />
<text x="28.7" y="532.74" font-size="9.5" fill="#1c1c1c" text-anchor="end" stroke="#1c1c1c" stroke-width="0.2">0</text>
<line x1="33.6" y1="524.17" x2="35.3" y2="524.17" stroke="#262626" stroke-width="0.9" />
<line x1="33.6" y1="518.99" x2="36.9" y2="518.99" stroke="#262626" stroke-width="0.9" />
<text x="28.7" y="522.39" font-size="9.5" fill="#1c1c1c" text-anchor="end" stroke="#1c1c1c" stroke-width="0.2">10</text>
<line x1="33.6" y1="513.82" x2="35.3" y2="513.82" stroke="#262626" stroke-width="0.9" />
<line x1="33.6" y1="508.64" x2="36.9" y2="508.64" stroke="#262626" stroke-width="0.9" />
<text x="28.7" y="512.04" font-size="9.5" fill="#1c1c1c" text-anchor="end" stroke="#1c1c1c" stroke-width="0.2">20</text>
<line x1="44.15" y1="544.68" x2="44.15" y2="542.88" stroke="#262626" stroke-width="0.9" />
<line x1="54.7" y1="544.68" x2="54.7" y2="541.08" stroke="#262626" stroke-width="0.9" />
<line x1="65.25" y1="544.68" x2="65.25" y2="542.88" stroke="#262626" stroke-width="0.9" />
<line x1="75.8" y1="544.68" x2="75.8" y2="541.08" stroke="#262626" stroke-width="0.9" />
<line x1="86.35" y1="544.68" x2="86.35" y2="542.88" stroke="#262626" stroke-width="0.9" />
<line x1="96.9" y1="544.68" x2="96.9" y2="541.08" stroke="#262626" stroke-width="0.9" />
<line x1="107.45" y1="544.68" x2="107.45" y2="542.88" stroke="#262626" stroke-width="0.9" />
<line x1="118" y1="544.68" x2="118" y2="541.08" stroke="#262626" stroke-width="0.9" />
<line x1="128.55" y1="544.68" x2="128.55" y2="542.88" stroke="#262626" stroke-width="0.9" />
<line x1="139.1" y1="544.68" x2="139.1" y2="541.08" stroke="#262626" stroke-width="0.9" />
<line x1="149.65" y1="544.68" x2="149.65" y2="542.88" stroke="#262626" stroke-width="0.9" />
<line x1="160.2" y1="544.68" x2="160.2" y2="541.08" stroke="#262626" stroke-width="0.9" />
<line x1="170.75" y1="544.68" x2="170.75" y2="542.88" stroke="#262626" stroke-width="0.9" />
<line x1="181.3" y1="544.68" x2="181.3" y2="541.08" stroke="#262626" stroke-width="0.9" />
<line x1="191.85" y1="544.68" x2="191.85" y2="542.88" stroke="#262626" stroke-width="0.9" />
<line x1="202.4" y1="544.68" x2="202.4" y2="541.08" stroke="#262626" stroke-width="0.9" />
<line x1="212.95" y1="544.68" x2="212.95" y2="542.88" stroke="#262626" stroke-width="0.9" />
<line x1="33.6" y1="544.68" x2="223.6" y2="544.68" stroke="#262626" stroke-width="1.2" />
<text x="216" y="516.24" font-size="9.7" fill="#2bb9d2" text-anchor="end" >A string</text>
<line x1="33.6" y1="581.23" x2="36.9" y2="581.23" stroke="#262626" stroke-width="0.9" />
<text x="28.7" y="584.63" font-size="9.5" fill="#1c1c1c" text-anchor="end" stroke="#1c1c1c" stroke-width="0.2">-10</text>
<line x1="33.6" y1="576.06" x2="35.3" y2="576.06" stroke="#262626" stroke-width="0.9" />
<line x1="33.6" y1="570.88" x2="36.9" y2="570.88" stroke="#262626" stroke-width="0.9" />
<text x="28.7" y="574.28" font-size="9.5" fill="#1c1c1c" text-anchor="end" stroke="#1c1c1c" stroke-width="0.2">0</text>
<line x1="33.6" y1="565.71" x2="35.3" y2="565.71" stroke="#262626" stroke-width="0.9" />
<line x1="33.6" y1="560.53" x2="36.9" y2="560.53" stroke="#262626" stroke-width="0.9" />
<text x="28.7" y="563.93" font-size="9.5" fill="#1c1c1c" text-anchor="end" stroke="#1c1c1c" stroke-width="0.2">10</text>
<line x1="33.6" y1="555.36" x2="35.3" y2="555.36" stroke="#262626" stroke-width="0.9" />
<line x1="33.6" y1="550.18" x2="36.9" y2="550.18" stroke="#262626" stroke-width="0.9" />
<text x="28.7" y="553.58" font-size="9.5" fill="#1c1c1c" text-anchor="end" stroke="#1c1c1c" stroke-width="0.2">20</text>
<line x1="44.15" y1="586.22" x2="44.15" y2="584.42" stroke="#262626" stroke-width="0.9" />
<line x1="54.7" y1="586.22" x2="54.7" y2="582.62" stroke="#262626" stroke-width="0.9" />
<line x1="65.25" y1="586.22" x2="65.25" y2="584.42" stroke="#262626" stroke-width="0.9" />
<line x1="75.8" y1="586.22" x2="75.8" y2="582.62" stroke="#262626" stroke-width="0.9" />
<line x1="86.35" y1="586.22" x2="86.35" y2="584.42" stroke="#262626" stroke-width="0.9" />
<line x1="96.9" y1="586.22" x2="96.9" y2="582.62" stroke="#262626" stroke-width="0.9" />
<line x1="107.45" y1="586.22" x2="107.45" y2="584.42" stroke="#262626" stroke-width="0.9" />
<line x1="118" y1="586.22" x2="118" y2="582.62" stroke="#262626" stroke-width="0.9" />
<line x1="128.55" y1="586.22" x2="128.55" y2="584.42" stroke="#262626" stroke-width="0.9" />
<line x1="139.1" y1="586.22" x2="139.1" y2="582.62" stroke="#262626" stroke-width="0.9" />
<line x1="149.65" y1="586.22" x2="149.65" y2="584.42" stroke="#262626" stroke-width="0.9" />
<line x1="160.2" y1="586.22" x2="160.2" y2="582.62" stroke="#262626" stroke-width="0.9" />
<line x1="170.75" y1="586.22" x2="170.75" y2="584.42" stroke="#262626" stroke-width="0.9" />
<line x1="181.3" y1="586.22" x2="181.3" y2="582.62" stroke="#262626" stroke-width="0.9" />
<line x1="191.85" y1="586.22" x2="191.85" y2="584.42" stroke="#262626" stroke-width="0.9" />
<line x1="202.4" y1="586.22" x2="202.4" y2="582.62" stroke="#262626" stroke-width="0.9" />
<line x1="212.95" y1="586.22" x2="212.95" y2="584.42" stroke="#262626" stroke-width="0.9" />
<line x1="33.6" y1="586.22" x2="223.6" y2="586.22" stroke="#262626" stroke-width="1.2" />
<text x="216" y="557.78" font-size="9.7" fill="#2cc597" text-anchor="end" >D string</text>
<line x1="33.6" y1="622.77" x2="36.9" y2="622.77" stroke="#262626" stroke-width="0.9" />
<text x="28.7" y="626.17" font-size="9.5" fill="#1c1c1c" text-anchor="end" stroke="#1c1c1c" stroke-width="0.2">-10</text>
<line x1="33.6" y1="617.6" x2="35.3" y2="617.6" stroke="#262626" stroke-width="0.9" />
<line x1="33.6" y1="612.42" x2="36.9" y2="612.42" stroke="#262626" stroke-width="0.9" />
<text x="28.7" y="615.82" font-size="9.5" fill="#1c1c1c" text-anchor="end" stroke="#1c1c1c" stroke-width="0.2">0</text>
<line x1="33.6" y1="607.25" x2="35.3" y2="607.25" stroke="#262626" stroke-width="0.9" />
<line x1="33.6" y1="602.07" x2="36.9" y2="602.07" stroke="#262626" stroke-width="0.9" />
<text x="28.7" y="605.47" font-size="9.5" fill="#1c1c1c" text-anchor="end" stroke="#1c1c1c" stroke-width="0.2">10</text>
<line x1="33.6" y1="596.9" x2="35.3" y2="596.9" stroke="#262626" stroke-width="0.9" />
<line x1="33.6" y1="591.72" x2="36.9" y2="591.72" stroke="#262626" stroke-width="0.9" />
<text x="28.7" y="595.12" font-size="9.5" fill="#1c1c1c" text-anchor="end" stroke="#1c1c1c" stroke-width="0.2">20</text>
<line x1="44.15" y1="627.76" x2="44.15" y2="625.96" stroke="#262626" stroke-width="0.9" />
<line x1="54.7" y1="627.76" x2="54.7" y2="624.16" stroke="#262626" stroke-width="0.9" />
<line x1="65.25" y1="627.76" x2="65.25" y2="625.96" stroke="#262626" stroke-width="0.9" />
<line x1="75.8" y1="627.76" x2="75.8" y2="624.16" stroke="#262626" stroke-width="0.9" />
<line x1="86.35" y1="627.76" x2="86.35" y2="625.96" stroke="#262626" stroke-width="0.9" />
<line x1="96.9" y1="627.76" x2="96.9" y2="624.16" stroke="#262626" stroke-width="0.9" />
<line x1="107.45" y1="627.76" x2="107.45" y2="625.96" stroke="#262626" stroke-width="0.9" />
<line x1="118" y1="627.76" x2="118" y2="624.16" stroke="#262626" stroke-width="0.9" />
<line x1="128.55" y1="627.76" x2="128.55" y2="625.96" stroke="#262626" stroke-width="0.9" />
<line x1="139.1" y1="627.76" x2="139.1" y2="624.16" stroke="#262626" stroke-width="0.9" />
<line x1="149.65" y1="627.76" x2="149.65" y2="625.96" stroke="#262626" stroke-width="0.9" />
<line x1="160.2" y1="627.76" x2="160.2" y2="624.16" stroke="#262626" stroke-width="0.9" />
<line x1="170.75" y1="627.76" x2="170.75" y2="625.96" stroke="#262626" stroke-width="0.9" />
<line x1="181.3" y1="627.76" x2="181.3" y2="624.16" stroke="#262626" stroke-width="0.9" />
<line x1="191.85" y1="627.76" x2="191.85" y2="625.96" stroke="#262626" stroke-width="0.9" />
<line x1="202.4" y1="627.76" x2="202.4" y2="624.16" stroke="#262626" stroke-width="0.9" />
<line x1="212.95" y1="627.76" x2="212.95" y2="625.96" stroke="#262626" stroke-width="0.9" />
<line x1="33.6" y1="627.76" x2="223.6" y2="627.76" stroke="#262626" stroke-width="1.2" />
<text x="216" y="599.32" font-size="9.7" fill="#58d06f" text-anchor="end" >G string</text>
<line x1="33.6" y1="664.31" x2="36.9" y2="664.31" stroke="#262626" stroke-width="0.9" />
<text x="28.7" y="667.71" font-size="9.5" fill="#1c1c1c" text-anchor="end" stroke="#1c1c1c" stroke-width="0.2">-10</text>
<line x1="33.6" y1="659.13" x2="35.3" y2="659.13" stroke="#262626" stroke-width="0.9" />
<line x1="33.6" y1="653.96" x2="36.9" y2="653.96" stroke="#262626" stroke-width="0.9" />
<text x="28.7" y="657.36" font-size="9.5" fill="#1c1c1c" text-anchor="end" stroke="#1c1c1c" stroke-width="0.2">0</text>
<line x1="33.6" y1="648.79" x2="35.3" y2="648.79" stroke="#262626" stroke-width="0.9" />
<line x1="33.6" y1="643.61" x2="36.9" y2="643.61" stroke="#262626" stroke-width="0.9" />
<text x="28.7" y="647.01" font-size="9.5" fill="#1c1c1c" text-anchor="end" stroke="#1c1c1c" stroke-width="0.2">10</text>
<line x1="33.6" y1="638.44" x2="35.3" y2="638.44" stroke="#262626" stroke-width="0.9" />
<line x1="33.6" y1="633.26" x2="36.9" y2="633.26" stroke="#262626" stroke-width="0.9" />
<text x="28.7" y="636.66" font-size="9.5" fill="#1c1c1c" text-anchor="end" stroke="#1c1c1c" stroke-width="0.2">20</text>
<line x1="44.15" y1="669.3" x2="44.15" y2="667.5" stroke="#262626" stroke-width="0.9" />
<line x1="54.7" y1="669.3" x2="54.7" y2="665.7" stroke="#262626" stroke-width="0.9" />
<line x1="65.25" y1="669.3" x2="65.25" y2="667.5" stroke="#262626" stroke-width="0.9" />
<line x1="75.8" y1="669.3" x2="75.8" y2="665.7" stroke="#262626" stroke-width="0.9" />
<line x1="86.35" y1="669.3" x2="86.35" y2="667.5" stroke="#262626" stroke-width="0.9" />
<line x1="96.9" y1="669.3" x2="96.9" y2="665.7" stroke="#262626" stroke-width="0.9" />
<line x1="107.45" y1="669.3" x2="107.45" y2="667.5" stroke="#262626" stroke-width="0.9" />
<line x1="118" y1="669.3" x2="118" y2="665.7" stroke="#262626" stroke-width="0.9" />
<line x1="128.55" y1="669.3" x2="128.55" y2="667.5" stroke="#262626" stroke-width="0.9" />
<line x1="139.1" y1="669.3" x2="139.1" y2="665.7" stroke="#262626" stroke-width="0.9" />
<line x1="149.65" y1="669.3" x2="149.65" y2="667.5" stroke="#262626" stroke-width="0.9" />
<line x1="160.2" y1="669.3" x2="160.2" y2="665.7" stroke="#262626" stroke-width="0.9" />
<line x1="170.75" y1="669.3" x2="170.75" y2="667.5" stroke="#262626" stroke-width="0.9" />
<line x1="181.3" y1="669.3" x2="181.3" y2="665.7" stroke="#262626" stroke-width="0.9" />
<line x1="191.85" y1="669.3" x2="191.85" y2="667.5" stroke="#262626" stroke-width="0.9" />
<line x1="202.4" y1="669.3" x2="202.4" y2="665.7" stroke="#262626" stroke-width="0.9" />
<line x1="212.95" y1="669.3" x2="212.95" y2="667.5" stroke="#262626" stroke-width="0.9" />
<line x1="33.6" y1="669.3" x2="223.6" y2="669.3" stroke="#262626" stroke-width="1.2" />
<text x="216" y="640.86" font-size="9.7" fill="#92d94a" text-anchor="end" >B string</text>
<line x1="33.6" y1="705.85" x2="36.9" y2="705.85" stroke="#262626" stroke-width="0.9" />
<text x="28.7" y="709.25" font-size="9.5" fill="#1c1c1c" text-anchor="end" stroke="#1c1c1c" stroke-width="0.2">-10</text>
<line x1="33.6" y1="700.67" x2="35.3" y2="700.67" stroke="#262626" stroke-width="0.9" />
<line x1="33.6" y1="695.5" x2="36.9" y2="695.5" stroke="#262626" stroke-width="0.9" />
<text x="28.7" y="698.9" font-size="9.5" fill="#1c1c1c" text-anchor="end" stroke="#1c1c1c" stroke-width="0.2">0</text>
<line x1="33.6" y1="690.33" x2="35.3" y2="690.33" stroke="#262626" stroke-width="0.9" />
<line x1="33.6" y1="685.15" x2="36.9" y2="685.15" stroke="#262626" stroke-width="0.9" />
<text x="28.7" y="688.55" font-size="9.5" fill="#1c1c1c" text-anchor="end" stroke="#1c1c1c" stroke-width="0.2">10</text>
<line x1="33.6" y1="679.98" x2="35.3" y2="679.98" stroke="#262626" stroke-width="0.9" />
<line x1="33.6" y1="674.8" x2="36.9" y2="674.8" stroke="#262626" stroke-width="0.9" />
<text x="28.7" y="678.2" font-size="9.5" fill="#1c1c1c" text-anchor="end" stroke="#1c1c1c" stroke-width="0.2">20</text>
<line x1="44.15" y1="710.84" x2="44.15" y2="709.04" stroke="#262626" stroke-width="0.9" />
<line x1="54.7" y1="710.84" x2="54.7" y2="707.24" stroke="#262626" stroke-width="0.9" />
<line x1="65.25" y1="710.84" x2="65.25" y2="709.04" stroke="#262626" stroke-width="0.9" />
<line x1="75.8" y1="710.84" x2="75.8" y2="707.24" stroke="#262626" stroke-width="0.9" />
<line x1="86.35" y1="710.84" x2="86.35" y2="709.04" stroke="#262626" stroke-width="0.9" />
<line x1="96.9" y1="710.84" x2="96.9" y2="707.24" stroke="#262626" stroke-width="0.9" />
<line x1="107.45" y1="710.84" x2="107.45" y2="709.04" stroke="#262626" stroke-width="0.9" />
<line x1="118" y1="710.84" x2="118" y2="707.24" stroke="#262626" stroke-width="0.9" />
<line x1="128.55" y1="710.84" x2="128.55" y2="709.04" stroke="#262626" stroke-width="0.9" />
<line x1="139.1" y1="710.84" x2="139.1" y2="707.24" stroke="#262626" stroke-width="0.9" />
<line x1="149.65" y1="710.84" x2="149.65" y2="709.04" stroke="#262626" stroke-width="0.9" />
<line x1="160.2" y1="710.84" x2="160.2" y2="707.24" stroke="#262626" stroke-width="0.9" />
<line x1="170.75" y1="710.84" x2="170.75" y2="709.04" stroke="#262626" stroke-width="0.9" />
<line x1="181.3" y1="710.84" x2="181.3" y2="707.24" stroke="#262626" stroke-width="0.9" />
<line x1="191.85" y1="710.84" x2="191.85" y2="709.04" stroke="#262626" stroke-width="0.9" />
<line x1="202.4" y1="710.84" x2="202.4" y2="707.24" stroke="#262626" stroke-width="0.9" />
<line x1="212.95" y1="710.84" x2="212.95" y2="709.04" stroke="#262626" stroke-width="0.9" />
<line x1="33.6" y1="710.84" x2="223.6" y2="710.84" stroke="#262626" stroke-width="1.2" />
<text x="216" y="682.4" font-size="9.7" fill="#f8c231" text-anchor="end" >High E string</text>
<line x1="33.6" y1="747.39" x2="36.9" y2="747.39" stroke="#262626" stroke-width="0.9" />
<text x="28.7" y="750.79" font-size="9.5" fill="#1c1c1c" text-anchor="end" stroke="#1c1c1c" stroke-width="0.2">-10</text>
<line x1="33.6" y1="742.22" x2="35.3" y2="742.22" stroke="#262626" stroke-width="0.9" />
<line x1="33.6" y1="737.04" x2="36.9" y2="737.04" stroke="#262626" stroke-width="0.9" />
<text x="28.7" y="740.44" font-size="9.5" fill="#1c1c1c" text-anchor="end" stroke="#1c1c1c" stroke-width="0.2">0</text>
<line x1="33.6" y1="731.87" x2="35.3" y2="731.87" stroke="#262626" stroke-width="0.9" />
<line x1="33.6" y1="726.69" x2="36.9" y2="726.69" stroke="#262626" stroke-width="0.9" />
<text x="28.7" y="730.09" font-size="9.5" fill="#1c1c1c" text-anchor="end" stroke="#1c1c1c" stroke-width="0.2">10</text>
<line x1="33.6" y1="721.52" x2="35.3" y2="721.52" stroke="#262626" stroke-width="0.9" />
<line x1="33.6" y1="716.34" x2="36.9" y2="716.34" stroke="#262626" stroke-width="0.9" />
<text x="28.7" y="719.74" font-size="9.5" fill="#1c1c1c" text-anchor="end" stroke="#1c1c1c" stroke-width="0.2">20</text>
<line x1="44.15" y1="752.38" x2="44.15" y2="750.58" stroke="#262626" stroke-width="0.9" />
<line x1="54.7" y1="752.38" x2="54.7" y2="748.78" stroke="#262626" stroke-width="0.9" />
<line x1="65.25" y1="752.38" x2="65.25" y2="750.58" stroke="#262626" stroke-width="0.9" />
<line x1="75.8" y1="752.38" x2="75.8" y2="748.78" stroke="#262626" stroke-width="0.9" />
<line x1="86.35" y1="752.38" x2="86.35" y2="750.58" stroke="#262626" stroke-width="0.9" />
<line x1="96.9" y1="752.38" x2="96.9" y2="748.78" stroke="#262626" stroke-width="0.9" />
<line x1="107.45" y1="752.38" x2="107.45" y2="750.58" stroke="#262626" stroke-width="0.9" />
<line x1="118" y1="752.38" x2="118" y2="748.78" stroke="#262626" stroke-width="0.9" />
<line x1="128.55" y1="752.38" x2="128.55" y2="750.58" stroke="#262626" stroke-width="0.9" />
<line x1="139.1" y1="752.38" x2="139.1" y2="748.78" stroke="#262626" stroke-width="0.9" />
<line x1="149.65" y1="752.38" x2="149.65" y2="750.58" stroke="#262626" stroke-width="0.9" />
<line x1="160.2" y1="752.38" x2="160.2" y2="748.78" stroke="#262626" stroke-width="0.9" />
<line x1="170.75" y1="752.38" x2="170.75" y2="750.58" stroke="#262626" stroke-width="0.9" />
<line x1="181.3" y1="752.38" x2="181.3" y2="748.78" stroke="#262626" stroke-width="0.9" />
<line x1="191.85" y1="752.38" x2="191.85" y2="750.58" stroke="#262626" stroke-width="0.9" />
<line x1="202.4" y1="752.38" x2="202.4" y2="748.78" stroke="#262626" stroke-width="0.9" />
<line x1="212.95" y1="752.38" x2="212.95" y2="750.58" stroke="#262626" stroke-width="0.9" />
<line x1="33.6" y1="752.38" x2="223.6" y2="752.38" stroke="#262626" stroke-width="1.2" />
<text x="216" y="723.94" font-size="9.7" fill="#f99d3c" text-anchor="end" >Unperturbed State</text>
<line x1="33.6" y1="461.6" x2="223.6" y2="461.6" stroke="#555555" stroke-width="1.2" />
<line x1="33.6" y1="461" x2="33.6" y2="752.98" stroke="#262626" stroke-width="1.2" />
<line x1="223.6" y1="461" x2="223.6" y2="752.98" stroke="#262626" stroke-width="1.2" />
<text x="33.6" y="764.2" font-size="9.5" fill="#1c1c1c" text-anchor="middle" stroke="#1c1c1c" stroke-width="0.2">-5</text>
<text x="54.7" y="764.2" font-size="9.5" fill="#1c1c1c" text-anchor="middle" stroke="#1c1c1c" stroke-width="0.2">0</text>
<text x="75.8" y="764.2" font-size="9.5" fill="#1c1c1c" text-anchor="middle" stroke="#1c1c1c" stroke-width="0.2">5</text>
<text x="96.9" y="764.2" font-size="9.5" fill="#1c1c1c" text-anchor="middle" stroke="#1c1c1c" stroke-width="0.2">10</text>
<text x="118" y="764.2" font-size="9.5" fill="#1c1c1c" text-anchor="middle" stroke="#1c1c1c" stroke-width="0.2">15</text>
<text x="139.1" y="764.2" font-size="9.5" fill="#1c1c1c" text-anchor="middle" stroke="#1c1c1c" stroke-width="0.2">20</text>
<text x="160.2" y="764.2" font-size="9.5" fill="#1c1c1c" text-anchor="middle" stroke="#1c1c1c" stroke-width="0.2">25</text>
<text x="181.3" y="764.2" font-size="9.5" fill="#1c1c1c" text-anchor="middle" stroke="#1c1c1c" stroke-width="0.2">30</text>
<text x="202.4" y="764.2" font-size="9.5" fill="#1c1c1c" text-anchor="middle" stroke="#1c1c1c" stroke-width="0.2">35</text>
<text x="223.5" y="764.2" font-size="9.5" fill="#1c1c1c" text-anchor="middle" stroke="#1c1c1c" stroke-width="0.2">40</text>
<text x="105.7" y="781.6" font-size="12.6" fill="#1c1c1c" text-anchor="start"  stroke="#1c1c1c" stroke-width="0.18">Time (s)</text>
<text transform="translate(9.8,598.7) rotate(-90)" x="0" y="0" font-size="12.6" fill="#1c1c1c" text-anchor="middle" >Voltage (mV)</text>
<text x="6.4" y="476.6" font-size="16.6" fill="#231f20" text-anchor="start" >d</text>
<polyline points="282.1,473.76 282.4,493.45 282.7,473.29 283,492.03 283.3,472.81 283.6,490.88 283.9,475.93 284.2,488.75 284.5,476.79 284.8,488.44 285.1,477.77 285.4,489.61 285.7,478.33 286,488.94 286.3,479.56 286.6,488.66 286.9,480.63 287.2,492.27 287.5,480.6 287.8,492.47 288.1,480.99 288.4,496.26 288.7,479.84 289,492.92 289.3,478.93 289.6,490.2 289.9,476.45 290.2,492.22 290.5,476.18 290.8,490.15 291.1,478.03 291.4,493.63 291.7,474.25 292,494.09 292.3,476.97 292.6,493.05 292.9,476.56 293.2,492.2 293.5,474.95 293.8,492.45 294.1,474.53 294.4,492.77 294.7,476.26 295,495.1 295.3,473.4 295.6,492.84 295.9,473.75 296.2,492.85 296.5,472.27 296.8,494.4 297.1,475.7 297.4,495.8 297.7,473.55 298,494.57 298.3,474.12 298.6,491.42 298.9,473.61 299.2,492.55 299.5,472.91 299.8,493.79 300.1,473.44 300.4,492.9 300.7,475.03 301,492.72 301.3,472.99 301.6,491 301.9,473.87 302.2,495.31 302.5,477.1 302.8,491.16 303.1,476.5 303.4,491.6 303.7,474.34 304,490.52 304.3,476.35 304.6,491.75 304.9,477.46 305.2,491.75 305.5,477.75 305.8,489.95 306.1,476.79 306.4,490.61 306.7,478.05 307,489.92 307.3,477.86 307.6,492.16 307.9,477.24 308.2,489.93 308.5,475.84 308.8,491.08 309.1,478.65 309.4,491.18 309.7,478.94 310,489.85 310.3,478.99 310.6,489.58 310.9,477.86 311.2,490.34 311.5,478.85 311.8,488.29 312.1,479.23 312.4,488.94 312.7,478.95 313,488.76 313.3,479.9 313.6,487.31 313.9,479.48 314.2,487.11 314.5,480.2 314.8,486.55 315.1,479.27 315.4,486.51 315.7,480.75 316,486.31 316.3,480.84 316.6,486.51 316.9,480.73 317.2,486.8 317.5,480.26 317.8,486.69 318.1,480.03 318.4,486 318.7,480.41 319,485.91 319.3,479.96 319.6,485.88 319.9,480.66 320.2,486.29 320.5,480.46 320.8,486.27 321.1,480.4 321.4,485.56 321.7,481.63 322,485.82 322.3,480.7 322.6,485.57 322.9,480.91 323.2,485.34 323.5,481.51 323.8,485.53 324.1,482.08 324.4,484.9 324.7,481.77 325,485.12 325.3,481.81 325.6,484.92 325.9,482.12 326.2,484.77 326.5,482.3 326.8,484.74 327.1,481.55 327.4,484.84 327.7,481.94 328,485.14 328.3,482.07 328.6,484.72 328.9,482.3 329.2,484.78 329.5,482.29 329.8,485.2 330.1,482.35 330.4,484.91 330.7,481.72 331,484.95 331.3,481.85 331.6,484.96 331.9,482.16 332.2,484.78 332.5,481.93 332.8,485.19 333.1,482.14 333.4,484.85 333.7,481.84 334,484.98 334.3,481.93 334.6,485.21 334.9,482.42 335.2,485.24 335.5,482.56 335.8,484.67 336.1,482.16 336.4,484.84 336.7,482.39 337,484.93 337.3,482.23 337.6,484.84 337.9,482.5 338.2,484.71 338.5,482.55 338.8,484.72 339.1,482.57 339.4,484.57 339.7,482.25 340,484.86 340.3,482.36 340.6,484.68 340.9,482.15 341.2,484.69 341.5,482.44 341.8,484.67 342.1,482.52 342.4,484.86 342.7,482.33 343,484.99 343.3,482.74 343.6,484.8 343.9,482.57 344.2,484.58 344.5,482.45 344.8,484.62 345.1,482.75 345.4,484.99 345.7,482.72 346,484.68 346.3,482.65 346.6,484.55 346.9,482.4 347.2,484.68 347.5,482.54 347.8,484.7 348.1,482.77 348.4,484.98 348.7,482.47 349,484.89 349.3,482.63 349.6,484.75 349.9,482.39 350.2,484.73 350.5,482.31 350.8,484.96 351.1,482.49 351.4,484.76 351.7,482.78 352,484.63 352.3,482.74 352.6,484.92 352.9,482.67 353.2,484.98 353.5,482.52 353.8,484.6 354.1,482.53 354.4,484.58 354.7,482.66 355,484.59 355.3,482.3 355.6,484.78 355.9,482.29 356.2,484.54 356.5,482.35 356.8,485 357.1,482.69 357.4,485 357.7,482.59 358,484.89 358.3,482.51 358.6,485.02 358.9,482.53 359.2,484.85 359.5,482.6 359.8,484.85 360.1,482.39 360.4,484.88 360.7,482.56 361,485.03 361.3,482.73 361.6,484.66 361.9,482.61 362.2,484.6 362.5,482.78 362.8,484.97 363.1,482.57 363.4,484.77 363.7,482.78 364,484.78 364.3,482.61 364.6,484.76 364.9,482.29 365.2,484.98 365.5,482.71 365.8,484.71 366.1,482.41 366.4,484.71 366.7,482.39 367,484.58 367.3,482.41 367.6,484.51 367.9,482.7 368.2,484.79 368.5,482.42 368.8,484.84 369.1,482.35 369.4,484.79 369.7,482.61 370,484.78 370.3,482.76 370.6,484.64 370.9,482.5 371.2,484.71 371.5,482.33 371.8,484.69 372.1,482.79 372.4,484.83 372.7,482.48 373,484.75 373.3,482.59 373.6,484.65 373.9,482.7 374.2,484.68 374.5,482.63 374.8,484.87 375.1,482.56 375.4,484.54 375.7,482.6 376,484.97 376.3,482.84 376.6,484.79 376.9,482.63 377.2,484.6 377.5,482.77 377.8,484.69 378.1,482.34 378.4,484.64 378.7,482.72 379,484.84 379.3,482.32 379.6,484.64 379.9,482.75 380.2,484.64 380.5,482.73 380.8,484.97 381.1,482.68 381.4,484.94 381.7,482.7 382,484.48 382.3,482.47 382.6,484.65 382.9,482.65 383.2,484.87 383.5,482.82 383.8,484.54 384.1,482.7 384.4,484.76 384.7,482.36 385,484.79 385.3,482.71 385.6,484.72 385.9,482.39 386.2,484.78 386.5,482.47 386.8,484.5 387.1,482.53 387.4,484.83 387.7,482.35 388,484.9 388.3,482.73 388.6,484.82 388.9,482.61 389.2,484.99 389.5,482.36 389.8,484.78 390.1,482.6 390.4,484.56 390.7,482.58 391,484.49 391.3,482.65 391.6,484.79 391.9,482.49 392.2,484.53 392.5,482.75 392.8,484.75 393.1,482.66 393.4,484.6 393.7,482.48 394,484.8 394.3,482.76 394.6,484.52 394.9,482.66 395.2,485 395.5,482.63 395.8,484.49 396.1,482.4 396.4,484.56 396.7,482.73 397,484.78 397.3,482.76 397.6,484.86 397.9,482.63 398.2,484.92 398.5,482.72 398.8,484.99 399.1,482.35 399.4,484.77 399.7,482.59 400,484.68 400.3,482.68 400.6,484.73 400.9,482.65 401.2,484.69 401.5,482.33 401.8,484.95 402.1,482.65 402.4,484.77 402.7,482.53 403,484.91 403.3,482.54 403.6,484.71 403.9,482.37 404.2,484.52 404.5,482.43 404.8,484.48 405.1,482.49 405.4,484.68 405.7,482.46 406,484.7 406.3,482.46 406.6,484.67 406.9,482.81 407.2,484.76 407.5,482.77 407.8,484.64 408.1,482.84 408.4,484.88 408.7,482.85 409,484.66 409.3,482.51 409.6,484.78 409.9,482.5 410.2,484.52 410.5,482.75 410.8,484.47 411.1,482.35 411.4,484.52 411.7,482.58 412,484.71 412.3,482.39 412.6,484.53 412.9,482.63 413.2,484.74 413.5,482.58 413.8,484.62 414.1,482.56 414.4,484.49 414.7,482.48 415,484.62 415.3,482.66 415.6,484.59 415.9,482.36 416.2,484.77 416.5,482.41 416.8,484.55 417.1,482.82 417.4,484.47 417.7,482.48 418,484.91 418.3,482.74 418.6,484.89 418.9,482.39 419.2,484.54 419.5,482.64 419.8,484.6 420.1,482.82 420.4,484.92 420.7,482.55 421,484.89 421.3,482.57 421.6,484.86 421.9,482.48 422.2,484.5 422.5,482.59 422.8,484.45 423.1,482.59 423.4,484.62 423.7,482.69 424,484.93 424.3,482.48 424.6,484.56 424.9,482.55 425.2,484.97 425.5,482.43 425.8,484.91 426.1,482.4 426.4,484.45 426.7,482.57 427,484.87 427.3,482.64 427.6,484.73 427.9,482.51 428.2,484.48 428.5,482.44 428.8,484.64 429.1,482.78 429.4,484.69 429.7,482.8 430,484.74 430.3,482.69 430.6,484.52 430.9,482.67 431.2,484.71 431.5,482.6 431.8,484.59 432.1,482.64 432.4,484.9 432.7,482.85 433,484.51 433.3,482.74 433.6,484.49 433.9,482.71" fill="none" stroke="#1a99ae" stroke-width="0.6" stroke-linejoin="round" />
<polyline points="282.1,516 282.4,532.83 282.7,516.96 283,531.69 283.3,517.92 283.6,529.8 283.9,519.08 284.2,530.07 284.5,520.4 284.8,528.9 285.1,520.69 285.4,529.25 285.7,519.89 286,528.55 286.3,520.73 286.6,529.35 286.9,520.85 287.2,529.87 287.5,521.39 287.8,528.51 288.1,521.45 288.4,529.13 288.7,520.77 289,528.84 289.3,519.89 289.6,528.69 289.9,520.4 290.2,530.11 290.5,521.84 290.8,529.19 291.1,520.89 291.4,528.38 291.7,521.2 292,528.76 292.3,521.26 292.6,528.09 292.9,520.69 293.2,528.81 293.5,521.49 293.8,528.78 294.1,522.26 294.4,529.2 294.7,522.58 295,527.78 295.3,521.72 295.6,528.12 295.9,522.45 296.2,528.08 296.5,522.71 296.8,528.29 297.1,522.09 297.4,528.48 297.7,522.89 298,528.26 298.3,522.75 298.6,528.07 298.9,522.95 299.2,528.09 299.5,522.22 299.8,528.51 300.1,522.02 300.4,528.44 300.7,522.81 301,528.45 301.3,522.06 301.6,528.34 301.9,523.09 302.2,527.8 302.5,523.14 302.8,528.13 303.1,522.87 303.4,527.4 303.7,523.11 304,528.13 304.3,522.6 304.6,527.48 304.9,523.07 305.2,528.03 305.5,523.29 305.8,527.39 306.1,522.71 306.4,528.08 306.7,522.92 307,526.99 307.3,523.48 307.6,527.58 307.9,522.43 308.2,527.51 308.5,522.44 308.8,527.8 309.1,523.32 309.4,526.9 309.7,522.45 310,527.36 310.3,523.02 310.6,527.52 310.9,523.3 311.2,527.57 311.5,523.32 311.8,527.46 312.1,523.41 312.4,527.39 312.7,523.32 313,527.54 313.3,522.97 313.6,527.29 313.9,523.12 314.2,527.01 314.5,522.59 314.8,527.29 315.1,523.36 315.4,527.36 315.7,523.31 316,527.27 316.3,522.78 316.6,527.16 316.9,523.62 317.2,526.99 317.5,523.59 317.8,526.76 318.1,522.76 318.4,527.44 318.7,522.84 319,527.33 319.3,523.25 319.6,527.63 319.9,522.95 320.2,526.7 320.5,523.3 320.8,527.44 321.1,523.41 321.4,527.22 321.7,522.84 322,526.83 322.3,523.26 322.6,526.88 322.9,523.15 323.2,526.75 323.5,523.61 323.8,527.49 324.1,523.78 324.4,527.39 324.7,523.28 325,527.29 325.3,523.25 325.6,527.49 325.9,523.24 326.2,526.86 326.5,523.47 326.8,526.97 327.1,523.73 327.4,526.99 327.7,523.43 328,526.65 328.3,523.29 328.6,526.93 328.9,523.2 329.2,526.66 329.5,522.94 329.8,526.62 330.1,523.04 330.4,526.9 330.7,523.47 331,527.23 331.3,523.21 331.6,527.31 331.9,523.67 332.2,526.86 332.5,522.95 332.8,526.68 333.1,522.97 333.4,527.31 333.7,523.31 334,526.61 334.3,523.75 334.6,526.77 334.9,523.37 335.2,527.28 335.5,523.23 335.8,526.62 336.1,523.81 336.4,527.44 336.7,523.73 337,527.38 337.3,523.42 337.6,526.59 337.9,523.1 338.2,527.11 338.5,523.29 338.8,526.65 339.1,523.16 339.4,527.18 339.7,523.67 340,527.27 340.3,523.43 340.6,526.75 340.9,523.48 341.2,526.76 341.5,523.64 341.8,527.17 342.1,523.83 342.4,526.68 342.7,523.48 343,526.62 343.3,523.1 343.6,526.6 343.9,523.16 344.2,526.76 344.5,522.98 344.8,527.18 345.1,523.01 345.4,526.76 345.7,523.4 346,526.89 346.3,523.51 346.6,527.36 346.9,523.52 347.2,526.8 347.5,523.37 347.8,527.25 348.1,523.73 348.4,526.77 348.7,523.62 349,526.6 349.3,523.68 349.6,527.28 349.9,523.6 350.2,526.75 350.5,523.67 350.8,526.76 351.1,523.37 351.4,527.28 351.7,523.56 352,527.27 352.3,523.44 352.6,526.6 352.9,523.5 353.2,526.85 353.5,523.32 353.8,527.22 354.1,523.71 354.4,526.99 354.7,523.24 355,527.25 355.3,523.13 355.6,527.23 355.9,523.7 356.2,527.17 356.5,523.49 356.8,526.81 357.1,523.65 357.4,527.28 357.7,523.03 358,527.18 358.3,523.4 358.6,527.34 358.9,523.2 359.2,527.4 359.5,523.42 359.8,526.68 360.1,523.45 360.4,527.01 360.7,523.1 361,526.82 361.3,523.56 361.6,526.88 361.9,523.05 362.2,527.04 362.5,523.28 362.8,527.27 363.1,523.32 363.4,526.58 363.7,523.41 364,527.18 364.3,523.42 364.6,526.68 364.9,523.06 365.2,527.32 365.5,523.84 365.8,527.15 366.1,523.51 366.4,526.91 366.7,523.44 367,527.01 367.3,523.88 367.6,526.81 367.9,523.46 368.2,526.82 368.5,523.8 368.8,527.27 369.1,523.37 369.4,527.17 369.7,523.32 370,527.25 370.3,523.34 370.6,527.07 370.9,523.84 371.2,526.73 371.5,523.3 371.8,527.19 372.1,523.16 372.4,527.35 372.7,523.4 373,527.27 373.3,523.64 373.6,527.24 373.9,523.09 374.2,526.69 374.5,523.68 374.8,526.98 375.1,523.69 375.4,527.29 375.7,523.7 376,526.66 376.3,523.21 376.6,527.35 376.9,523.88 377.2,526.76 377.5,523.53 377.8,527.08 378.1,523.62 378.4,527.06 378.7,523.67 379,527.16 379.3,523.8 379.6,526.8 379.9,523.34 380.2,527.18 380.5,523.8 380.8,526.51 381.1,523.35 381.4,526.52 381.7,523.53 382,527.17 382.3,523.91 382.6,527.2 382.9,523.38 383.2,526.78 383.5,523.41 383.8,527.33 384.1,523.84 384.4,526.59 384.7,523.29 385,526.53 385.3,523.49 385.6,526.68 385.9,523.39 386.2,527.26 386.5,523.91 386.8,526.74 387.1,523.16 387.4,527.18 387.7,523.9 388,527.29 388.3,523.17 388.6,526.77 388.9,523.11 389.2,526.49 389.5,523.8 389.8,527.08 390.1,523.31 390.4,527.08 390.7,523.72 391,526.91 391.3,523.11 391.6,526.66 391.9,523.64 392.2,527.29 392.5,523.37 392.8,527.05 393.1,523.35 393.4,526.93 393.7,523.48 394,526.55 394.3,523.58 394.6,527.17 394.9,523.45 395.2,527.15 395.5,523.5 395.8,526.53 396.1,523.73 396.4,526.68 396.7,523.21 397,526.64 397.3,523.68 397.6,527.18 397.9,523.79 398.2,527.19 398.5,523.88 398.8,526.6 399.1,523.91 399.4,526.51 399.7,523.13 400,527.18 400.3,523.81 400.6,526.64 400.9,523.19 401.2,526.88 401.5,523.59 401.8,526.63 402.1,523.78 402.4,527.22 402.7,523.8 403,526.51 403.3,523.47 403.6,526.78 403.9,523.4 404.2,526.89 404.5,523.53 404.8,527.16 405.1,523.91 405.4,526.75 405.7,523.28 406,527.2 406.3,523.88 406.6,526.72 406.9,523.32 407.2,527.18 407.5,523.15 407.8,526.96 408.1,523.78 408.4,527.15 408.7,523.61 409,526.48 409.3,523.34 409.6,526.47 409.9,523.4 410.2,527.22 410.5,523.58 410.8,526.47 411.1,523.54 411.4,527.04 411.7,523.7 412,526.55 412.3,523.72 412.6,526.61 412.9,523.78 413.2,526.49 413.5,523.23 413.8,526.98 414.1,523.72 414.4,527.08 414.7,523.28 415,527.05 415.3,523.38 415.6,526.97 415.9,523.66 416.2,526.87 416.5,523.87 416.8,526.66 417.1,523.43 417.4,526.5 417.7,523.84 418,527.01 418.3,523.35 418.6,527.23 418.9,523.3 419.2,526.84 419.5,523.62 419.8,526.6 420.1,523.74 420.4,527.05 420.7,523.39 421,526.83 421.3,523.18 421.6,527.22 421.9,523.52 422.2,527.15 422.5,523.71 422.8,526.47 423.1,523.61 423.4,526.59 423.7,523.57 424,527.13 424.3,523.51 424.6,527.12 424.9,523.91 425.2,526.46 425.5,523.24 425.8,526.57 426.1,523.96 426.4,526.76 426.7,523.67 427,526.42 427.3,523.96 427.6,526.64 427.9,523.26 428.2,526.53 428.5,523.2 428.8,526.76 429.1,523.47 429.4,526.97 429.7,523.24 430,526.49 430.3,523.98 430.6,526.72 430.9,523.69 431.2,526.41 431.5,523.53 431.8,527.03 432.1,523.98 432.4,526.57 432.7,523.45 433,527.03 433.3,523.84 433.6,526.79 433.9,523.63" fill="none" stroke="#22b8cf" stroke-width="0.6" stroke-linejoin="round" />
<polyline points="282.1,558.74 282.4,575.41 282.7,556.95 283,576.74 283.3,555.16 283.6,574.76 283.9,553.83 284.2,579.22 284.5,554.97 284.8,575.57 285.1,556.01 285.4,575.02 285.7,556.97 286,573.13 286.3,557.78 286.6,572.13 286.9,559.07 287.2,572.71 287.5,559.98 287.8,570.76 288.1,559.39 288.4,572.11 288.7,559.45 289,572.16 289.3,560.62 289.6,570.77 289.9,561.26 290.2,570.61 290.5,561.84 290.8,571.19 291.1,562.96 291.4,569.8 291.7,563.14 292,570.8 292.3,561.81 292.6,570.09 292.9,562.98 293.2,570.17 293.5,563.09 293.8,570.34 294.1,563.1 294.4,569.29 294.7,564.14 295,570.28 295.3,563.69 295.6,570.14 295.9,563.2 296.2,570.36 296.5,563.36 296.8,568.92 297.1,564.17 297.4,569.02 297.7,563.65 298,570.09 298.3,564.69 298.6,568.78 298.9,563.73 299.2,569.69 299.5,564.01 299.8,569.05 300.1,563.72 300.4,568.91 300.7,563.88 301,568.96 301.3,564.39 301.6,568.66 301.9,564.73 302.2,568.45 302.5,564.73 302.8,568.55 303.1,564.54 303.4,569.35 303.7,564.18 304,568.56 304.3,564.46 304.6,569.04 304.9,564.39 305.2,569.05 305.5,565.01 305.8,568.49 306.1,564.25 306.4,568.4 306.7,565.1 307,568.93 307.3,564.83 307.6,568.48 307.9,564.75 308.2,568.44 308.5,565.1 308.8,569.17 309.1,565.12 309.4,569.16 309.7,564.4 310,569.13 310.3,564.98 310.6,569.13 310.9,564.39 311.2,568.83 311.5,564.65 311.8,569.17 312.1,564.61 312.4,568.79 312.7,564.26 313,568.82 313.3,564.8 313.6,568.56 313.9,564.42 314.2,568.29 314.5,564.68 314.8,568.76 315.1,565 315.4,568.6 315.7,564.91 316,569.11 316.3,564.85 316.6,568.72 316.9,564.82 317.2,568.4 317.5,564.74 317.8,568.81 318.1,564.47 318.4,568.43 318.7,565.28 319,568.31 319.3,565.06 319.6,568.86 319.9,565.06 320.2,568.2 320.5,564.74 320.8,568.56 321.1,564.56 321.4,568.26 321.7,564.94 322,568.87 322.3,564.62 322.6,569.04 322.9,564.97 323.2,568.87 323.5,565.23 323.8,568.13 324.1,564.54 324.4,568.89 324.7,564.99 325,568.71 325.3,565.1 325.6,568.64 325.9,565.16 326.2,568.69 326.5,564.85 326.8,568.97 327.1,565.17 327.4,568.46 327.7,565.19 328,568.94 328.3,564.96 328.6,568.17 328.9,564.48 329.2,568.78 329.5,564.93 329.8,568.8 330.1,565.32 330.4,568.74 330.7,564.95 331,568.65 331.3,565.06 331.6,568.7 331.9,564.93 332.2,568.44 332.5,565.28 332.8,568.72 333.1,565.06 333.4,568.85 333.7,565.23 334,568.71 334.3,564.74 334.6,568.94 334.9,565.32 335.2,568.62 335.5,565.3 335.8,568.35 336.1,565.21 336.4,568.22 336.7,564.93 337,568.3 337.3,564.92 337.6,568.7 337.9,564.58 338.2,568.84 338.5,564.81 338.8,568.32 339.1,564.49 339.4,568.23 339.7,564.75 340,568.13 340.3,564.9 340.6,568.21 340.9,564.75 341.2,568.3 341.5,564.63 341.8,568.61 342.1,565 342.4,568.56 342.7,564.85 343,568.41 343.3,564.91 343.6,568.76 343.9,565.02 344.2,568.58 344.5,565.32 344.8,568.9 345.1,565.28 345.4,568.61 345.7,564.92 346,568.79 346.3,565.06 346.6,568.1 346.9,564.98 347.2,568.84 347.5,565.05 347.8,568.65 348.1,565.32 348.4,568.43 348.7,565.15 349,568.86 349.3,564.82 349.6,568.46 349.9,564.82 350.2,568.72 350.5,564.91 350.8,568.64 351.1,565.07 351.4,568.91 351.7,565.12 352,568.69 352.3,565.37 352.6,568.5 352.9,564.92 353.2,568.65 353.5,564.77 353.8,568.32 354.1,564.55 354.4,568.94 354.7,564.92 355,568.86 355.3,565.29 355.6,568.87 355.9,564.7 356.2,568.71 356.5,564.71 356.8,568.28 357.1,564.94 357.4,568.27 357.7,564.55 358,568.2 358.3,564.87 358.6,568.6 358.9,564.99 359.2,568.35 359.5,564.74 359.8,568.36 360.1,565.09 360.4,568.42 360.7,565.15 361,568.93 361.3,565.33 361.6,568.48 361.9,564.6 362.2,568.82 362.5,565.09 362.8,568.47 363.1,564.86 363.4,568.68 363.7,565.38 364,568.58 364.3,564.97 364.6,568.89 364.9,564.72 365.2,568.1 365.5,564.82 365.8,568.79 366.1,564.76 366.4,568.15 366.7,564.56 367,568.31 367.3,564.8 367.6,568.15 367.9,564.78 368.2,568.51 368.5,564.73 368.8,568.31 369.1,565.01 369.4,568.84 369.7,565.12 370,568.7 370.3,564.62 370.6,568.12 370.9,564.96 371.2,568.64 371.5,565.16 371.8,568.56 372.1,564.91 372.4,568.9 372.7,565.05 373,568.42 373.3,564.73 373.6,568.13 373.9,565.1 374.2,568.85 374.5,564.75 374.8,568.4 375.1,564.83 375.4,568.61 375.7,565.2 376,568.4 376.3,565.12 376.6,568.87 376.9,565.14 377.2,568.08 377.5,564.62 377.8,568.86 378.1,564.87 378.4,568.25 378.7,564.88 379,568.23 379.3,564.91 379.6,568.87 379.9,564.79 380.2,568.79 380.5,565.31 380.8,568.08 381.1,564.75 381.4,568.83 381.7,564.91 382,568.31 382.3,564.81 382.6,568.77 382.9,565.04 383.2,568.51 383.5,565.3 383.8,568.72 384.1,564.88 384.4,568.51 384.7,565.16 385,568.76 385.3,565.22 385.6,568.86 385.9,565.31 386.2,568.22 386.5,565.3 386.8,568.28 387.1,565.3 387.4,568.31 387.7,565 388,568.81 388.3,564.69 388.6,568.09 388.9,565.21 389.2,568.41 389.5,565.4 389.8,568.58 390.1,564.89 390.4,568.05 390.7,564.84 391,568.59 391.3,565.29 391.6,568.27 391.9,564.87 392.2,568.65 392.5,564.75 392.8,568.75 393.1,565.45 393.4,568.09 393.7,564.95 394,568.7 394.3,565.01 394.6,568.31 394.9,565.27 395.2,568.34 395.5,564.84 395.8,568.03 396.1,565.05 396.4,568.7 396.7,565.08 397,568.2 397.3,565.33 397.6,568.68 397.9,565.3 398.2,568.43 398.5,564.87 398.8,568.29 399.1,565.05 399.4,568.82 399.7,565.18 400,568.83 400.3,565.16 400.6,568.59 400.9,564.86 401.2,568.3 401.5,565.03 401.8,568.4 402.1,565.13 402.4,568.54 402.7,564.98 403,568.02 403.3,564.92 403.6,568.81 403.9,564.67 404.2,568.81 404.5,565.37 404.8,568 405.1,564.82 405.4,568.44 405.7,565.02 406,568.47 406.3,565.45 406.6,568.6 406.9,564.88 407.2,568 407.5,565.15 407.8,568.46 408.1,564.81 408.4,568.78 408.7,564.98 409,568.14 409.3,565.31 409.6,568.19 409.9,564.82 410.2,568.25 410.5,564.92 410.8,568.1 411.1,564.83 411.4,568.18 411.7,564.8 412,568.32 412.3,564.75 412.6,568.64 412.9,565.1 413.2,568.73 413.5,564.79 413.8,568.4 414.1,565.38 414.4,568.04 414.7,564.94 415,568.4 415.3,564.9 415.6,568.23 415.9,565.45 416.2,568.2 416.5,564.81 416.8,568.68 417.1,565.29 417.4,568.22 417.7,565.16 418,568.54 418.3,565.24 418.6,568.5 418.9,565.02 419.2,568.44 419.5,565.01 419.8,568.52 420.1,565.2 420.4,568.17 420.7,565.08 421,568.72 421.3,565.2 421.6,568.21 421.9,565.03 422.2,568.31 422.5,565.27 422.8,568.26 423.1,565.51 423.4,568.61 423.7,564.72 424,568.64 424.3,565.43 424.6,568.41 424.9,564.98 425.2,568.2 425.5,565.13 425.8,568.13 426.1,564.89 426.4,568.44 426.7,565.44 427,567.98 427.3,565.24 427.6,568.04 427.9,564.93 428.2,568.04 428.5,565.39 428.8,568.41 429.1,564.97 429.4,568.72 429.7,565.48 430,568.65 430.3,565.42 430.6,568.45 430.9,565.38 431.2,568.07 431.5,565.19 431.8,568.74 432.1,565.5 432.4,568.11 432.7,564.81 433,568.42 433.3,565.11 433.6,568.3 433.9,564.77" fill="none" stroke="#22c592" stroke-width="0.6" stroke-linejoin="round" />
<polyline points="282.1,600.25 282.4,615.61 282.7,597.05 283,617.98 283.3,593.77 283.6,618.84 283.9,594.67 284.2,618.03 284.5,591.43 284.8,621.99 285.1,594.8 285.4,624.09 285.7,590.58 286,621.71 286.3,593.23 286.6,616.55 286.9,596.25 287.2,619.31 287.5,596.64 287.8,617.26 288.1,597.73 288.4,613.18 288.7,599.87 289,612.08 289.3,601.77 289.6,612.31 289.9,602.77 290.2,615.06 290.5,602.51 290.8,613.93 291.1,599.3 291.4,613.36 291.7,599.05 292,614.06 292.3,600.63 292.6,614.01 292.9,601.26 293.2,614.93 293.5,599.94 293.8,613.82 294.1,598.65 294.4,615.59 294.7,600.16 295,615.28 295.3,601.81 295.6,613.91 295.9,602.04 296.2,613.21 296.5,602.64 296.8,612.35 297.1,602.8 297.4,611.08 297.7,603.29 298,611.56 298.3,602.77 298.6,611.93 298.9,604.29 299.2,613.43 299.5,602.15 299.8,612.41 300.1,603.72 300.4,611.83 300.7,600.98 301,613.73 301.3,601.98 301.6,611.64 301.9,603.72 302.2,612.42 302.5,601.39 302.8,611.89 303.1,603.66 303.4,612.13 303.7,602.55 304,613.08 304.3,602.32 304.6,612.2 304.9,602.73 305.2,610.95 305.5,603.79 305.8,611.12 306.1,605.39 306.4,611.41 306.7,604.31 307,612.16 307.3,604 307.6,611.28 307.9,603.09 308.2,612.39 308.5,602.99 308.8,612.17 309.1,603.27 309.4,612.81 309.7,603.2 310,611.38 310.3,604.33 310.6,612.1 310.9,603.88 311.2,611.63 311.5,604.11 311.8,611.28 312.1,605.17 312.4,612.24 312.7,604.07 313,611.81 313.3,604.38 313.6,611.46 313.9,604.66 314.2,610.62 314.5,605.79 314.8,611.12 315.1,604.73 315.4,611.65 315.7,605.77 316,611.24 316.3,604.75 316.6,611.4 316.9,605.22 317.2,610.46 317.5,604.93 317.8,611.39 318.1,604.81 318.4,610.34 318.7,604.79 319,611.62 319.3,604.8 319.6,610.58 319.9,605.85 320.2,610.9 320.5,605.87 320.8,611.34 321.1,605.11 321.4,610.87 321.7,605.37 322,610.37 322.3,605.14 322.6,611.03 322.9,605.15 323.2,610.57 323.5,605.37 323.8,610.64 324.1,605.32 324.4,610.25 324.7,605.97 325,610.44 325.3,605.82 325.6,611.04 325.9,605.77 326.2,610.62 326.5,605.2 326.8,610.73 327.1,606.09 327.4,610.43 327.7,605.35 328,610.8 328.3,605.31 328.6,610.23 328.9,605.38 329.2,610.07 329.5,605.29 329.8,610.28 330.1,606.08 330.4,610.38 330.7,605.53 331,609.98 331.3,605.69 331.6,609.96 331.9,606.09 332.2,609.99 332.5,605.97 332.8,610.02 333.1,605.88 333.4,610.06 333.7,606.27 334,610.65 334.3,606.49 334.6,609.88 334.9,606.27 335.2,610.34 335.5,606.23 335.8,610.7 336.1,605.81 336.4,609.85 336.7,606.62 337,610.13 337.3,605.91 337.6,609.8 337.9,606.42 338.2,610.05 338.5,606.16 338.8,609.96 339.1,606.06 339.4,609.83 339.7,606.02 340,609.95 340.3,606.46 340.6,609.92 340.9,606.79 341.2,609.82 341.5,606.84 341.8,609.61 342.1,606.1 342.4,610.38 342.7,606.11 343,609.78 343.3,606.28 343.6,609.64 343.9,606.41 344.2,610.05 344.5,606.21 344.8,609.61 345.1,606.19 345.4,610.11 345.7,606.82 346,609.87 346.3,606.56 346.6,609.61 346.9,606.94 347.2,610.22 347.5,606.59 347.8,610.24 348.1,606.33 348.4,609.88 348.7,606.45 349,609.99 349.3,606.59 349.6,609.88 349.9,606.62 350.2,609.56 350.5,606.48 350.8,610.12 351.1,606.6 351.4,609.54 351.7,606.81 352,610.35 352.3,606.14 352.6,609.75 352.9,606.71 353.2,610.25 353.5,606.44 353.8,610.18 354.1,606.14 354.4,609.83 354.7,606.73 355,610.29 355.3,606.13 355.6,610.23 355.9,606.54 356.2,609.7 356.5,606.7 356.8,610.02 357.1,606.56 357.4,609.93 357.7,606.13 358,609.6 358.3,606.96 358.6,609.62 358.9,606.15 359.2,610.31 359.5,606.28 359.8,609.63 360.1,606.61 360.4,610.06 360.7,606.75 361,609.9 361.3,606.71 361.6,609.7 361.9,606.99 362.2,609.78 362.5,606.65 362.8,610.26 363.1,606.37 363.4,609.81 363.7,606.62 364,610.29 364.3,606.45 364.6,609.65 364.9,606.72 365.2,609.81 365.5,606.18 365.8,610.31 366.1,606.81 366.4,609.75 366.7,606.2 367,610.19 367.3,606.23 367.6,609.69 367.9,606.61 368.2,610.23 368.5,606.75 368.8,609.62 369.1,606.38 369.4,609.97 369.7,606.83 370,610.03 370.3,606.29 370.6,610.15 370.9,606.18 371.2,609.76 371.5,606.56 371.8,609.52 372.1,606.61 372.4,609.54 372.7,606.88 373,610.04 373.3,606.68 373.6,609.82 373.9,606.61 374.2,610.13 374.5,606.77 374.8,610.2 375.1,606.33 375.4,609.73 375.7,606.64 376,609.95 376.3,606.45 376.6,609.57 376.9,607 377.2,609.69 377.5,606.61 377.8,609.55 378.1,606.72 378.4,610.2 378.7,606.47 379,609.77 379.3,607 379.6,609.66 379.9,606.72 380.2,609.56 380.5,606.48 380.8,609.69 381.1,606.6 381.4,610.2 381.7,606.75 382,609.57 382.3,606.71 382.6,609.8 382.9,606.29 383.2,610.21 383.5,606.81 383.8,609.58 384.1,606.89 384.4,609.76 384.7,606.79 385,609.66 385.3,606.87 385.6,610.01 385.9,606.6 386.2,610.21 386.5,606.75 386.8,609.71 387.1,606.88 387.4,609.63 387.7,606.82 388,610.18 388.3,606.58 388.6,610.28 388.9,606.45 389.2,610.18 389.5,606.51 389.8,609.69 390.1,606.78 390.4,609.63 390.7,606.86 391,609.79 391.3,606.72 391.6,610.15 391.9,606.56 392.2,609.7 392.5,606.34 392.8,609.77 393.1,607.06 393.4,609.98 393.7,606.75 394,609.71 394.3,606.38 394.6,610.25 394.9,606.74 395.2,609.68 395.5,606.52 395.8,609.53 396.1,606.63 396.4,609.62 396.7,606.26 397,609.67 397.3,606.9 397.6,609.53 397.9,606.82 398.2,610.09 398.5,606.69 398.8,609.91 399.1,606.29 399.4,609.5 399.7,606.47 400,609.7 400.3,606.87 400.6,609.86 400.9,606.5 401.2,609.91 401.5,606.56 401.8,610.16 402.1,606.69 402.4,609.92 402.7,606.48 403,609.55 403.3,606.75 403.6,609.67 403.9,606.39 404.2,609.74 404.5,606.48 404.8,610.14 405.1,606.39 405.4,610.05 405.7,606.57 406,609.47 406.3,606.32 406.6,609.81 406.9,607.01 407.2,609.53 407.5,607.09 407.8,609.63 408.1,606.97 408.4,609.68 408.7,606.86 409,609.92 409.3,606.48 409.6,610.11 409.9,606.35 410.2,609.76 410.5,606.53 410.8,610.23 411.1,606.3 411.4,609.66 411.7,606.64 412,609.73 412.3,606.76 412.6,609.59 412.9,606.42 413.2,609.91 413.5,606.73 413.8,609.69 414.1,606.52 414.4,609.79 414.7,606.33 415,609.61 415.3,607.04 415.6,609.49 415.9,606.57 416.2,609.93 416.5,606.99 416.8,609.64 417.1,606.37 417.4,609.96 417.7,606.76 418,609.75 418.3,606.64 418.6,609.47 418.9,607.1 419.2,609.6 419.5,606.69 419.8,610.04 420.1,606.47 420.4,610.12 420.7,606.8 421,610.17 421.3,606.53 421.6,609.88 421.9,606.37 422.2,609.71 422.5,606.47 422.8,610.06 423.1,606.55 423.4,609.56 423.7,606.75 424,610.16 424.3,606.45 424.6,610.08 424.9,606.72 425.2,609.53 425.5,606.68 425.8,610.14 426.1,606.66 426.4,610.14 426.7,606.71 427,609.62 427.3,606.66 427.6,609.69 427.9,606.57 428.2,609.67 428.5,606.54 428.8,609.7 429.1,607 429.4,610.08 429.7,607.02 430,609.45 430.3,606.94 430.6,609.58 430.9,606.54 431.2,610 431.5,606.44 431.8,609.44 432.1,606.88 432.4,610.06 432.7,606.82 433,609.61 433.3,606.82 433.6,610.18 433.9,606.65" fill="none" stroke="#4fcf65" stroke-width="0.6" stroke-linejoin="round" />
<polyline points="282.1,651.99 282.4,655.36 282.7,650.84 283,653.85 283.3,649.27 283.6,651.42 283.9,647.84 284.2,649.82 284.5,646.32 284.8,648.83 285.1,645.43 285.4,648.11 285.7,645.63 286,648.2 286.3,645.72 286.6,648.45 286.9,646.43 287.2,649.49 287.5,647.45 287.8,650.64 288.1,648.61 288.4,651.42 288.7,649.6 289,652.76 289.3,650.65 289.6,653.16 289.9,650.87 290.2,653.09 290.5,650.58 290.8,652.61 291.1,650.32 291.4,652.17 291.7,649.51 292,651.24 292.3,648.53 292.6,650.68 292.9,648.29 293.2,650.09 293.5,647.62 293.8,649.34 294.1,647.14 294.4,649.36 294.7,647.55 295,649.54 295.3,647.44 295.6,650.08 295.9,648.26 296.2,650.57 296.5,648.78 296.8,650.79 297.1,649 297.4,651.5 297.7,649.82 298,651.89 298.3,649.56 298.6,651.96 298.9,649.63 299.2,651.47 299.5,649.66 299.8,651.25 300.1,649.37 300.4,650.91 300.7,649.08 301,650.74 301.3,648.67 301.6,650.43 301.9,648.19 302.2,650 302.5,648 302.8,650.12 303.1,648 303.4,650.05 303.7,648.25 304,650.11 304.3,648.3 304.6,650.49 304.9,648.97 305.2,650.81 305.5,649.23 305.8,650.87 306.1,649 306.4,651.34 306.7,649.28 307,651.41 307.3,649.43 307.6,651.39 307.9,649.36 308.2,651.19 308.5,649.03 308.8,650.83 309.1,648.87 309.4,650.88 309.7,649 310,650.77 310.3,648.61 310.6,650.3 310.9,648.68 311.2,650.22 311.5,648.44 311.8,650.4 312.1,648.85 312.4,650.32 312.7,648.53 313,650.4 313.3,648.75 313.6,650.83 313.9,649.15 314.2,650.61 314.5,649.07 314.8,650.89 315.1,649.3 315.4,650.8 315.7,649.25 316,650.73 316.3,648.91 316.6,651.12 316.9,648.87 317.2,650.74 317.5,648.95 317.8,650.84 318.1,649.11 318.4,650.52 318.7,648.62 319,650.5 319.3,648.7 319.6,650.67 319.9,648.82 320.2,650.45 320.5,648.97 320.8,650.55 321.1,648.89 321.4,650.88 321.7,648.72 322,650.91 322.3,648.96 322.6,650.86 322.9,648.73 323.2,650.59 323.5,649.16 323.8,650.96 324.1,649.01 324.4,650.91 324.7,649.06 325,651.01 325.3,648.99 325.6,650.81 325.9,649.07 326.2,650.58 326.5,648.96 326.8,650.71 327.1,648.67 327.4,650.48 327.7,648.8 328,650.79 328.3,648.77 328.6,650.53 328.9,649.05 329.2,650.79 329.5,648.81 329.8,650.7 330.1,649.03 330.4,650.58 330.7,648.72 331,650.86 331.3,649 331.6,650.86 331.9,649.11 332.2,650.99 332.5,649.15 332.8,650.71 333.1,649.07 333.4,650.58 333.7,648.97 334,650.68 334.3,648.79 334.6,650.73 334.9,648.86 335.2,650.78 335.5,648.91 335.8,650.57 336.1,648.96 336.4,650.73 336.7,649.04 337,650.52 337.3,649.01 337.6,650.61 337.9,649.05 338.2,650.54 338.5,648.99 338.8,650.79 339.1,648.95 339.4,650.6 339.7,648.75 340,650.59 340.3,649.12 340.6,650.78 340.9,649.15 341.2,650.77 341.5,649.03 341.8,650.88 342.1,648.8 342.4,650.96 342.7,648.75 343,650.89 343.3,649.13 343.6,650.6 343.9,648.94 344.2,650.76 344.5,649.02 344.8,650.68 345.1,648.7 345.4,650.7 345.7,649.06 346,650.87 346.3,648.76 346.6,650.65 346.9,648.92 347.2,650.74 347.5,648.81 347.8,650.94 348.1,648.82 348.4,650.9 348.7,648.99 349,650.77 349.3,648.92 349.6,650.86 349.9,648.91 350.2,650.97 350.5,649.1 350.8,650.64 351.1,648.8 351.4,650.93 351.7,648.78 352,650.65 352.3,648.92 352.6,650.75 352.9,648.77 353.2,650.72 353.5,649 353.8,650.54 354.1,648.86 354.4,650.56 354.7,648.81 355,650.81 355.3,648.74 355.6,650.81 355.9,648.98 356.2,650.85 356.5,648.79 356.8,650.78 357.1,648.69 357.4,650.69 357.7,648.81 358,650.62 358.3,648.71 358.6,650.86 358.9,649.06 359.2,650.92 359.5,648.69 359.8,650.57 360.1,648.71 360.4,650.89 360.7,648.79 361,650.58 361.3,649.06 361.6,650.59 361.9,648.99 362.2,650.81 362.5,649.08 362.8,650.64 363.1,648.85 363.4,650.63 363.7,648.92 364,650.61 364.3,649.01 364.6,650.93 364.9,648.96 365.2,650.61 365.5,648.91 365.8,650.65 366.1,648.96 366.4,650.53 366.7,648.97 367,650.73 367.3,648.87 367.6,650.82 367.9,648.72 368.2,650.88 368.5,648.91 368.8,650.85 369.1,648.94 369.4,650.9 369.7,648.93 370,650.63 370.3,648.87 370.6,650.9 370.9,649.01 371.2,650.68 371.5,649.06 371.8,650.94 372.1,648.88 372.4,650.84 372.7,648.73 373,650.84 373.3,648.75 373.6,650.5 373.9,648.93 374.2,650.9 374.5,648.91 374.8,650.56 375.1,649.09 375.4,650.95 375.7,649.13 376,650.54 376.3,648.75 376.6,650.64 376.9,649.03 377.2,650.82 377.5,649.09 377.8,650.87 378.1,648.8 378.4,650.64 378.7,648.74 379,650.68 379.3,649.14 379.6,650.91 379.9,648.78 380.2,650.54 380.5,648.9 380.8,650.88 381.1,648.75 381.4,650.67 381.7,648.71 382,650.62 382.3,648.87 382.6,650.82 382.9,648.79 383.2,650.76 383.5,648.95 383.8,650.8 384.1,648.71 384.4,650.91 384.7,648.82 385,650.8 385.3,648.77 385.6,650.74 385.9,649.09 386.2,650.93 386.5,648.92 386.8,650.65 387.1,648.73 387.4,650.65 387.7,648.77 388,650.91 388.3,648.85 388.6,650.71 388.9,648.8 389.2,650.63 389.5,648.75 389.8,650.77 390.1,648.86 390.4,650.78 390.7,648.75 391,650.74 391.3,649.1 391.6,650.86 391.9,649.07 392.2,650.59 392.5,648.98 392.8,650.66 393.1,648.84 393.4,650.93 393.7,648.91 394,650.52 394.3,648.72 394.6,650.68 394.9,649.07 395.2,650.69 395.5,648.7 395.8,650.51 396.1,648.92 396.4,650.92 396.7,648.91 397,650.53 397.3,648.73 397.6,650.79 397.9,648.77 398.2,650.73 398.5,648.85 398.8,650.75 399.1,648.92 399.4,650.56 399.7,648.78 400,650.82 400.3,648.84 400.6,650.66 400.9,648.88 401.2,650.7 401.5,648.92 401.8,650.89 402.1,648.84 402.4,650.91 402.7,649.03 403,650.64 403.3,648.9 403.6,650.68 403.9,648.85 404.2,650.69 404.5,648.88 404.8,650.64 405.1,648.94 405.4,650.67 405.7,649.08 406,650.9 406.3,648.91 406.6,650.7 406.9,648.85 407.2,650.8 407.5,648.82 407.8,650.79 408.1,648.91 408.4,650.71 408.7,648.92 409,650.68 409.3,648.79 409.6,650.86 409.9,648.95 410.2,650.77 410.5,648.88 410.8,650.95 411.1,648.91 411.4,650.92 411.7,648.95 412,650.7 412.3,648.92 412.6,650.64 412.9,648.96 413.2,650.76 413.5,648.79 413.8,650.72 414.1,648.82 414.4,650.83 414.7,648.94 415,650.62 415.3,648.95 415.6,650.61 415.9,649.08 416.2,650.57 416.5,648.94 416.8,650.63 417.1,648.94 417.4,650.71 417.7,649.06 418,650.62 418.3,648.95 418.6,650.69 418.9,649.05 419.2,650.65 419.5,648.77 419.8,650.8 420.1,649.02 420.4,650.56 420.7,649 421,650.52 421.3,648.72 421.6,650.68 421.9,648.82 422.2,650.66 422.5,648.82 422.8,650.78 423.1,648.84 423.4,650.51 423.7,648.98 424,650.52 424.3,648.71 424.6,650.67 424.9,649.13 425.2,650.81 425.5,649.07 425.8,650.69 426.1,648.69 426.4,650.5 426.7,649.09 427,650.73 427.3,648.97 427.6,650.92 427.9,648.82 428.2,650.82 428.5,649.09 428.8,650.62 429.1,648.79 429.4,650.8 429.7,648.83 430,650.79 430.3,648.94 430.6,650.68 430.9,648.98 431.2,650.8 431.5,649.1 431.8,650.58 432.1,648.87 432.4,650.76 432.7,648.86 433,650.53 433.3,648.73 433.6,650.68 433.9,648.92" fill="none" stroke="#8edb3a" stroke-width="0.6" stroke-linejoin="round" />
<polyline points="282.1,677.36 282.4,698.43 282.7,679.49 283,697.97 283.3,681.63 283.6,696.28 283.9,683.84 284.2,697.18 284.5,684.94 284.8,695.96 285.1,685 285.4,696.74 285.7,683 286,696.48 286.3,681.94 286.6,696.59 286.9,682.57 287.2,695.5 287.5,685.07 287.8,695.61 288.1,683.86 288.4,695.56 288.7,685.66 289,695.67 289.3,686.2 289.6,694.55 289.9,685.79 290.2,696.12 290.5,686.01 290.8,694.31 291.1,686.97 291.4,694.27 291.7,687.43 292,694.56 292.3,687.54 292.6,694.98 292.9,688 293.2,694.37 293.5,688.32 293.8,694.27 294.1,686.96 294.4,694.81 294.7,686.85 295,694.18 295.3,686.97 295.6,694.33 295.9,688.31 296.2,693.82 296.5,687.3 296.8,694.79 297.1,688.58 297.4,693.4 297.7,687.65 298,693.48 298.3,688.75 298.6,694.52 298.9,688 299.2,693.57 299.5,689 299.8,693.75 300.1,689.26 300.4,693.52 300.7,689.27 301,693.94 301.3,688.79 301.6,694.08 301.9,688.76 302.2,693.75 302.5,689.5 302.8,693.75 303.1,689.6 303.4,693.81 303.7,688.95 304,692.98 304.3,688.89 304.6,693.55 304.9,689.64 305.2,693.5 305.5,689.41 305.8,693.73 306.1,689.21 306.4,693.1 306.7,689.36 307,693.17 307.3,689.22 307.6,693.56 307.9,688.81 308.2,693.37 308.5,689.53 308.8,693.31 309.1,689.26 309.4,693.85 309.7,689.39 310,693.48 310.3,688.79 310.6,693.71 310.9,689.37 311.2,693.72 311.5,689.17 311.8,692.92 312.1,689.03 312.4,693.41 312.7,689.13 313,693.2 313.3,689.76 313.6,693.89 313.9,689.48 314.2,693.03 314.5,689.51 314.8,693.63 315.1,689.72 315.4,693.72 315.7,689.23 316,693.07 316.3,689.23 316.6,693.86 316.9,689.72 317.2,693.55 317.5,689.41 317.8,693.07 318.1,689.74 318.4,693.78 318.7,689.42 319,693.01 319.3,688.89 319.6,693.31 319.9,689.26 320.2,693.13 320.5,689.11 320.8,693.52 321.1,689.71 321.4,693.79 321.7,689.25 322,693.54 322.3,689.09 322.6,693.17 322.9,688.99 323.2,693.78 323.5,689.33 323.8,693.06 324.1,689.11 324.4,693.53 324.7,689.35 325,692.87 325.3,689.84 325.6,692.94 325.9,689.03 326.2,693.07 326.5,689.72 326.8,693.04 327.1,689.35 327.4,693.78 327.7,689.64 328,693.05 328.3,689.45 328.6,693.74 328.9,689.59 329.2,693.2 329.5,689.81 329.8,693.01 330.1,689.64 330.4,693.09 330.7,689.57 331,692.95 331.3,689.71 331.6,693.03 331.9,689.29 332.2,693.73 332.5,689.13 332.8,693.32 333.1,689.14 333.4,693.17 333.7,688.99 334,693.29 334.3,689.54 334.6,693.78 334.9,689.46 335.2,693.08 335.5,689.37 335.8,693.8 336.1,689.74 336.4,693.61 336.7,689.07 337,693.78 337.3,689.82 337.6,693.78 337.9,689.07 338.2,692.89 338.5,689.42 338.8,693.31 339.1,689.44 339.4,693.38 339.7,689.33 340,693.3 340.3,689.04 340.6,693.26 340.9,689.58 341.2,693.37 341.5,689.37 341.8,693.34 342.1,689.06 342.4,693.74 342.7,689.55 343,692.93 343.3,689.84 343.6,693.67 343.9,689.19 344.2,693.22 344.5,689.3 344.8,693.19 345.1,689.78 345.4,693.67 345.7,689.84 346,693.49 346.3,689.61 346.6,693.48 346.9,689.76 347.2,693.66 347.5,689.53 347.8,693.42 348.1,689.15 348.4,693.35 348.7,689 349,693.43 349.3,689.78 349.6,692.94 349.9,689.65 350.2,692.93 350.5,689.17 350.8,693.27 351.1,689.66 351.4,693.17 351.7,689.8 352,693.56 352.3,689.66 352.6,693.32 352.9,689.64 353.2,693.37 353.5,689.87 353.8,693.01 354.1,689.41 354.4,693.29 354.7,689.37 355,692.99 355.3,689.31 355.6,693.39 355.9,689.12 356.2,693.7 356.5,689.05 356.8,693.61 357.1,689.86 357.4,693.01 357.7,689.38 358,693.53 358.3,689.36 358.6,693.42 358.9,689.37 359.2,693.61 359.5,689.34 359.8,693.2 360.1,689.76 360.4,693.47 360.7,689.19 361,693.6 361.3,689.07 361.6,693.2 361.9,689.63 362.2,693.51 362.5,689.74 362.8,692.83 363.1,689.49 363.4,692.87 363.7,689.66 364,692.91 364.3,689.46 364.6,693.67 364.9,689.37 365.2,692.82 365.5,689.43 365.8,693.13 366.1,689.39 366.4,693.59 366.7,689.76 367,692.88 367.3,689.14 367.6,692.94 367.9,689.09 368.2,693.13 368.5,689.54 368.8,692.78 369.1,689.42 369.4,693.44 369.7,689.21 370,693.12 370.3,689.83 370.6,693.63 370.9,689.79 371.2,693.34 371.5,689.38 371.8,693.39 372.1,689.96 372.4,693.62 372.7,689.37 373,693.59 373.3,689.26 373.6,693.51 373.9,689.88 374.2,693.29 374.5,689.41 374.8,693.05 375.1,689.66 375.4,693.59 375.7,689.67 376,693 376.3,689.38 376.6,693.22 376.9,689.41 377.2,693.54 377.5,689.56 377.8,693.31 378.1,689.44 378.4,692.88 378.7,689.19 379,693.38 379.3,689.5 379.6,693.22 379.9,689.37 380.2,692.84 380.5,689.66 380.8,693.32 381.1,689.13 381.4,693.23 381.7,690 382,693.54 382.3,689.6 382.6,693.31 382.9,689.88 383.2,692.98 383.5,689.63 383.8,693.5 384.1,689.34 384.4,693.31 384.7,690.01 385,692.95 385.3,689.66 385.6,692.79 385.9,690 386.2,693.18 386.5,689.52 386.8,693 387.1,689.16 387.4,693.46 387.7,689.21 388,692.91 388.3,689.83 388.6,693.29 388.9,689.71 389.2,693.27 389.5,689.79 389.8,692.77 390.1,689.57 390.4,693.33 390.7,689.39 391,693.32 391.3,689.31 391.6,692.96 391.9,689.41 392.2,693.36 392.5,689.6 392.8,693.32 393.1,689.2 393.4,693.44 393.7,689.65 394,693.13 394.3,689.82 394.6,692.7 394.9,689.81 395.2,692.82 395.5,689.25 395.8,693 396.1,689.8 396.4,693.04 396.7,689.84 397,692.71 397.3,689.41 397.6,692.77 397.9,689.57 398.2,693.35 398.5,689.92 398.8,692.69 399.1,689.74 399.4,693.39 399.7,690.02 400,692.85 400.3,689.65 400.6,693.5 400.9,689.42 401.2,693.29 401.5,689.71 401.8,692.92 402.1,689.38 402.4,693.29 402.7,689.51 403,692.94 403.3,689.31 403.6,693.38 403.9,689.83 404.2,693.28 404.5,689.79 404.8,692.78 405.1,689.32 405.4,692.85 405.7,689.47 406,693.31 406.3,690.07 406.6,692.69 406.9,689.84 407.2,692.91 407.5,689.82 407.8,693.23 408.1,689.78 408.4,693.38 408.7,689.86 409,692.93 409.3,689.7 409.6,693.28 409.9,689.98 410.2,693.45 410.5,689.54 410.8,692.9 411.1,689.27 411.4,693.44 411.7,690.02 412,692.73 412.3,689.54 412.6,693.14 412.9,689.34 413.2,693.13 413.5,690.09 413.8,692.95 414.1,689.72 414.4,692.69 414.7,689.75 415,692.81 415.3,689.83 415.6,692.94 415.9,689.61 416.2,692.66 416.5,689.92 416.8,692.66 417.1,689.56 417.4,693.18 417.7,689.61 418,693.32 418.3,689.45 418.6,693.17 418.9,689.82 419.2,692.97 419.5,689.45 419.8,692.86 420.1,689.31 420.4,693.21 420.7,689.93 421,693.01 421.3,689.82 421.6,693.02 421.9,689.86 422.2,693.07 422.5,689.81 422.8,692.63 423.1,690.05 423.4,692.98 423.7,689.55 424,693.15 424.3,689.89 424.6,693.28 424.9,689.99 425.2,692.69 425.5,689.89 425.8,693.12 426.1,689.83 426.4,692.87 426.7,689.5 427,693.28 427.3,689.44 427.6,692.93 427.9,689.44 428.2,693.09 428.5,689.36 428.8,693.06 429.1,689.79 429.4,692.63 429.7,690.13 430,693.07 430.3,689.48 430.6,693.01 430.9,689.38 431.2,692.91 431.5,689.43 431.8,692.9 432.1,689.73 432.4,692.99 432.7,689.4 433,692.81 433.3,689.81 433.6,693.28 433.9,689.65" fill="none" stroke="#fbc21a" stroke-width="0.6" stroke-linejoin="round" />
<polyline points="282.1,732.28 282.4,733.52 282.7,732.28 283,733.52 283.3,732.28 283.6,733.43 283.9,732.32 284.2,733.52 284.5,732.34 284.8,733.4 285.1,732.39 285.4,733.52 285.7,732.49 286,733.42 286.3,732.33 286.6,733.47 286.9,732.46 287.2,733.34 287.5,732.47 287.8,733.41 288.1,732.35 288.4,733.45 288.7,732.41 289,733.47 289.3,732.33 289.6,733.41 289.9,732.3 290.2,733.36 290.5,732.32 290.8,733.36 291.1,732.43 291.4,733.37 291.7,732.33 292,733.32 292.3,732.3 292.6,733.32 292.9,732.44 293.2,733.44 293.5,732.49 293.8,733.5 294.1,732.33 294.4,733.36 294.7,732.29 295,733.31 295.3,732.31 295.6,733.51 295.9,732.37 296.2,733.35 296.5,732.3 296.8,733.3 297.1,732.48 297.4,733.52 297.7,732.41 298,733.47 298.3,732.46 298.6,733.28 298.9,732.32 299.2,733.37 299.5,732.31 299.8,733.33 300.1,732.38 300.4,733.45 300.7,732.48 301,733.37 301.3,732.47 301.6,733.37 301.9,732.4 302.2,733.5 302.5,732.31 302.8,733.5 303.1,732.29 303.4,733.3 303.7,732.31 304,733.3 304.3,732.28 304.6,733.37 304.9,732.29 305.2,733.43 305.5,732.46 305.8,733.45 306.1,732.42 306.4,733.34 306.7,732.43 307,733.49 307.3,732.31 307.6,733.49 307.9,732.52 308.2,733.5 308.5,732.52 308.8,733.33 309.1,732.52 309.4,733.29 309.7,732.39 310,733.42 310.3,732.49 310.6,733.32 310.9,732.44 311.2,733.42 311.5,732.46 311.8,733.29 312.1,732.42 312.4,733.48 312.7,732.32 313,733.38 313.3,732.32 313.6,733.34 313.9,732.39 314.2,733.41 314.5,732.34 314.8,733.28 315.1,732.5 315.4,733.45 315.7,732.36 316,733.3 316.3,732.42 316.6,733.35 316.9,732.37 317.2,733.32 317.5,732.33 317.8,733.38 318.1,732.41 318.4,733.52 318.7,732.47 319,733.3 319.3,732.51 319.6,733.52 319.9,732.4 320.2,733.46 320.5,732.48 320.8,733.37 321.1,732.47 321.4,733.31 321.7,732.4 322,733.51 322.3,732.43 322.6,733.29 322.9,732.31 323.2,733.4 323.5,732.36 323.8,733.29 324.1,732.33 324.4,733.41 324.7,732.48 325,733.38 325.3,732.43 325.6,733.51 325.9,732.39 326.2,733.51 326.5,732.29 326.8,733.46 327.1,732.36 327.4,733.39 327.7,732.41 328,733.47 328.3,732.41 328.6,733.49 328.9,732.4 329.2,733.31 329.5,732.33 329.8,733.44 330.1,732.37 330.4,733.4 330.7,732.34 331,733.49 331.3,732.47 331.6,733.48 331.9,732.48 332.2,733.3 332.5,732.48 332.8,733.27 333.1,732.38 333.4,733.4 333.7,732.3 334,733.36 334.3,732.34 334.6,733.47 334.9,732.38 335.2,733.44 335.5,732.3 335.8,733.42 336.1,732.39 336.4,733.48 336.7,732.3 337,733.37 337.3,732.31 337.6,733.42 337.9,732.4 338.2,733.34 338.5,732.34 338.8,733.32 339.1,732.31 339.4,733.28 339.7,732.38 340,733.27 340.3,732.49 340.6,733.41 340.9,732.45 341.2,733.45 341.5,732.28 341.8,733.34 342.1,732.45 342.4,733.48 342.7,732.44 343,733.41 343.3,732.28 343.6,733.3 343.9,732.51 344.2,733.33 344.5,732.31 344.8,733.44 345.1,732.51 345.4,733.51 345.7,732.51 346,733.49 346.3,732.33 346.6,733.42 346.9,732.47 347.2,733.52 347.5,732.51 347.8,733.36 348.1,732.32 348.4,733.3 348.7,732.29 349,733.37 349.3,732.4 349.6,733.39 349.9,732.5 350.2,733.37 350.5,732.45 350.8,733.5 351.1,732.38 351.4,733.32 351.7,732.53 352,733.5 352.3,732.49 352.6,733.42 352.9,732.32 353.2,733.49 353.5,732.28 353.8,733.43 354.1,732.39 354.4,733.5 354.7,732.48 355,733.49 355.3,732.4 355.6,733.32 355.9,732.35 356.2,733.33 356.5,732.44 356.8,733.52 357.1,732.41 357.4,733.35 357.7,732.31 358,733.43 358.3,732.46 358.6,733.48 358.9,732.37 359.2,733.51 359.5,732.4 359.8,733.51 360.1,732.32 360.4,733.43 360.7,732.35 361,733.44 361.3,732.52 361.6,733.28 361.9,732.46 362.2,733.35 362.5,732.31 362.8,733.37 363.1,732.49 363.4,733.35 363.7,732.36 364,733.27 364.3,732.34 364.6,733.28 364.9,732.32 365.2,733.43 365.5,732.41 365.8,733.31 366.1,732.31 366.4,733.34 366.7,732.45 367,733.3 367.3,732.4 367.6,733.49 367.9,732.35 368.2,733.43 368.5,732.44 368.8,733.3 369.1,732.38 369.4,733.46 369.7,732.39 370,733.39 370.3,732.33 370.6,733.29 370.9,732.49 371.2,733.27 371.5,732.36 371.8,733.48 372.1,732.35 372.4,733.4 372.7,732.48 373,733.45 373.3,732.28 373.6,733.36 373.9,732.34 374.2,733.4 374.5,732.42 374.8,733.45 375.1,732.32 375.4,733.43 375.7,732.36 376,733.44 376.3,732.36 376.6,733.32 376.9,732.38 377.2,733.43 377.5,732.29 377.8,733.28 378.1,732.35 378.4,733.46 378.7,732.48 379,733.49 379.3,732.3 379.6,733.47 379.9,732.29 380.2,733.48 380.5,732.41 380.8,733.49 381.1,732.42 381.4,733.31 381.7,732.52 382,733.51 382.3,732.5 382.6,733.41 382.9,732.37 383.2,733.5 383.5,732.3 383.8,733.43 384.1,732.35 384.4,733.47 384.7,732.47 385,733.32 385.3,732.29 385.6,733.35 385.9,732.51 386.2,733.47 386.5,732.52 386.8,733.28 387.1,732.43 387.4,733.46 387.7,732.52 388,733.49 388.3,732.3 388.6,733.34 388.9,732.47 389.2,733.28 389.5,732.43 389.8,733.29 390.1,732.46 390.4,733.35 390.7,732.48 391,733.49 391.3,732.3 391.6,733.47 391.9,732.44 392.2,733.42 392.5,732.48 392.8,733.4 393.1,732.51 393.4,733.47 393.7,732.29 394,733.32 394.3,732.29 394.6,733.39 394.9,732.36 395.2,733.52 395.5,732.48 395.8,733.3 396.1,732.39 396.4,733.5 396.7,732.31 397,733.35 397.3,732.5 397.6,733.5 397.9,732.53 398.2,733.45 398.5,732.51 398.8,733.49 399.1,732.42 399.4,733.5 399.7,732.34 400,733.48 400.3,732.42 400.6,733.33 400.9,732.36 401.2,733.28 401.5,732.49 401.8,733.48 402.1,732.45 402.4,733.35 402.7,732.4 403,733.39 403.3,732.35 403.6,733.45 403.9,732.4 404.2,733.34 404.5,732.3 404.8,733.49 405.1,732.44 405.4,733.31 405.7,732.52 406,733.37 406.3,732.38 406.6,733.36 406.9,732.48 407.2,733.41 407.5,732.36 407.8,733.48 408.1,732.47 408.4,733.5 408.7,732.51 409,733.38 409.3,732.42 409.6,733.29 409.9,732.35 410.2,733.48 410.5,732.29 410.8,733.35 411.1,732.37 411.4,733.35 411.7,732.29 412,733.51 412.3,732.33 412.6,733.39 412.9,732.33 413.2,733.47 413.5,732.36 413.8,733.36 414.1,732.32 414.4,733.32 414.7,732.39 415,733.3 415.3,732.49 415.6,733.4 415.9,732.39 416.2,733.33 416.5,732.39 416.8,733.45 417.1,732.3 417.4,733.38 417.7,732.39 418,733.39 418.3,732.5 418.6,733.47 418.9,732.38 419.2,733.51 419.5,732.52 419.8,733.51 420.1,732.29 420.4,733.47 420.7,732.5 421,733.39 421.3,732.3 421.6,733.3 421.9,732.29 422.2,733.42 422.5,732.52 422.8,733.41 423.1,732.43 423.4,733.4 423.7,732.35 424,733.36 424.3,732.31 424.6,733.5 424.9,732.37 425.2,733.5 425.5,732.48 425.8,733.31 426.1,732.38 426.4,733.47 426.7,732.34 427,733.45 427.3,732.34 427.6,733.29 427.9,732.36 428.2,733.34 428.5,732.45 428.8,733.33 429.1,732.43 429.4,733.35 429.7,732.35 430,733.42 430.3,732.36 430.6,733.33 430.9,732.37 431.2,733.47 431.5,732.53 431.8,733.28 432.1,732.34 432.4,733.35 432.7,732.37 433,733.33 433.3,732.41 433.6,733.47 433.9,732.45" fill="none" stroke="#fb9a2e" stroke-width="0.6" stroke-linejoin="round" />
<line x1="261" y1="498.15" x2="264.3" y2="498.15" stroke="#262626" stroke-width="0.9" />
<text x="256.1" y="501.55" font-size="9.5" fill="#1c1c1c" text-anchor="end" stroke="#1c1c1c" stroke-width="0.2">-10</text>
<line x1="261" y1="492.98" x2="262.7" y2="492.98" stroke="#262626" stroke-width="0.9" />
<line x1="261" y1="487.8" x2="264.3" y2="487.8" stroke="#262626" stroke-width="0.9" />
<text x="256.1" y="491.2" font-size="9.5" fill="#1c1c1c" text-anchor="end" stroke="#1c1c1c" stroke-width="0.2">0</text>
<line x1="261" y1="482.62" x2="262.7" y2="482.62" stroke="#262626" stroke-width="0.9" />
<line x1="261" y1="477.45" x2="264.3" y2="477.45" stroke="#262626" stroke-width="0.9" />
<text x="256.1" y="480.85" font-size="9.5" fill="#1c1c1c" text-anchor="end" stroke="#1c1c1c" stroke-width="0.2">10</text>
<line x1="261" y1="472.28" x2="262.7" y2="472.28" stroke="#262626" stroke-width="0.9" />
<line x1="261" y1="467.1" x2="264.3" y2="467.1" stroke="#262626" stroke-width="0.9" />
<text x="256.1" y="470.5" font-size="9.5" fill="#1c1c1c" text-anchor="end" stroke="#1c1c1c" stroke-width="0.2">20</text>
<line x1="271.55" y1="503.14" x2="271.55" y2="501.34" stroke="#262626" stroke-width="0.9" />
<line x1="282.1" y1="503.14" x2="282.1" y2="499.54" stroke="#262626" stroke-width="0.9" />
<line x1="292.65" y1="503.14" x2="292.65" y2="501.34" stroke="#262626" stroke-width="0.9" />
<line x1="303.2" y1="503.14" x2="303.2" y2="499.54" stroke="#262626" stroke-width="0.9" />
<line x1="313.75" y1="503.14" x2="313.75" y2="501.34" stroke="#262626" stroke-width="0.9" />
<line x1="324.3" y1="503.14" x2="324.3" y2="499.54" stroke="#262626" stroke-width="0.9" />
<line x1="334.85" y1="503.14" x2="334.85" y2="501.34" stroke="#262626" stroke-width="0.9" />
<line x1="345.4" y1="503.14" x2="345.4" y2="499.54" stroke="#262626" stroke-width="0.9" />
<line x1="355.95" y1="503.14" x2="355.95" y2="501.34" stroke="#262626" stroke-width="0.9" />
<line x1="366.5" y1="503.14" x2="366.5" y2="499.54" stroke="#262626" stroke-width="0.9" />
<line x1="377.05" y1="503.14" x2="377.05" y2="501.34" stroke="#262626" stroke-width="0.9" />
<line x1="387.6" y1="503.14" x2="387.6" y2="499.54" stroke="#262626" stroke-width="0.9" />
<line x1="398.15" y1="503.14" x2="398.15" y2="501.34" stroke="#262626" stroke-width="0.9" />
<line x1="408.7" y1="503.14" x2="408.7" y2="499.54" stroke="#262626" stroke-width="0.9" />
<line x1="419.25" y1="503.14" x2="419.25" y2="501.34" stroke="#262626" stroke-width="0.9" />
<line x1="429.8" y1="503.14" x2="429.8" y2="499.54" stroke="#262626" stroke-width="0.9" />
<line x1="440.35" y1="503.14" x2="440.35" y2="501.34" stroke="#262626" stroke-width="0.9" />
<line x1="261" y1="503.14" x2="451" y2="503.14" stroke="#262626" stroke-width="1.2" />
<text x="447.2" y="474.7" font-size="9.7" fill="#26a0b8" text-anchor="end" >Low E string</text>
<line x1="261" y1="539.69" x2="264.3" y2="539.69" stroke="#262626" stroke-width="0.9" />
<text x="256.1" y="543.09" font-size="9.5" fill="#1c1c1c" text-anchor="end" stroke="#1c1c1c" stroke-width="0.2">-10</text>
<line x1="261" y1="534.51" x2="262.7" y2="534.51" stroke="#262626" stroke-width="0.9" />
<line x1="261" y1="529.34" x2="264.3" y2="529.34" stroke="#262626" stroke-width="0.9" />
<text x="256.1" y="532.74" font-size="9.5" fill="#1c1c1c" text-anchor="end" stroke="#1c1c1c" stroke-width="0.2">0</text>
<line x1="261" y1="524.17" x2="262.7" y2="524.17" stroke="#262626" stroke-width="0.9" />
<line x1="261" y1="518.99" x2="264.3" y2="518.99" stroke="#262626" stroke-width="0.9" />
<text x="256.1" y="522.39" font-size="9.5" fill="#1c1c1c" text-anchor="end" stroke="#1c1c1c" stroke-width="0.2">10</text>
<line x1="261" y1="513.82" x2="262.7" y2="513.82" stroke="#262626" stroke-width="0.9" />
<line x1="261" y1="508.64" x2="264.3" y2="508.64" stroke="#262626" stroke-width="0.9" />
<text x="256.1" y="512.04" font-size="9.5" fill="#1c1c1c" text-anchor="end" stroke="#1c1c1c" stroke-width="0.2">20</text>
<line x1="271.55" y1="544.68" x2="271.55" y2="542.88" stroke="#262626" stroke-width="0.9" />
<line x1="282.1" y1="544.68" x2="282.1" y2="541.08" stroke="#262626" stroke-width="0.9" />
<line x1="292.65" y1="544.68" x2="292.65" y2="542.88" stroke="#262626" stroke-width="0.9" />
<line x1="303.2" y1="544.68" x2="303.2" y2="541.08" stroke="#262626" stroke-width="0.9" />
<line x1="313.75" y1="544.68" x2="313.75" y2="542.88" stroke="#262626" stroke-width="0.9" />
<line x1="324.3" y1="544.68" x2="324.3" y2="541.08" stroke="#262626" stroke-width="0.9" />
<line x1="334.85" y1="544.68" x2="334.85" y2="542.88" stroke="#262626" stroke-width="0.9" />
<line x1="345.4" y1="544.68" x2="345.4" y2="541.08" stroke="#262626" stroke-width="0.9" />
<line x1="355.95" y1="544.68" x2="355.95" y2="542.88" stroke="#262626" stroke-width="0.9" />
<line x1="366.5" y1="544.68" x2="366.5" y2="541.08" stroke="#262626" stroke-width="0.9" />
<line x1="377.05" y1="544.68" x2="377.05" y2="542.88" stroke="#262626" stroke-width="0.9" />
<line x1="387.6" y1="544.68" x2="387.6" y2="541.08" stroke="#262626" stroke-width="0.9" />
<line x1="398.15" y1="544.68" x2="398.15" y2="542.88" stroke="#262626" stroke-width="0.9" />
<line x1="408.7" y1="544.68" x2="408.7" y2="541.08" stroke="#262626" stroke-width="0.9" />
<line x1="419.25" y1="544.68" x2="419.25" y2="542.88" stroke="#262626" stroke-width="0.9" />
<line x1="429.8" y1="544.68" x2="429.8" y2="541.08" stroke="#262626" stroke-width="0.9" />
<line x1="440.35" y1="544.68" x2="440.35" y2="542.88" stroke="#262626" stroke-width="0.9" />
<line x1="261" y1="544.68" x2="451" y2="544.68" stroke="#262626" stroke-width="1.2" />
<text x="447.2" y="516.24" font-size="9.7" fill="#2bb9d2" text-anchor="end" >A string</text>
<line x1="261" y1="581.23" x2="264.3" y2="581.23" stroke="#262626" stroke-width="0.9" />
<text x="256.1" y="584.63" font-size="9.5" fill="#1c1c1c" text-anchor="end" stroke="#1c1c1c" stroke-width="0.2">-10</text>
<line x1="261" y1="576.06" x2="262.7" y2="576.06" stroke="#262626" stroke-width="0.9" />
<line x1="261" y1="570.88" x2="264.3" y2="570.88" stroke="#262626" stroke-width="0.9" />
<text x="256.1" y="574.28" font-size="9.5" fill="#1c1c1c" text-anchor="end" stroke="#1c1c1c" stroke-width="0.2">0</text>
<line x1="261" y1="565.71" x2="262.7" y2="565.71" stroke="#262626" stroke-width="0.9" />
<line x1="261" y1="560.53" x2="264.3" y2="560.53" stroke="#262626" stroke-width="0.9" />
<text x="256.1" y="563.93" font-size="9.5" fill="#1c1c1c" text-anchor="end" stroke="#1c1c1c" stroke-width="0.2">10</text>
<line x1="261" y1="555.36" x2="262.7" y2="555.36" stroke="#262626" stroke-width="0.9" />
<line x1="261" y1="550.18" x2="264.3" y2="550.18" stroke="#262626" stroke-width="0.9" />
<text x="256.1" y="553.58" font-size="9.5" fill="#1c1c1c" text-anchor="end" stroke="#1c1c1c" stroke-width="0.2">20</text>
<line x1="271.55" y1="586.22" x2="271.55" y2="584.42" stroke="#262626" stroke-width="0.9" />
<line x1="282.1" y1="586.22" x2="282.1" y2="582.62" stroke="#262626" stroke-width="0.9" />
<line x1="292.65" y1="586.22" x2="292.65" y2="584.42" stroke="#262626" stroke-width="0.9" />
<line x1="303.2" y1="586.22" x2="303.2" y2="582.62" stroke="#262626" stroke-width="0.9" />
<line x1="313.75" y1="586.22" x2="313.75" y2="584.42" stroke="#262626" stroke-width="0.9" />
<line x1="324.3" y1="586.22" x2="324.3" y2="582.62" stroke="#262626" stroke-width="0.9" />
<line x1="334.85" y1="586.22" x2="334.85" y2="584.42" stroke="#262626" stroke-width="0.9" />
<line x1="345.4" y1="586.22" x2="345.4" y2="582.62" stroke="#262626" stroke-width="0.9" />
<line x1="355.95" y1="586.22" x2="355.95" y2="584.42" stroke="#262626" stroke-width="0.9" />
<line x1="366.5" y1="586.22" x2="366.5" y2="582.62" stroke="#262626" stroke-width="0.9" />
<line x1="377.05" y1="586.22" x2="377.05" y2="584.42" stroke="#262626" stroke-width="0.9" />
<line x1="387.6" y1="586.22" x2="387.6" y2="582.62" stroke="#262626" stroke-width="0.9" />
<line x1="398.15" y1="586.22" x2="398.15" y2="584.42" stroke="#262626" stroke-width="0.9" />
<line x1="408.7" y1="586.22" x2="408.7" y2="582.62" stroke="#262626" stroke-width="0.9" />
<line x1="419.25" y1="586.22" x2="419.25" y2="584.42" stroke="#262626" stroke-width="0.9" />
<line x1="429.8" y1="586.22" x2="429.8" y2="582.62" stroke="#262626" stroke-width="0.9" />
<line x1="440.35" y1="586.22" x2="440.35" y2="584.42" stroke="#262626" stroke-width="0.9" />
<line x1="261" y1="586.22" x2="451" y2="586.22" stroke="#262626" stroke-width="1.2" />
<text x="447.2" y="557.78" font-size="9.7" fill="#2cc597" text-anchor="end" >D string</text>
<line x1="261" y1="622.77" x2="264.3" y2="622.77" stroke="#262626" stroke-width="0.9" />
<text x="256.1" y="626.17" font-size="9.5" fill="#1c1c1c" text-anchor="end" stroke="#1c1c1c" stroke-width="0.2">-10</text>
<line x1="261" y1="617.6" x2="262.7" y2="617.6" stroke="#262626" stroke-width="0.9" />
<line x1="261" y1="612.42" x2="264.3" y2="612.42" stroke="#262626" stroke-width="0.9" />
<text x="256.1" y="615.82" font-size="9.5" fill="#1c1c1c" text-anchor="end" stroke="#1c1c1c" stroke-width="0.2">0</text>
<line x1="261" y1="607.25" x2="262.7" y2="607.25" stroke="#262626" stroke-width="0.9" />
<line x1="261" y1="602.07" x2="264.3" y2="602.07" stroke="#262626" stroke-width="0.9" />
<text x="256.1" y="605.47" font-size="9.5" fill="#1c1c1c" text-anchor="end" stroke="#1c1c1c" stroke-width="0.2">10</text>
<line x1="261" y1="596.9" x2="262.7" y2="596.9" stroke="#262626" stroke-width="0.9" />
<line x1="261" y1="591.72" x2="264.3" y2="591.72" stroke="#262626" stroke-width="0.9" />
<text x="256.1" y="595.12" font-size="9.5" fill="#1c1c1c" text-anchor="end" stroke="#1c1c1c" stroke-width="0.2">20</text>
<line x1="271.55" y1="627.76" x2="271.55" y2="625.96" stroke="#262626" stroke-width="0.9" />
<line x1="282.1" y1="627.76" x2="282.1" y2="624.16" stroke="#262626" stroke-width="0.9" />
<line x1="292.65" y1="627.76" x2="292.65" y2="625.96" stroke="#262626" stroke-width="0.9" />
<line x1="303.2" y1="627.76" x2="303.2" y2="624.16" stroke="#262626" stroke-width="0.9" />
<line x1="313.75" y1="627.76" x2="313.75" y2="625.96" stroke="#262626" stroke-width="0.9" />
<line x1="324.3" y1="627.76" x2="324.3" y2="624.16" stroke="#262626" stroke-width="0.9" />
<line x1="334.85" y1="627.76" x2="334.85" y2="625.96" stroke="#262626" stroke-width="0.9" />
<line x1="345.4" y1="627.76" x2="345.4" y2="624.16" stroke="#262626" stroke-width="0.9" />
<line x1="355.95" y1="627.76" x2="355.95" y2="625.96" stroke="#262626" stroke-width="0.9" />
<line x1="366.5" y1="627.76" x2="366.5" y2="624.16" stroke="#262626" stroke-width="0.9" />
<line x1="377.05" y1="627.76" x2="377.05" y2="625.96" stroke="#262626" stroke-width="0.9" />
<line x1="387.6" y1="627.76" x2="387.6" y2="624.16" stroke="#262626" stroke-width="0.9" />
<line x1="398.15" y1="627.76" x2="398.15" y2="625.96" stroke="#262626" stroke-width="0.9" />
<line x1="408.7" y1="627.76" x2="408.7" y2="624.16" stroke="#262626" stroke-width="0.9" />
<line x1="419.25" y1="627.76" x2="419.25" y2="625.96" stroke="#262626" stroke-width="0.9" />
<line x1="429.8" y1="627.76" x2="429.8" y2="624.16" stroke="#262626" stroke-width="0.9" />
<line x1="440.35" y1="627.76" x2="440.35" y2="625.96" stroke="#262626" stroke-width="0.9" />
<line x1="261" y1="627.76" x2="451" y2="627.76" stroke="#262626" stroke-width="1.2" />
<text x="447.2" y="599.32" font-size="9.7" fill="#58d06f" text-anchor="end" >G string</text>
<line x1="261" y1="664.31" x2="264.3" y2="664.31" stroke="#262626" stroke-width="0.9" />
<text x="256.1" y="667.71" font-size="9.5" fill="#1c1c1c" text-anchor="end" stroke="#1c1c1c" stroke-width="0.2">-10</text>
<line x1="261" y1="659.13" x2="262.7" y2="659.13" stroke="#262626" stroke-width="0.9" />
<line x1="261" y1="653.96" x2="264.3" y2="653.96" stroke="#262626" stroke-width="0.9" />
<text x="256.1" y="657.36" font-size="9.5" fill="#1c1c1c" text-anchor="end" stroke="#1c1c1c" stroke-width="0.2">0</text>
<line x1="261" y1="648.79" x2="262.7" y2="648.79" stroke="#262626" stroke-width="0.9" />
<line x1="261" y1="643.61" x2="264.3" y2="643.61" stroke="#262626" stroke-width="0.9" />
<text x="256.1" y="647.01" font-size="9.5" fill="#1c1c1c" text-anchor="end" stroke="#1c1c1c" stroke-width="0.2">10</text>
<line x1="261" y1="638.44" x2="262.7" y2="638.44" stroke="#262626" stroke-width="0.9" />
<line x1="261" y1="633.26" x2="264.3" y2="633.26" stroke="#262626" stroke-width="0.9" />
<text x="256.1" y="636.66" font-size="9.5" fill="#1c1c1c" text-anchor="end" stroke="#1c1c1c" stroke-width="0.2">20</text>
<line x1="271.55" y1="669.3" x2="271.55" y2="667.5" stroke="#262626" stroke-width="0.9" />
<line x1="282.1" y1="669.3" x2="282.1" y2="665.7" stroke="#262626" stroke-width="0.9" />
<line x1="292.65" y1="669.3" x2="292.65" y2="667.5" stroke="#262626" stroke-width="0.9" />
<line x1="303.2" y1="669.3" x2="303.2" y2="665.7" stroke="#262626" stroke-width="0.9" />
<line x1="313.75" y1="669.3" x2="313.75" y2="667.5" stroke="#262626" stroke-width="0.9" />
<line x1="324.3" y1="669.3" x2="324.3" y2="665.7" stroke="#262626" stroke-width="0.9" />
<line x1="334.85" y1="669.3" x2="334.85" y2="667.5" stroke="#262626" stroke-width="0.9" />
<line x1="345.4" y1="669.3" x2="345.4" y2="665.7" stroke="#262626" stroke-width="0.9" />
<line x1="355.95" y1="669.3" x2="355.95" y2="667.5" stroke="#262626" stroke-width="0.9" />
<line x1="366.5" y1="669.3" x2="366.5" y2="665.7" stroke="#262626" stroke-width="0.9" />
<line x1="377.05" y1="669.3" x2="377.05" y2="667.5" stroke="#262626" stroke-width="0.9" />
<line x1="387.6" y1="669.3" x2="387.6" y2="665.7" stroke="#262626" stroke-width="0.9" />
<line x1="398.15" y1="669.3" x2="398.15" y2="667.5" stroke="#262626" stroke-width="0.9" />
<line x1="408.7" y1="669.3" x2="408.7" y2="665.7" stroke="#262626" stroke-width="0.9" />
<line x1="419.25" y1="669.3" x2="419.25" y2="667.5" stroke="#262626" stroke-width="0.9" />
<line x1="429.8" y1="669.3" x2="429.8" y2="665.7" stroke="#262626" stroke-width="0.9" />
<line x1="440.35" y1="669.3" x2="440.35" y2="667.5" stroke="#262626" stroke-width="0.9" />
<line x1="261" y1="669.3" x2="451" y2="669.3" stroke="#262626" stroke-width="1.2" />
<text x="447.2" y="640.86" font-size="9.7" fill="#92d94a" text-anchor="end" >B string</text>
<line x1="261" y1="705.85" x2="264.3" y2="705.85" stroke="#262626" stroke-width="0.9" />
<text x="256.1" y="709.25" font-size="9.5" fill="#1c1c1c" text-anchor="end" stroke="#1c1c1c" stroke-width="0.2">-10</text>
<line x1="261" y1="700.67" x2="262.7" y2="700.67" stroke="#262626" stroke-width="0.9" />
<line x1="261" y1="695.5" x2="264.3" y2="695.5" stroke="#262626" stroke-width="0.9" />
<text x="256.1" y="698.9" font-size="9.5" fill="#1c1c1c" text-anchor="end" stroke="#1c1c1c" stroke-width="0.2">0</text>
<line x1="261" y1="690.33" x2="262.7" y2="690.33" stroke="#262626" stroke-width="0.9" />
<line x1="261" y1="685.15" x2="264.3" y2="685.15" stroke="#262626" stroke-width="0.9" />
<text x="256.1" y="688.55" font-size="9.5" fill="#1c1c1c" text-anchor="end" stroke="#1c1c1c" stroke-width="0.2">10</text>
<line x1="261" y1="679.98" x2="262.7" y2="679.98" stroke="#262626" stroke-width="0.9" />
<line x1="261" y1="674.8" x2="264.3" y2="674.8" stroke="#262626" stroke-width="0.9" />
<text x="256.1" y="678.2" font-size="9.5" fill="#1c1c1c" text-anchor="end" stroke="#1c1c1c" stroke-width="0.2">20</text>
<line x1="271.55" y1="710.84" x2="271.55" y2="709.04" stroke="#262626" stroke-width="0.9" />
<line x1="282.1" y1="710.84" x2="282.1" y2="707.24" stroke="#262626" stroke-width="0.9" />
<line x1="292.65" y1="710.84" x2="292.65" y2="709.04" stroke="#262626" stroke-width="0.9" />
<line x1="303.2" y1="710.84" x2="303.2" y2="707.24" stroke="#262626" stroke-width="0.9" />
<line x1="313.75" y1="710.84" x2="313.75" y2="709.04" stroke="#262626" stroke-width="0.9" />
<line x1="324.3" y1="710.84" x2="324.3" y2="707.24" stroke="#262626" stroke-width="0.9" />
<line x1="334.85" y1="710.84" x2="334.85" y2="709.04" stroke="#262626" stroke-width="0.9" />
<line x1="345.4" y1="710.84" x2="345.4" y2="707.24" stroke="#262626" stroke-width="0.9" />
<line x1="355.95" y1="710.84" x2="355.95" y2="709.04" stroke="#262626" stroke-width="0.9" />
<line x1="366.5" y1="710.84" x2="366.5" y2="707.24" stroke="#262626" stroke-width="0.9" />
<line x1="377.05" y1="710.84" x2="377.05" y2="709.04" stroke="#262626" stroke-width="0.9" />
<line x1="387.6" y1="710.84" x2="387.6" y2="707.24" stroke="#262626" stroke-width="0.9" />
<line x1="398.15" y1="710.84" x2="398.15" y2="709.04" stroke="#262626" stroke-width="0.9" />
<line x1="408.7" y1="710.84" x2="408.7" y2="707.24" stroke="#262626" stroke-width="0.9" />
<line x1="419.25" y1="710.84" x2="419.25" y2="709.04" stroke="#262626" stroke-width="0.9" />
<line x1="429.8" y1="710.84" x2="429.8" y2="707.24" stroke="#262626" stroke-width="0.9" />
<line x1="440.35" y1="710.84" x2="440.35" y2="709.04" stroke="#262626" stroke-width="0.9" />
<line x1="261" y1="710.84" x2="451" y2="710.84" stroke="#262626" stroke-width="1.2" />
<text x="447.2" y="682.4" font-size="9.7" fill="#f8c231" text-anchor="end" >High E string</text>
<line x1="261" y1="747.39" x2="264.3" y2="747.39" stroke="#262626" stroke-width="0.9" />
<text x="256.1" y="750.79" font-size="9.5" fill="#1c1c1c" text-anchor="end" stroke="#1c1c1c" stroke-width="0.2">-10</text>
<line x1="261" y1="742.22" x2="262.7" y2="742.22" stroke="#262626" stroke-width="0.9" />
<line x1="261" y1="737.04" x2="264.3" y2="737.04" stroke="#262626" stroke-width="0.9" />
<text x="256.1" y="740.44" font-size="9.5" fill="#1c1c1c" text-anchor="end" stroke="#1c1c1c" stroke-width="0.2">0</text>
<line x1="261" y1="731.87" x2="262.7" y2="731.87" stroke="#262626" stroke-width="0.9" />
<line x1="261" y1="726.69" x2="264.3" y2="726.69" stroke="#262626" stroke-width="0.9" />
<text x="256.1" y="730.09" font-size="9.5" fill="#1c1c1c" text-anchor="end" stroke="#1c1c1c" stroke-width="0.2">10</text>
<line x1="261" y1="721.52" x2="262.7" y2="721.52" stroke="#262626" stroke-width="0.9" />
<line x1="261" y1="716.34" x2="264.3" y2="716.34" stroke="#262626" stroke-width="0.9" />
<text x="256.1" y="719.74" font-size="9.5" fill="#1c1c1c" text-anchor="end" stroke="#1c1c1c" stroke-width="0.2">20</text>
<line x1="271.55" y1="752.38" x2="271.55" y2="750.58" stroke="#262626" stroke-width="0.9" />
<line x1="282.1" y1="752.38" x2="282.1" y2="748.78" stroke="#262626" stroke-width="0.9" />
<line x1="292.65" y1="752.38" x2="292.65" y2="750.58" stroke="#262626" stroke-width="0.9" />
<line x1="303.2" y1="752.38" x2="303.2" y2="748.78" stroke="#262626" stroke-width="0.9" />
<line x1="313.75" y1="752.38" x2="313.75" y2="750.58" stroke="#262626" stroke-width="0.9" />
<line x1="324.3" y1="752.38" x2="324.3" y2="748.78" stroke="#262626" stroke-width="0.9" />
<line x1="334.85" y1="752.38" x2="334.85" y2="750.58" stroke="#262626" stroke-width="0.9" />
<line x1="345.4" y1="752.38" x2="345.4" y2="748.78" stroke="#262626" stroke-width="0.9" />
<line x1="355.95" y1="752.38" x2="355.95" y2="750.58" stroke="#262626" stroke-width="0.9" />
<line x1="366.5" y1="752.38" x2="366.5" y2="748.78" stroke="#262626" stroke-width="0.9" />
<line x1="377.05" y1="752.38" x2="377.05" y2="750.58" stroke="#262626" stroke-width="0.9" />
<line x1="387.6" y1="752.38" x2="387.6" y2="748.78" stroke="#262626" stroke-width="0.9" />
<line x1="398.15" y1="752.38" x2="398.15" y2="750.58" stroke="#262626" stroke-width="0.9" />
<line x1="408.7" y1="752.38" x2="408.7" y2="748.78" stroke="#262626" stroke-width="0.9" />
<line x1="419.25" y1="752.38" x2="419.25" y2="750.58" stroke="#262626" stroke-width="0.9" />
<line x1="429.8" y1="752.38" x2="429.8" y2="748.78" stroke="#262626" stroke-width="0.9" />
<line x1="440.35" y1="752.38" x2="440.35" y2="750.58" stroke="#262626" stroke-width="0.9" />
<line x1="261" y1="752.38" x2="451" y2="752.38" stroke="#262626" stroke-width="1.2" />
<text x="447.2" y="723.94" font-size="9.7" fill="#f99d3c" text-anchor="end" >Unperturbed State</text>
<line x1="261" y1="461.6" x2="451" y2="461.6" stroke="#555555" stroke-width="1.2" />
<line x1="261" y1="461" x2="261" y2="752.98" stroke="#262626" stroke-width="1.2" />
<line x1="451" y1="461" x2="451" y2="752.98" stroke="#262626" stroke-width="1.2" />
<text x="261" y="764.2" font-size="9.5" fill="#1c1c1c" text-anchor="middle" stroke="#1c1c1c" stroke-width="0.2">-5</text>
<text x="282.1" y="764.2" font-size="9.5" fill="#1c1c1c" text-anchor="middle" stroke="#1c1c1c" stroke-width="0.2">0</text>
<text x="303.2" y="764.2" font-size="9.5" fill="#1c1c1c" text-anchor="middle" stroke="#1c1c1c" stroke-width="0.2">5</text>
<text x="324.3" y="764.2" font-size="9.5" fill="#1c1c1c" text-anchor="middle" stroke="#1c1c1c" stroke-width="0.2">10</text>
<text x="345.4" y="764.2" font-size="9.5" fill="#1c1c1c" text-anchor="middle" stroke="#1c1c1c" stroke-width="0.2">15</text>
<text x="366.5" y="764.2" font-size="9.5" fill="#1c1c1c" text-anchor="middle" stroke="#1c1c1c" stroke-width="0.2">20</text>
<text x="387.6" y="764.2" font-size="9.5" fill="#1c1c1c" text-anchor="middle" stroke="#1c1c1c" stroke-width="0.2">25</text>
<text x="408.7" y="764.2" font-size="9.5" fill="#1c1c1c" text-anchor="middle" stroke="#1c1c1c" stroke-width="0.2">30</text>
<text x="429.8" y="764.2" font-size="9.5" fill="#1c1c1c" text-anchor="middle" stroke="#1c1c1c" stroke-width="0.2">35</text>
<text x="450.9" y="764.2" font-size="9.5" fill="#1c1c1c" text-anchor="middle" stroke="#1c1c1c" stroke-width="0.2">40</text>
<text x="333.1" y="781.6" font-size="12.6" fill="#1c1c1c" text-anchor="start"  stroke="#1c1c1c" stroke-width="0.18">Time (s)</text>
<text transform="translate(237.2,598.7) rotate(-90)" x="0" y="0" font-size="12.6" fill="#1c1c1c" text-anchor="middle" >Voltage (mV)</text>
<text x="230" y="476.6" font-size="16.6" fill="#231f20" text-anchor="start" >e</text>
<polyline points="509.7,479.66 510,487.76 510.3,479.47 510.6,487.97 510.9,479.28 511.2,486.92 511.5,480.52 511.8,487.65 512.1,479.94 512.4,488.03 512.7,480.34 513,487.2 513.3,480.47 513.6,488.88 513.9,479.51 514.2,489.66 514.5,478.89 514.8,488.63 515.1,480.9 515.4,490.01 515.7,479.7 516,489.31 516.3,481.26 516.6,489.33 516.9,480.55 517.2,488.68 517.5,480.46 517.8,488.37 518.1,480.44 518.4,487.82 518.7,479.3 519,488.65 519.3,479.75 519.6,488.6 519.9,479.49 520.2,488.12 520.5,479.63 520.8,486.56 521.1,479.43 521.4,488.01 521.7,480.98 522,487.85 522.3,480.06 522.6,487.23 522.9,480.2 523.2,486.19 523.5,480.78 523.8,486.73 524.1,480.89 524.4,486.93 524.7,480.84 525,486.14 525.3,481.59 525.6,485.82 525.9,481.22 526.2,485.72 526.5,481.12 526.8,486.26 527.1,481.18 527.4,485.63 527.7,480.97 528,486.22 528.3,481.2 528.6,486.22 528.9,481.03 529.2,486.04 529.5,481.48 529.8,485.6 530.1,481.2 530.4,485.78 530.7,481.79 531,486.01 531.3,481.17 531.6,485.92 531.9,481.48 532.2,485.62 532.5,481.97 532.8,486.12 533.1,481.57 533.4,485.44 533.7,481.12 534,485.34 534.3,481.37 534.6,486.11 534.9,481.35 535.2,485.57 535.5,481.28 535.8,485.57 536.1,481.47 536.4,485.64 536.7,481.6 537,485.29 537.3,482.1 537.6,485.49 537.9,481.82 538.2,485.79 538.5,482.02 538.8,485.33 539.1,481.54 539.4,485.92 539.7,481.67 540,485.59 540.3,481.87 540.6,485.9 540.9,481.58 541.2,485.14 541.5,482.19 541.8,485.15 542.1,482.01 542.4,485.32 542.7,482.13 543,485.67 543.3,481.97 543.6,485.74 543.9,482.17 544.2,485.5 544.5,481.8 544.8,485.48 545.1,482.03 545.4,485.03 545.7,482 546,485.35 546.3,481.66 546.6,484.9 546.9,481.93 547.2,485.15 547.5,482.44 547.8,485.26 548.1,481.74 548.4,485.03 548.7,481.87 549,485.39 549.3,481.98 549.6,485.34 549.9,481.98 550.2,485.47 550.5,482.1 550.8,485.23 551.1,482.22 551.4,485.42 551.7,481.74 552,485.47 552.3,482.47 552.6,485.3 552.9,482.12 553.2,485.33 553.5,482.04 553.8,485.21 554.1,481.98 554.4,485.38 554.7,482.36 555,484.83 555.3,482.03 555.6,485.52 555.9,482.37 556.2,485.05 556.5,481.92 556.8,484.91 557.1,482.07 557.4,485.51 557.7,482.3 558,484.85 558.3,481.77 558.6,485.35 558.9,482.25 559.2,485.48 559.5,481.98 559.8,484.85 560.1,482.07 560.4,485.2 560.7,482.05 561,484.91 561.3,481.9 561.6,485.46 561.9,482.26 562.2,485.1 562.5,482.13 562.8,485.49 563.1,482.48 563.4,485.29 563.7,482.35 564,485.03 564.3,482.54 564.6,485.44 564.9,482.38 565.2,485.1 565.5,481.92 565.8,484.82 566.1,482.46 566.4,484.85 566.7,482.51 567,485.01 567.3,482.3 567.6,484.97 567.9,481.91 568.2,485.45 568.5,482.52 568.8,484.94 569.1,482.27 569.4,485.26 569.7,482.28 570,485.45 570.3,482.44 570.6,484.84 570.9,482.43 571.2,485.07 571.5,482.48 571.8,484.74 572.1,482.29 572.4,485.36 572.7,481.89 573,485.2 573.3,482.16 573.6,485.38 573.9,481.9 574.2,484.95 574.5,482.09 574.8,485.33 575.1,482.54 575.4,485.38 575.7,482.6 576,485.34 576.3,482.48 576.6,484.83 576.9,482.26 577.2,485.05 577.5,481.93 577.8,484.76 578.1,482.37 578.4,485.27 578.7,482.56 579,485.16 579.3,482.3 579.6,485.09 579.9,482.46 580.2,485.25 580.5,482.54 580.8,484.79 581.1,482.51 581.4,485.31 581.7,482.26 582,485.19 582.3,481.97 582.6,485.32 582.9,482.18 583.2,484.99 583.5,482.01 583.8,484.75 584.1,482.15 584.4,485.14 584.7,482.11 585,485.2 585.3,482.09 585.6,484.86 585.9,482.2 586.2,484.91 586.5,482.38 586.8,484.96 587.1,482.22 587.4,484.71 587.7,482.23 588,484.75 588.3,482.54 588.6,484.91 588.9,482.4 589.2,484.65 589.5,482.05 589.8,484.69 590.1,482.12 590.4,484.94 590.7,482.6 591,484.8 591.3,482.34 591.6,485.02 591.9,482.31 592.2,485.12 592.5,482.36 592.8,485.26 593.1,482.21 593.4,484.99 593.7,482.49 594,485.25 594.3,482.67 594.6,484.64 594.9,482.32 595.2,484.8 595.5,482.26 595.8,484.87 596.1,482.56 596.4,485.16 596.7,482.6 597,485.11 597.3,482.59 597.6,485.24 597.9,482.51 598.2,485.19 598.5,482.43 598.8,484.91 599.1,482.22 599.4,484.83 599.7,482.65 600,485.1 600.3,482.48 600.6,484.77 600.9,482.15 601.2,485.11 601.5,482.19 601.8,485.03 602.1,482.33 602.4,485.05 602.7,482.39 603,485.11 603.3,482.31 603.6,484.73 603.9,482.63 604.2,485.02 604.5,482.2 604.8,484.96 605.1,482.13 605.4,484.82 605.7,482.19 606,485.02 606.3,482.34 606.6,484.9 606.9,482.49 607.2,484.75 607.5,482.6 607.8,484.79 608.1,482.19 608.4,484.66 608.7,482.41 609,485.09 609.3,482.22 609.6,485.17 609.9,482.34 610.2,484.99 610.5,482.19 610.8,484.78 611.1,482.3 611.4,485.12 611.7,482.61 612,484.88 612.3,482.27 612.6,485.18 612.9,482.39 613.2,484.93 613.5,482.39 613.8,485.08 614.1,482.14 614.4,485.12 614.7,482.7 615,484.65 615.3,482.47 615.6,484.76 615.9,482.66 616.2,484.69 616.5,482.28 616.8,485.14 617.1,482.17 617.4,484.68 617.7,482.12 618,484.84 618.3,482.45 618.6,485.04 618.9,482.19 619.2,484.61 619.5,482.4 619.8,485.01 620.1,482.38 620.4,484.74 620.7,482.25 621,484.96 621.3,482.3 621.6,484.93 621.9,482.29 622.2,485.21 622.5,482.48 622.8,484.72 623.1,482.55 623.4,484.6 623.7,482.49 624,484.95 624.3,482.42 624.6,485.19 624.9,482.67 625.2,485.19 625.5,482.69 625.8,484.87 626.1,482.29 626.4,485.05 626.7,482.29 627,485.1 627.3,482.36 627.6,484.93 627.9,482.21 628.2,484.81 628.5,482.24 628.8,485.13 629.1,482.49 629.4,484.59 629.7,482.37 630,484.63 630.3,482.28 630.6,484.85 630.9,482.16 631.2,484.97 631.5,482.52 631.8,484.65 632.1,482.39 632.4,484.68 632.7,482.13 633,484.7 633.3,482.65 633.6,484.75 633.9,482.27 634.2,485.04 634.5,482.59 634.8,485.02 635.1,482.35 635.4,484.73 635.7,482.3 636,484.85 636.3,482.59 636.6,485.19 636.9,482.31 637.2,484.74 637.5,482.42 637.8,484.88 638.1,482.57 638.4,484.77 638.7,482.28 639,485.1 639.3,482.6 639.6,484.65 639.9,482.24 640.2,484.6 640.5,482.58 640.8,484.62 641.1,482.74 641.4,484.76 641.7,482.22 642,484.76 642.3,482.2 642.6,485.03 642.9,482.32 643.2,484.99 643.5,482.33 643.8,485.15 644.1,482.27 644.4,484.65 644.7,482.25 645,484.98 645.3,482.42 645.6,484.9 645.9,482.63 646.2,484.87 646.5,482.65 646.8,484.72 647.1,482.15 647.4,485.14 647.7,482.54 648,484.8 648.3,482.65 648.6,484.6 648.9,482.54 649.2,485.17 649.5,482.35 649.8,484.9 650.1,482.32 650.4,484.67 650.7,482.4 651,484.81 651.3,482.16 651.6,485.04 651.9,482.21 652.2,484.81 652.5,482.58 652.8,484.74 653.1,482.54 653.4,484.89 653.7,482.52 654,485 654.3,482.69 654.6,484.76 654.9,482.56 655.2,484.82 655.5,482.34 655.8,484.95 656.1,482.18 656.4,484.98 656.7,482.65 657,484.86 657.3,482.63 657.6,484.87 657.9,482.48 658.2,484.57 658.5,482.6 658.8,485 659.1,482.59 659.4,484.95 659.7,482.39 660,484.89 660.3,482.22 660.6,484.76 660.9,482.16 661.2,485.04 661.5,482.35" fill="none" stroke="#1a99ae" stroke-width="0.6" stroke-linejoin="round" />
<polyline points="509.7,517.9 510,533.89 510.3,518.28 510.6,533.26 510.9,518.67 511.2,531.22 511.5,520.82 511.8,531.91 512.1,520.76 512.4,531.03 512.7,520.1 513,530.45 513.3,521.58 513.6,529.55 513.9,521.34 514.2,528.2 514.5,522.24 514.8,528.92 515.1,521.77 515.4,528.84 515.7,522.53 516,528.32 516.3,522.31 516.6,528.98 516.9,521.54 517.2,529.09 517.5,522.14 517.8,527.95 518.1,521.46 518.4,527.6 518.7,522.44 519,528.49 519.3,522.93 519.6,527.63 519.9,521.89 520.2,528.74 520.5,522.05 520.8,527.33 521.1,521.98 521.4,527.94 521.7,522.63 522,527.27 522.3,522.35 522.6,527.78 522.9,522.92 523.2,527.78 523.5,522.71 523.8,527.46 524.1,522.72 524.4,527.37 524.7,522.77 525,527.76 525.3,523.31 525.6,526.87 525.9,522.97 526.2,526.91 526.5,522.9 526.8,527.03 527.1,522.96 527.4,527.75 527.7,523.33 528,526.93 528.3,522.9 528.6,527.3 528.9,523.11 529.2,527.24 529.5,523.19 529.8,527.53 530.1,523.11 530.4,526.7 530.7,522.74 531,527.56 531.3,523.39 531.6,527.29 531.9,523.61 532.2,527.02 532.5,523.35 532.8,527.07 533.1,523.58 533.4,527.16 533.7,523.41 534,526.64 534.3,523.19 534.6,527.15 534.9,523.24 535.2,527.32 535.5,522.91 535.8,527.36 536.1,523.25 536.4,527.14 536.7,523.64 537,527.32 537.3,523.38 537.6,526.74 537.9,523.67 538.2,527.24 538.5,523.77 538.8,527.23 539.1,523.62 539.4,527.38 539.7,523.85 540,526.67 540.3,523.09 540.6,527.01 540.9,523.5 541.2,527.06 541.5,523.74 541.8,526.86 542.1,523.17 542.4,527.11 542.7,523.2 543,526.71 543.3,523.17 543.6,526.85 543.9,523.21 544.2,527.21 544.5,523.42 544.8,527.19 545.1,523.51 545.4,526.48 545.7,523.54 546,526.74 546.3,523.32 546.6,526.82 546.9,523.3 547.2,526.46 547.5,523.97 547.8,527.07 548.1,523.47 548.4,526.55 548.7,523.97 549,526.89 549.3,523.48 549.6,526.4 549.9,523.56 550.2,526.64 550.5,523.81 550.8,526.51 551.1,524.03 551.4,526.83 551.7,523.63 552,526.52 552.3,523.42 552.6,526.4 552.9,523.42 553.2,526.36 553.5,523.86 553.8,526.31 554.1,523.72 554.4,526.82 554.7,523.65 555,526.75 555.3,523.95 555.6,526.44 555.9,523.97 556.2,526.28 556.5,523.59 556.8,526.48 557.1,523.89 557.4,526.5 557.7,523.79 558,526.53 558.3,523.43 558.6,526.4 558.9,523.5 559.2,526.84 559.5,523.52 559.8,526.66 560.1,524.09 560.4,526.35 560.7,524 561,526.75 561.3,523.53 561.6,526.79 561.9,523.83 562.2,526.79 562.5,523.58 562.8,526.53 563.1,524.05 563.4,526.32 563.7,523.52 564,526.96 564.3,523.52 564.6,526.44 564.9,523.9 565.2,526.72 565.5,523.94 565.8,526.84 566.1,524.09 566.4,526.76 566.7,523.99 567,526.88 567.3,523.46 567.6,526.43 567.9,523.69 568.2,526.39 568.5,523.96 568.8,526.31 569.1,524.05 569.4,526.69 569.7,523.53 570,526.62 570.3,524.12 570.6,526.31 570.9,524 571.2,526.7 571.5,523.46 571.8,526.69 572.1,523.54 572.4,526.29 572.7,523.81 573,526.93 573.3,523.8 573.6,526.79 573.9,523.98 574.2,526.74 574.5,523.46 574.8,526.29 575.1,523.76 575.4,526.84 575.7,523.99 576,526.36 576.3,523.54 576.6,526.46 576.9,523.49 577.2,526.61 577.5,523.83 577.8,526.84 578.1,524.09 578.4,526.65 578.7,523.98 579,526.54 579.3,524 579.6,526.4 579.9,523.74 580.2,526.83 580.5,523.49 580.8,526.9 581.1,523.55 581.4,526.81 581.7,523.51 582,526.69 582.3,523.75 582.6,526.76 582.9,524.04 583.2,526.51 583.5,524.01 583.8,526.91 584.1,523.51 584.4,526.25 584.7,523.82 585,526.53 585.3,523.98 585.6,526.28 585.9,523.72 586.2,526.47 586.5,523.7 586.8,526.82 587.1,523.78 587.4,526.88 587.7,523.71 588,526.44 588.3,523.89 588.6,526.84 588.9,523.58 589.2,526.54 589.5,524.02 589.8,526.62 590.1,523.69 590.4,526.28 590.7,523.75 591,526.77 591.3,523.95 591.6,526.51 591.9,523.52 592.2,526.55 592.5,524.14 592.8,526.76 593.1,523.57 593.4,526.52 593.7,523.99 594,526.36 594.3,523.96 594.6,526.51 594.9,523.7 595.2,526.76 595.5,524.02 595.8,526.47 596.1,523.59 596.4,526.26 596.7,523.88 597,526.72 597.3,523.59 597.6,526.85 597.9,523.84 598.2,526.63 598.5,523.61 598.8,526.33 599.1,523.85 599.4,526.51 599.7,523.92 600,526.82 600.3,524.14 600.6,526.48 600.9,523.65 601.2,526.57 601.5,523.49 601.8,526.72 602.1,523.67 602.4,526.47 602.7,523.91 603,526.86 603.3,523.69 603.6,526.57 603.9,523.56 604.2,526.54 604.5,524.12 604.8,526.54 605.1,524.09 605.4,526.53 605.7,523.93 606,526.37 606.3,523.68 606.6,526.59 606.9,523.9 607.2,526.62 607.5,523.71 607.8,526.83 608.1,524.08 608.4,526.61 608.7,523.63 609,526.46 609.3,523.54 609.6,526.49 609.9,523.86 610.2,526.28 610.5,523.56 610.8,526.26 611.1,524.05 611.4,526.8 611.7,523.77 612,526.88 612.3,523.82 612.6,526.45 612.9,523.72 613.2,526.74 613.5,523.66 613.8,526.65 614.1,523.89 614.4,526.89 614.7,524.07 615,526.88 615.3,523.9 615.6,526.27 615.9,523.65 616.2,526.81 616.5,524.08 616.8,526.45 617.1,523.6 617.4,526.86 617.7,524.04 618,526.38 618.3,523.92 618.6,526.81 618.9,524.03 619.2,526.41 619.5,524.18 619.8,526.38 620.1,523.59 620.4,526.82 620.7,523.63 621,526.25 621.3,523.91 621.6,526.53 621.9,523.78 622.2,526.66 622.5,523.9 622.8,526.74 623.1,524.11 623.4,526.83 623.7,523.66 624,526.56 624.3,523.61 624.6,526.26 624.9,523.66 625.2,526.58 625.5,524.2 625.8,526.78 626.1,524 626.4,526.63 626.7,523.87 627,526.4 627.3,523.99 627.6,526.88 627.9,523.69 628.2,526.6 628.5,523.71 628.8,526.52 629.1,524.05 629.4,526.35 629.7,524.16 630,526.88 630.3,523.97 630.6,526.55 630.9,523.71 631.2,526.74 631.5,523.96 631.8,526.74 632.1,524.37 632.4,526.57 632.7,523.88 633,526.86 633.3,523.9 633.6,527.08 633.9,524.26 634.2,526.65 634.5,524.27 634.8,527.17 635.1,524.46 635.4,527.22 635.7,524.39 636,526.99 636.3,524.52 636.6,527.19 636.9,524.76 637.2,527.54 637.5,524.45 637.8,527.75 638.1,524.74 638.4,527.53 638.7,524.72 639,527.69 639.3,524.9 639.6,527.52 639.9,524.81 640.2,527.67 640.5,525.46 640.8,527.68 641.1,525.31 641.4,527.72 641.7,524.99 642,527.71 642.3,525.53 642.6,527.97 642.9,525.35 643.2,527.61 643.5,525.31 643.8,527.77 644.1,525.3 644.4,527.64 644.7,525.5 645,527.5 645.3,525.18 645.6,527.6 645.9,525.38 646.2,527.54 646.5,525.14 646.8,527.82 647.1,525.02 647.4,527.64 647.7,525.05 648,527.52 648.3,524.65 648.6,527.06 648.9,524.48 649.2,527.22 649.5,524.7 649.8,527.28 650.1,524.51 650.4,526.92 650.7,524.56 651,527.22 651.3,524.1 651.6,527.05 651.9,524.45 652.2,526.59 652.5,523.95 652.8,526.47 653.1,523.93 653.4,526.62 653.7,524.16 654,526.54 654.3,524.17 654.6,526.64 654.9,523.87 655.2,526.47 655.5,523.68 655.8,526.64 656.1,523.91 656.4,526.54 656.7,523.68 657,526.71 657.3,524.03 657.6,526.44 657.9,523.76 658.2,526.2 658.5,524.04 658.8,526.46 659.1,523.92 659.4,526.24 659.7,523.89 660,526.52 660.3,523.86 660.6,526.27 660.9,523.94 661.2,526.28 661.5,523.86" fill="none" stroke="#22b8cf" stroke-width="0.6" stroke-linejoin="round" />
<polyline points="509.7,562.44 510,573.36 510.3,562.62 510.6,572.81 510.9,562.81 511.2,571.82 511.5,564.17 511.8,571.18 512.1,563.47 512.4,569.66 512.7,564.26 513,569.26 513.3,564.54 513.6,569.64 513.9,563.86 514.2,569.35 514.5,564 514.8,569.2 515.1,564.54 515.4,568.56 515.7,564.2 516,568.69 516.3,564.08 516.6,568.59 516.9,564.33 517.2,568.55 517.5,565.03 517.8,568.54 518.1,564.4 518.4,568.25 518.7,565.14 519,568.41 519.3,564.55 519.6,568.79 519.9,565.14 520.2,568.82 520.5,565.39 520.8,568.74 521.1,565.18 521.4,568.54 521.7,564.89 522,568.39 522.3,565.22 522.6,567.98 522.9,565.46 523.2,568.44 523.5,565.38 523.8,568.32 524.1,565.33 524.4,568.1 524.7,565.43 525,567.92 525.3,565.39 525.6,568.65 525.9,564.99 526.2,568.22 526.5,565.22 526.8,568.18 527.1,565.2 527.4,568.25 527.7,565.58 528,567.92 528.3,565.45 528.6,568.48 528.9,565.05 529.2,568.25 529.5,565.58 529.8,568.24 530.1,565.39 530.4,568.25 530.7,565.42 531,568 531.3,565.57 531.6,568.42 531.9,565.25 532.2,568.22 532.5,565.13 532.8,568.5 533.1,564.92 533.4,568.43 533.7,565.62 534,568.55 534.3,565.15 534.6,568.26 534.9,565.39 535.2,568.35 535.5,565.54 535.8,568.02 536.1,565.19 536.4,568.41 536.7,565.6 537,568.41 537.3,565.51 537.6,568.51 537.9,565.02 538.2,568 538.5,565.29 538.8,568.25 539.1,565.21 539.4,568.32 539.7,565.52 540,567.98 540.3,565.47 540.6,568.4 540.9,565.24 541.2,568 541.5,565.28 541.8,568.18 542.1,565.27 542.4,567.92 542.7,565.71 543,568.54 543.3,565.67 543.6,568.38 543.9,565.36 544.2,568.37 544.5,565.63 544.8,568.4 545.1,565.79 545.4,568.21 545.7,565.43 546,568.34 546.3,565.84 546.6,568.55 546.9,565.92 547.2,568.37 547.5,566 547.8,568.19 548.1,566.17 548.4,568.5 548.7,566.09 549,568.91 549.3,566.06 549.6,568.64 549.9,565.83 550.2,568.8 550.5,566.36 550.8,568.89 551.1,565.97 551.4,568.81 551.7,566.5 552,568.73 552.3,566.24 552.6,568.78 552.9,566.69 553.2,568.9 553.5,566.51 553.8,568.83 554.1,566.3 554.4,569.14 554.7,566.9 555,569.11 555.3,566.84 555.6,569.19 555.9,566.68 556.2,569.43 556.5,566.5 556.8,569.2 557.1,566.9 557.4,569.46 557.7,566.68 558,569.17 558.3,566.62 558.6,569.04 558.9,566.57 559.2,569.28 559.5,566.72 559.8,569.04 560.1,566.87 560.4,569.36 560.7,566.67 561,569.12 561.3,566.7 561.6,569.25 561.9,566.64 562.2,568.73 562.5,566.35 562.8,568.72 563.1,566.05 563.4,569.1 563.7,566.29 564,568.81 564.3,565.94 564.6,568.58 564.9,566.4 565.2,568.66 565.5,565.78 565.8,568.83 566.1,565.89 566.4,568.71 566.7,565.81 567,568.19 567.3,565.64 567.6,568.56 567.9,565.55 568.2,568.53 568.5,565.93 568.8,567.99 569.1,565.96 569.4,568.37 569.7,565.7 570,568.25 570.3,565.47 570.6,568.39 570.9,565.63 571.2,568.27 571.5,565.71 571.8,567.91 572.1,565.62 572.4,568.03 572.7,565.68 573,568.08 573.3,565.48 573.6,567.75 573.9,565.68 574.2,568.16 574.5,565.81 574.8,568.19 575.1,565.73 575.4,568.07 575.7,565.78 576,567.85 576.3,565.35 576.6,567.95 576.9,565.48 577.2,567.73 577.5,565.68 577.8,568.08 578.1,565.26 578.4,568.23 578.7,565.32 579,567.94 579.3,565.33 579.6,568.06 579.9,565.66 580.2,567.83 580.5,565.27 580.8,567.88 581.1,565.22 581.4,567.81 581.7,565.68 582,567.72 582.3,565.59 582.6,567.7 582.9,565.49 583.2,567.93 583.5,565.6 583.8,568.03 584.1,565.51 584.4,567.88 584.7,565.57 585,567.99 585.3,565.43 585.6,568.09 585.9,565.39 586.2,567.79 586.5,565.55 586.8,568.29 587.1,565.55 587.4,568.26 587.7,565.26 588,567.93 588.3,565.72 588.6,567.86 588.9,565.67 589.2,568.1 589.5,565.62 589.8,568.25 590.1,565.65 590.4,567.97 590.7,565.69 591,568.11 591.3,565.44 591.6,567.78 591.9,565.57 592.2,567.78 592.5,565.61 592.8,567.83 593.1,565.28 593.4,568.12 593.7,565.52 594,567.76 594.3,565.54 594.6,567.71 594.9,565.79 595.2,567.84 595.5,565.66 595.8,568.26 596.1,565.21 596.4,568.26 596.7,565.32 597,568.02 597.3,565.63 597.6,568.2 597.9,565.8 598.2,567.99 598.5,565.73 598.8,568.28 599.1,565.68 599.4,568.19 599.7,565.8 600,567.96 600.3,565.55 600.6,567.99 600.9,565.67 601.2,567.78 601.5,565.46 601.8,568.28 602.1,565.43 602.4,568.29 602.7,565.75 603,568.26 603.3,565.41 603.6,567.92 603.9,565.69 604.2,567.77 604.5,565.7 604.8,568.27 605.1,565.28 605.4,567.89 605.7,565.41 606,567.75 606.3,565.69 606.6,568.03 606.9,565.54 607.2,568.14 607.5,565.38 607.8,568.22 608.1,565.66 608.4,567.8 608.7,565.77 609,567.87 609.3,565.8 609.6,568.26 609.9,565.38 610.2,568.18 610.5,565.47 610.8,568.19 611.1,565.21 611.4,568.07 611.7,565.61 612,568.05 612.3,565.36 612.6,567.78 612.9,565.46 613.2,568.1 613.5,565.22 613.8,568.18 614.1,565.67 614.4,567.96 614.7,565.77 615,567.9 615.3,565.69 615.6,567.76 615.9,565.7 616.2,567.83 616.5,565.79 616.8,567.74 617.1,565.31 617.4,567.87 617.7,565.8 618,567.71 618.3,565.48 618.6,568.19 618.9,565.71 619.2,567.99 619.5,565.66 619.8,567.84 620.1,565.33 620.4,567.67 620.7,565.49 621,567.75 621.3,565.67 621.6,567.8 621.9,565.54 622.2,567.88 622.5,565.71 622.8,567.69 623.1,565.52 623.4,567.82 623.7,565.81 624,567.9 624.3,565.33 624.6,567.74 624.9,565.66 625.2,568.13 625.5,565.5 625.8,568.06 626.1,565.3 626.4,568.24 626.7,565.49 627,568.13 627.3,565.41 627.6,567.75 627.9,565.65 628.2,567.91 628.5,565.35 628.8,567.93 629.1,565.72 629.4,568.09 629.7,565.22 630,567.74 630.3,565.25 630.6,567.74 630.9,565.63 631.2,568.16 631.5,565.39 631.8,568.03 632.1,565.47 632.4,567.88 632.7,565.51 633,567.91 633.3,565.71 633.6,568.14 633.9,565.57 634.2,568.07 634.5,565.43 634.8,567.79 635.1,565.25 635.4,567.7 635.7,565.4 636,567.7 636.3,565.48 636.6,567.88 636.9,565.74 637.2,568.07 637.5,565.5 637.8,567.89 638.1,565.82 638.4,567.87 638.7,565.74 639,567.88 639.3,565.8 639.6,568.02 639.9,565.37 640.2,568.17 640.5,565.78 640.8,567.72 641.1,565.77 641.4,567.94 641.7,565.72 642,568.18 642.3,565.3 642.6,567.66 642.9,565.83 643.2,568.13 643.5,565.74 643.8,568.18 644.1,565.42 644.4,568.03 644.7,565.24 645,568.15 645.3,565.48 645.6,567.95 645.9,565.71 646.2,567.79 646.5,565.65 646.8,567.84 647.1,565.66 647.4,567.67 647.7,565.76 648,567.8 648.3,565.7 648.6,567.92 648.9,565.24 649.2,568.15 649.5,565.51 649.8,567.92 650.1,565.58 650.4,567.88 650.7,565.36 651,567.71 651.3,565.6 651.6,567.91 651.9,565.42 652.2,568.04 652.5,565.47 652.8,567.88 653.1,565.67 653.4,567.97 653.7,565.5 654,567.72 654.3,565.6 654.6,567.78 654.9,565.63 655.2,567.73 655.5,565.67 655.8,567.92 656.1,565.28 656.4,567.69 656.7,565.57 657,568.22 657.3,565.66 657.6,567.74 657.9,565.5 658.2,568.05 658.5,565.43 658.8,568.24 659.1,565.66 659.4,567.68 659.7,565.31 660,568.16 660.3,565.44 660.6,568.05 660.9,565.37 661.2,567.76 661.5,565.56" fill="none" stroke="#22c592" stroke-width="0.6" stroke-linejoin="round" />
<polyline points="509.7,605.28 510,611.32 510.3,604.81 510.6,611.4 510.9,604.33 511.2,610.61 511.5,604.14 511.8,610.45 512.1,603.5 512.4,610.34 512.7,604.98 513,610.9 513.3,603.71 513.6,611.05 513.9,602.78 514.2,611.18 514.5,604.76 514.8,611.57 515.1,605.52 515.4,611.51 515.7,605.43 516,610.56 516.3,605.61 516.6,610.18 516.9,605.61 517.2,610.33 517.5,605.4 517.8,610.32 518.1,605.54 518.4,610.45 518.7,606.27 519,611.04 519.3,605.31 519.6,610.08 519.9,605.42 520.2,610.81 520.5,605.86 520.8,609.97 521.1,606.32 521.4,610.5 521.7,606.42 522,610.7 522.3,606.22 522.6,609.85 522.9,605.84 523.2,609.99 523.5,606.74 523.8,610.25 524.1,606.26 524.4,609.85 524.7,606.49 525,610.27 525.3,606.08 525.6,610.33 525.9,606.45 526.2,610.45 526.5,606.25 526.8,609.73 527.1,606.13 527.4,610.54 527.7,606.55 528,610 528.3,606.78 528.6,610.12 528.9,606.45 529.2,610.18 529.5,606.35 529.8,610.32 530.1,606.06 530.4,609.86 530.7,606.67 531,609.79 531.3,606.96 531.6,610.23 531.9,606.92 532.2,610.34 532.5,606.75 532.8,610.43 533.1,606.74 533.4,610.15 533.7,606.43 534,610.38 534.3,606.95 534.6,610.35 534.9,606.71 535.2,610.06 535.5,606.81 535.8,610.15 536.1,606.73 536.4,609.77 536.7,606.89 537,610.12 537.3,607 537.6,610.1 537.9,606.69 538.2,609.9 538.5,606.78 538.8,610.32 539.1,607.05 539.4,609.88 539.7,606.54 540,610.16 540.3,607.02 540.6,610.3 540.9,607.06 541.2,609.68 541.5,606.74 541.8,610.25 542.1,606.62 542.4,609.76 542.7,607.33 543,609.98 543.3,607.1 543.6,609.65 543.9,606.89 544.2,610.02 544.5,606.95 544.8,609.64 545.1,606.9 545.4,609.62 545.7,607.11 546,609.88 546.3,607.3 546.6,609.99 546.9,606.73 547.2,610.14 547.5,607.39 547.8,610.16 548.1,607.07 548.4,609.75 548.7,607.36 549,609.82 549.3,606.94 549.6,609.62 549.9,606.91 550.2,609.89 550.5,607.06 550.8,609.73 551.1,607.09 551.4,610.25 551.7,607.48 552,609.93 552.3,607.11 552.6,610.16 552.9,607.08 553.2,609.66 553.5,607.21 553.8,610.24 554.1,607.49 554.4,610.36 554.7,607.34 555,609.99 555.3,606.91 555.6,610.03 555.9,607.21 556.2,610.08 556.5,607.47 556.8,609.97 557.1,607.55 557.4,610.28 557.7,607.15 558,610.28 558.3,607.56 558.6,609.8 558.9,607.16 559.2,610.3 559.5,607.34 559.8,610.39 560.1,607.36 560.4,610.2 560.7,607.41 561,610.25 561.3,607.32 561.6,610.07 561.9,607.57 562.2,610.26 562.5,607.17 562.8,609.9 563.1,607.54 563.4,610.09 563.7,607.02 564,609.95 564.3,607 564.6,609.91 564.9,607.45 565.2,610.05 565.5,607.53 565.8,610.14 566.1,607.14 566.4,609.84 566.7,607.16 567,609.9 567.3,607.21 567.6,610.52 567.9,607.44 568.2,610.39 568.5,607.2 568.8,609.96 569.1,607.13 569.4,610.07 569.7,607.45 570,609.89 570.3,607.44 570.6,610.37 570.9,607.3 571.2,610.4 571.5,607.33 571.8,609.89 572.1,607.15 572.4,610.17 572.7,607.33 573,610.22 573.3,607.73 573.6,610 573.9,607.28 574.2,610.22 574.5,607.49 574.8,610.01 575.1,607.47 575.4,610.16 575.7,607.76 576,610.5 576.3,607.73 576.6,610.53 576.9,607.66 577.2,610.13 577.5,607.65 577.8,610.13 578.1,607.77 578.4,610.5 578.7,607.41 579,610.18 579.3,607.69 579.6,610.45 579.9,607.33 580.2,610.3 580.5,607.49 580.8,610.57 581.1,607.36 581.4,610.58 581.7,607.78 582,610.33 582.3,607.51 582.6,610.08 582.9,607.67 583.2,610.06 583.5,607.85 583.8,610.62 584.1,607.5 584.4,610.72 584.7,607.49 585,610.53 585.3,607.74 585.6,610.17 585.9,607.69 586.2,610.7 586.5,607.54 586.8,610.26 587.1,607.76 587.4,610.22 587.7,607.41 588,610.29 588.3,607.54 588.6,610.2 588.9,607.57 589.2,610.44 589.5,607.86 589.8,610.22 590.1,607.5 590.4,610.6 590.7,607.89 591,610.32 591.3,607.86 591.6,610.75 591.9,608.11 592.2,610.68 592.5,607.91 592.8,610.2 593.1,607.63 593.4,610.37 593.7,607.75 594,610.54 594.3,608.02 594.6,610.25 594.9,607.77 595.2,610.71 595.5,607.76 595.8,610.41 596.1,607.54 596.4,610.57 596.7,607.89 597,610.42 597.3,608.07 597.6,610.73 597.9,607.84 598.2,610.61 598.5,607.73 598.8,610.42 599.1,607.97 599.4,610.51 599.7,607.68 600,610.64 600.3,608.11 600.6,610.3 600.9,608.26 601.2,610.85 601.5,607.92 601.8,610.59 602.1,608.14 602.4,610.51 602.7,607.67 603,610.88 603.3,608.28 603.6,610.43 603.9,608.09 604.2,610.44 604.5,607.89 604.8,610.51 605.1,608.09 605.4,610.33 605.7,607.94 606,610.61 606.3,608.01 606.6,610.5 606.9,606.96 607.2,609.55 607.5,606.97 607.8,609.43 608.1,606.81 608.4,609.42 608.7,606.92 609,609.79 609.3,606.76 609.6,609.85 609.9,606.93 610.2,609.57 610.5,607.05 610.8,609.5 611.1,607.21 611.4,609.88 611.7,607.04 612,609.29 612.3,607.04 612.6,609.39 612.9,607.01 613.2,609.29 613.5,607.15 613.8,609.34 614.1,606.79 614.4,609.54 614.7,607.23 615,609.88 615.3,606.69 615.6,609.8 615.9,606.87 616.2,609.78 616.5,606.96 616.8,609.84 617.1,607.3 617.4,609.74 617.7,607.22 618,609.72 618.3,607.13 618.6,609.84 618.9,607.18 619.2,609.47 619.5,606.76 619.8,609.78 620.1,606.97 620.4,609.82 620.7,606.96 621,609.43 621.3,607.09 621.6,609.7 621.9,607.07 622.2,609.79 622.5,606.96 622.8,609.61 623.1,607.17 623.4,609.27 623.7,606.77 624,609.53 624.3,606.87 624.6,609.61 624.9,607.14 625.2,609.52 625.5,606.97 625.8,609.54 626.1,606.83 626.4,609.32 626.7,607.26 627,609.78 627.3,607.09 627.6,609.59 627.9,607.27 628.2,609.5 628.5,607.11 628.8,609.43 629.1,607.32 629.4,609.74 629.7,607.07 630,609.8 630.3,607.16 630.6,609.38 630.9,607.25 631.2,609.46 631.5,607.07 631.8,609.66 632.1,606.71 632.4,609.24 632.7,606.92 633,609.42 633.3,606.8 633.6,609.7 633.9,606.77 634.2,609.43 634.5,607.29 634.8,609.54 635.1,607.06 635.4,609.36 635.7,607.26 636,609.46 636.3,606.95 636.6,609.23 636.9,607.21 637.2,609.83 637.5,607.33 637.8,609.31 638.1,606.75 638.4,609.47 638.7,606.78 639,609.54 639.3,607.04 639.6,609.3 639.9,606.88 640.2,609.25 640.5,607.11 640.8,609.59 641.1,607.3 641.4,609.54 641.7,607.06 642,609.47 642.3,606.74 642.6,609.73 642.9,606.76 643.2,609.4 643.5,606.79 643.8,609.34 644.1,606.92 644.4,609.73 644.7,606.95 645,609.43 645.3,607.08 645.6,609.74 645.9,606.98 646.2,609.54 646.5,606.81 646.8,609.76 647.1,607.03 647.4,609.79 647.7,607.13 648,609.21 648.3,607.1 648.6,609.21 648.9,607.23 649.2,609.46 649.5,606.86 649.8,609.68 650.1,607.07 650.4,609.64 650.7,606.98 651,609.39 651.3,607.07 651.6,609.54 651.9,607.06 652.2,609.3 652.5,606.96 652.8,609.46 653.1,607.08 653.4,609.27 653.7,607.35 654,609.65 654.3,607.18 654.6,609.35 654.9,607.03 655.2,609.27 655.5,606.78 655.8,609.74 656.1,607.02 656.4,609.67 656.7,607.02 657,609.73 657.3,607.05 657.6,609.48 657.9,607.22 658.2,609.27 658.5,607.1 658.8,609.44 659.1,607.17 659.4,609.29 659.7,606.9 660,609.56 660.3,606.97 660.6,609.31 660.9,606.81 661.2,609.76 661.5,607.28" fill="none" stroke="#4fcf65" stroke-width="0.6" stroke-linejoin="round" />
<polyline points="509.7,645.42 510,654.21 510.3,645.43 510.6,654.2 510.9,645.44 511.2,653 511.5,646.94 511.8,652.94 512.1,645.89 512.4,653.14 512.7,645.89 513,653.22 513.3,645.66 513.6,653.11 513.9,645.76 514.2,654.08 514.5,646.75 514.8,652.89 515.1,646.24 515.4,653.53 515.7,646.36 516,654.04 516.3,646.18 516.6,653.74 516.9,647.16 517.2,652.71 517.5,646.84 517.8,652.85 518.1,646.77 518.4,653.52 518.7,646.39 519,653.07 519.3,646.48 519.6,653.4 519.9,645.99 520.2,653.59 520.5,647 520.8,653.63 521.1,646.67 521.4,652.64 521.7,645.65 522,652.47 522.3,646.42 522.6,652.63 522.9,646.58 523.2,653.72 523.5,647.05 523.8,653.94 524.1,645.85 524.4,653.29 524.7,646.58 525,652.99 525.3,645.71 525.6,653.25 525.9,646.74 526.2,653.61 526.5,646.19 526.8,652.42 527.1,646.15 527.4,653.17 527.7,646.28 528,652.45 528.3,646.87 528.6,652.6 528.9,646.26 529.2,653.43 529.5,647.05 529.8,652.94 530.1,646.36 530.4,653.54 530.7,646.06 531,652.54 531.3,647.41 531.6,653.21 531.9,646.2 532.2,653.1 532.5,647.33 532.8,653.02 533.1,647.24 533.4,652.74 533.7,646.49 534,652.36 534.3,646.36 534.6,652.35 534.9,647.22 535.2,652.21 535.5,647.21 535.8,652.15 536.1,647.31 536.4,652.04 536.7,646.74 537,652.98 537.3,647.17 537.6,653.37 537.9,647.57 538.2,652.06 538.5,646.65 538.8,652.25 539.1,647.34 539.4,652.91 539.7,647.6 540,652.56 540.3,646.98 540.6,652.19 540.9,647.64 541.2,652.82 541.5,647.27 541.8,652.96 542.1,647.72 542.4,652.18 542.7,646.87 543,652.66 543.3,647.66 543.6,652.7 543.9,646.82 544.2,652.61 544.5,647.43 544.8,652.81 545.1,646.69 545.4,652.17 545.7,647.56 546,652.16 546.3,647.83 546.6,652.66 546.9,647.28 547.2,652.52 547.5,647.58 547.8,652.03 548.1,647.49 548.4,652.69 548.7,646.99 549,651.73 549.3,647.22 549.6,652.23 549.9,647.42 550.2,651.58 550.5,647.43 550.8,651.55 551.1,647.75 551.4,652.44 551.7,647.56 552,651.84 552.3,647.66 552.6,651.89 552.9,647.63 553.2,651.54 553.5,647.32 553.8,651.94 554.1,647.74 554.4,651.44 554.7,648.15 555,652.17 555.3,647.73 555.6,651.87 555.9,647.72 556.2,651.21 556.5,647.83 556.8,651.41 557.1,648.23 557.4,651.77 557.7,647.69 558,652.01 558.3,648.43 558.6,651.72 558.9,648.23 559.2,651.54 559.5,648.26 559.8,651.62 560.1,648.17 560.4,651.52 560.7,647.83 561,651.36 561.3,648.1 561.6,651.26 561.9,647.97 562.2,651.59 562.5,648.06 562.8,651.51 563.1,648.25 563.4,651.11 563.7,648.46 564,650.99 564.3,648.15 564.6,651.38 564.9,648.2 565.2,651.39 565.5,648.48 565.8,651.34 566.1,648.24 566.4,651.46 566.7,648.13 567,651.27 567.3,648.38 567.6,651.26 567.9,648.74 568.2,651.47 568.5,648.29 568.8,651.46 569.1,648.72 569.4,651.42 569.7,648.3 570,651.49 570.3,648.85 570.6,651.44 570.9,648.68 571.2,651.24 571.5,648.97 571.8,651.77 572.1,648.98 572.4,651.57 572.7,649.24 573,651.73 573.3,649.13 573.6,651.81 573.9,649.12 574.2,651.8 574.5,649.32 574.8,651.82 575.1,649.35 575.4,651.91 575.7,649.73 576,652.08 576.3,649.48 576.6,652.26 576.9,649.64 577.2,652.5 577.5,649.94 577.8,652.6 578.1,649.62 578.4,652.42 578.7,649.46 579,652.57 579.3,649.66 579.6,652.82 579.9,649.94 580.2,652.69 580.5,649.6 580.8,652.27 581.1,649.71 581.4,652.45 581.7,650.03 582,652.75 582.3,649.97 582.6,652.22 582.9,649.85 583.2,652.4 583.5,649.87 583.8,652.07 584.1,649.44 584.4,652.29 584.7,649.78 585,652.43 585.3,649.75 585.6,651.86 585.9,649.52 586.2,652.28 586.5,649.08 586.8,651.87 587.1,648.9 587.4,651.55 587.7,648.75 588,651.58 588.3,648.87 588.6,651.42 588.9,648.95 589.2,651.45 589.5,648.84 589.8,651.59 590.1,648.53 590.4,651.46 590.7,648.95 591,651.31 591.3,648.54 591.6,651.15 591.9,648.61 592.2,651.17 592.5,648.47 592.8,651.07 593.1,648.48 593.4,651.11 593.7,648.82 594,650.98 594.3,648.55 594.6,651.31 594.9,648.47 595.2,650.85 595.5,648.66 595.8,650.85 596.1,648.42 596.4,651.2 596.7,648.84 597,651.05 597.3,648.62 597.6,650.85 597.9,648.64 598.2,651.29 598.5,648.81 598.8,650.83 599.1,648.23 599.4,651.26 599.7,648.21 600,651.12 600.3,648.74 600.6,651.32 600.9,648.7 601.2,650.94 601.5,648.35 601.8,651.44 602.1,648.77 602.4,651.17 602.7,648.6 603,651.04 603.3,648.83 603.6,650.97 603.9,648.52 604.2,650.84 604.5,648.22 604.8,650.89 605.1,648.3 605.4,651.03 605.7,648.72 606,651.27 606.3,648.23 606.6,650.92 606.9,648.24 607.2,651.3 607.5,648.36 607.8,650.82 608.1,648.75 608.4,651.07 608.7,648.68 609,651.17 609.3,648.82 609.6,650.96 609.9,648.26 610.2,650.95 610.5,648.41 610.8,651.33 611.1,648.3 611.4,650.94 611.7,648.47 612,651.05 612.3,648.41 612.6,651.11 612.9,648.3 613.2,651.05 613.5,648.63 613.8,651.06 614.1,648.58 614.4,651.25 614.7,648.67 615,650.86 615.3,648.84 615.6,651.38 615.9,648.84 616.2,651.12 616.5,648.23 616.8,651.16 617.1,648.64 617.4,651.2 617.7,648.82 618,650.96 618.3,648.63 618.6,650.87 618.9,648.71 619.2,651.37 619.5,648.81 619.8,651.41 620.1,648.4 620.4,650.79 620.7,648.28 621,650.89 621.3,648.61 621.6,651.37 621.9,648.53 622.2,651.11 622.5,648.58 622.8,650.86 623.1,648.45 623.4,651.23 623.7,648.77 624,650.82 624.3,648.48 624.6,651.23 624.9,648.39 625.2,650.94 625.5,648.85 625.8,651.09 626.1,648.77 626.4,650.92 626.7,648.86 627,650.98 627.3,648.34 627.6,651.17 627.9,648.51 628.2,650.98 628.5,648.65 628.8,651.2 629.1,648.59 629.4,650.78 629.7,648.25 630,651.04 630.3,648.74 630.6,650.95 630.9,648.46 631.2,651.09 631.5,648.31 631.8,651.23 632.1,648.75 632.4,650.82 632.7,648.52 633,651.05 633.3,648.79 633.6,650.91 633.9,648.35 634.2,651.02 634.5,648.82 634.8,650.94 635.1,648.56 635.4,651.13 635.7,648.33 636,651.03 636.3,648.49 636.6,651.03 636.9,648.41 637.2,651.34 637.5,648.62 637.8,650.84 638.1,648.31 638.4,651.23 638.7,648.83 639,651.19 639.3,648.88 639.6,651 639.9,648.6 640.2,650.94 640.5,648.46 640.8,651.08 641.1,648.51 641.4,650.97 641.7,648.86 642,651.21 642.3,648.79 642.6,651.03 642.9,648.49 643.2,650.75 643.5,648.66 643.8,650.81 644.1,648.84 644.4,651.2 644.7,648.63 645,650.89 645.3,648.83 645.6,651.17 645.9,648.83 646.2,651.32 646.5,648.53 646.8,650.85 647.1,648.78 647.4,651.32 647.7,648.86 648,650.96 648.3,648.78 648.6,650.97 648.9,648.45 649.2,651.31 649.5,648.33 649.8,651.31 650.1,648.38 650.4,650.98 650.7,648.43 651,651.1 651.3,648.39 651.6,650.82 651.9,648.41 652.2,651.25 652.5,648.83 652.8,651.02 653.1,648.42 653.4,650.73 653.7,648.71 654,650.82 654.3,648.37 654.6,651.18 654.9,648.56 655.2,650.97 655.5,648.45 655.8,651.24 656.1,648.39 656.4,650.73 656.7,648.87 657,651.21 657.3,648.36 657.6,650.83 657.9,648.43 658.2,650.9 658.5,648.39 658.8,651.15 659.1,648.49 659.4,651.17 659.7,648.34 660,651.17 660.3,648.33 660.6,651.1 660.9,648.83 661.2,651.3 661.5,648.78" fill="none" stroke="#8edb3a" stroke-width="0.6" stroke-linejoin="round" />
<polyline points="509.7,688.76 510,693.96 510.3,688.77 510.6,693.95 510.9,688.78 511.2,692.93 511.5,689.54 511.8,693.68 512.1,689.59 512.4,693.24 512.7,689.12 513,693.66 513.3,688.92 513.6,693.89 513.9,688.95 514.2,692.97 514.5,689.22 514.8,692.96 515.1,689.43 515.4,693.35 515.7,688.88 516,693.86 516.3,689.57 516.6,693.44 516.9,689.13 517.2,693.04 517.5,689.61 517.8,693.5 518.1,689.3 518.4,692.94 518.7,689.52 519,693.26 519.3,689.44 519.6,693.79 519.9,689.4 520.2,693.24 520.5,689.12 520.8,693.04 521.1,689.72 521.4,693.7 521.7,689.55 522,692.94 522.3,689.5 522.6,693.6 522.9,689.71 523.2,693.3 523.5,689.19 523.8,693.4 524.1,689.77 524.4,693.11 524.7,689.61 525,692.57 525.3,690.24 525.6,693.07 525.9,690.16 526.2,692.79 526.5,689.99 526.8,692.88 527.1,690.03 527.4,692.88 527.7,690.31 528,692.33 528.3,690.28 528.6,692.5 528.9,689.97 529.2,692.84 529.5,690.34 529.8,692.65 530.1,690.11 530.4,692.63 530.7,690.1 531,692.72 531.3,689.86 531.6,692.45 531.9,690.09 532.2,692.59 532.5,690.32 532.8,692.86 533.1,690.08 533.4,692.32 533.7,690.35 534,692.86 534.3,689.89 534.6,692.5 534.9,690.13 535.2,692.54 535.5,689.95 535.8,692.88 536.1,689.89 536.4,692.41 536.7,689.83 537,692.45 537.3,689.8 537.6,692.37 537.9,690.11 538.2,692.88 538.5,689.96 538.8,692.75 539.1,690.12 539.4,692.59 539.7,689.85 540,692.65 540.3,690.1 540.6,692.65 540.9,690.4 541.2,692.42 541.5,689.83 541.8,692.94 542.1,689.94 542.4,692.73 542.7,690.2 543,692.69 543.3,689.87 543.6,692.33 543.9,690.41 544.2,692.93 544.5,690.26 544.8,692.47 545.1,689.87 545.4,692.38 545.7,690.4 546,692.92 546.3,689.9 546.6,692.43 546.9,690.12 547.2,692.43 547.5,690.19 547.8,692.76 548.1,690.31 548.4,693.03 548.7,690.19 549,692.79 549.3,690.47 549.6,692.69 549.9,690.41 550.2,692.86 550.5,690.36 550.8,692.78 551.1,690.47 551.4,693.2 551.7,690.71 552,693.24 552.3,690.62 552.6,693.12 552.9,690.57 553.2,693.3 553.5,690.4 553.8,693.14 554.1,690.57 554.4,692.91 554.7,690.6 555,693.42 555.3,690.67 555.6,693.47 555.9,690.77 556.2,693.49 556.5,690.78 556.8,693.6 557.1,690.81 557.4,693.35 557.7,691.23 558,693.68 558.3,690.8 558.6,693.35 558.9,690.86 559.2,693.48 559.5,691.05 559.8,693.66 560.1,691.13 560.4,693.66 560.7,691.09 561,693.32 561.3,691.21 561.6,693.67 561.9,690.79 562.2,693.66 562.5,690.83 562.8,693.56 563.1,691.29 563.4,693.48 563.7,690.88 564,693.22 564.3,690.84 564.6,693.32 564.9,690.88 565.2,693.18 565.5,690.54 565.8,693.22 566.1,690.85 566.4,693.11 566.7,690.45 567,692.88 567.3,690.51 567.6,693.02 567.9,690.35 568.2,693.3 568.5,690.38 568.8,693.15 569.1,690.31 569.4,693.18 569.7,690.17 570,692.89 570.3,690.37 570.6,692.67 570.9,690.4 571.2,693.07 571.5,690.04 571.8,692.67 572.1,690.42 572.4,692.57 572.7,690.2 573,692.8 573.3,690.21 573.6,692.9 573.9,690.45 574.2,692.84 574.5,690.32 574.8,692.57 575.1,690.1 575.4,692.53 575.7,690.26 576,692.69 576.3,690.12 576.6,692.48 576.9,690.01 577.2,692.47 577.5,689.86 577.8,692.29 578.1,690.13 578.4,692.65 578.7,689.98 579,692.79 579.3,690.22 579.6,692.58 579.9,689.86 580.2,692.4 580.5,690.02 580.8,692.7 581.1,689.92 581.4,692.47 581.7,690.15 582,692.84 582.3,690.37 582.6,692.63 582.9,690.2 583.2,692.42 583.5,690.08 583.8,692.55 584.1,690.26 584.4,692.59 584.7,690.27 585,692.57 585.3,689.92 585.6,692.46 585.9,689.88 586.2,692.52 586.5,689.94 586.8,692.59 587.1,689.98 587.4,692.44 587.7,690.42 588,692.67 588.3,689.87 588.6,692.51 588.9,689.89 589.2,692.39 589.5,690 589.8,692.61 590.1,690.07 590.4,692.73 590.7,690.1 591,692.59 591.3,690.14 591.6,692.84 591.9,689.93 592.2,692.46 592.5,690.4 592.8,692.76 593.1,690.35 593.4,692.51 593.7,690.24 594,692.68 594.3,690.1 594.6,692.36 594.9,689.99 595.2,692.67 595.5,690.22 595.8,692.57 596.1,690.39 596.4,692.35 596.7,690.46 597,692.53 597.3,690.35 597.6,692.34 597.9,690.29 598.2,692.36 598.5,690.03 598.8,692.85 599.1,690.03 599.4,692.46 599.7,690.39 600,692.26 600.3,690 600.6,692.73 600.9,690.14 601.2,692.76 601.5,690.08 601.8,692.43 602.1,690.4 602.4,692.57 602.7,690.17 603,692.79 603.3,690.47 603.6,692.77 603.9,690.09 604.2,692.83 604.5,689.99 604.8,692.63 605.1,689.96 605.4,692.66 605.7,690.01 606,692.59 606.3,689.92 606.6,692.73 606.9,690.1 607.2,692.66 607.5,690.11 607.8,692.45 608.1,689.92 608.4,692.41 608.7,690.02 609,692.71 609.3,690.09 609.6,692.53 609.9,690.46 610.2,692.25 610.5,690.22 610.8,692.41 611.1,689.93 611.4,692.67 611.7,690.1 612,692.26 612.3,690.43 612.6,692.76 612.9,690.27 613.2,692.35 613.5,690.1 613.8,692.58 614.1,689.89 614.4,692.51 614.7,690.35 615,692.33 615.3,690.03 615.6,692.67 615.9,690.04 616.2,692.65 616.5,690.22 616.8,692.41 617.1,689.94 617.4,692.55 617.7,690.35 618,692.78 618.3,690.23 618.6,692.44 618.9,690.42 619.2,692.77 619.5,690.08 619.8,692.58 620.1,690.36 620.4,692.49 620.7,690.27 621,692.4 621.3,690.31 621.6,692.26 621.9,689.94 622.2,692.44 622.5,690.21 622.8,692.47 623.1,690.23 623.4,692.58 623.7,690.39 624,692.71 624.3,690.44 624.6,692.31 624.9,690.18 625.2,692.42 625.5,690.11 625.8,692.37 626.1,690.01 626.4,692.69 626.7,690 627,692.66 627.3,690.33 627.6,692.79 627.9,690.26 628.2,692.57 628.5,689.94 628.8,692.69 629.1,690.1 629.4,692.38 629.7,690.47 630,692.78 630.3,690.17 630.6,692.75 630.9,689.92 631.2,692.62 631.5,690.13 631.8,692.37 632.1,689.95 632.4,692.24 632.7,690.43 633,692.47 633.3,690.11 633.6,692.65 633.9,690.3 634.2,692.27 634.5,690.17 634.8,692.71 635.1,690.05 635.4,692.31 635.7,690.33 636,692.52 636.3,690.33 636.6,692.57 636.9,690.45 637.2,692.79 637.5,690.04 637.8,692.75 638.1,690.05 638.4,692.35 638.7,690.32 639,692.36 639.3,690.1 639.6,692.53 639.9,690.18 640.2,692.25 640.5,690.26 640.8,692.75 641.1,689.98 641.4,692.61 641.7,690.12 642,692.74 642.3,690.07 642.6,692.45 642.9,690.17 643.2,692.61 643.5,690.34 643.8,692.29 644.1,690.36 644.4,692.6 644.7,690.3 645,692.35 645.3,689.98 645.6,692.77 645.9,690.17 646.2,692.68 646.5,690.05 646.8,692.34 647.1,690.37 647.4,692.55 647.7,690.07 648,692.52 648.3,689.95 648.6,692.53 648.9,690.09 649.2,692.31 649.5,689.96 649.8,692.46 650.1,690.27 650.4,692.7 650.7,690.27 651,692.71 651.3,690.26 651.6,692.32 651.9,689.98 652.2,692.4 652.5,690.09 652.8,692.49 653.1,690.47 653.4,692.35 653.7,690.23 654,692.5 654.3,690.47 654.6,692.27 654.9,690.05 655.2,692.39 655.5,689.96 655.8,692.32 656.1,690.43 656.4,692.61 656.7,690.21 657,692.46 657.3,690.16 657.6,692.5 657.9,690.07 658.2,692.36 658.5,690.22 658.8,692.66 659.1,690.31 659.4,692.34 659.7,690.01 660,692.46 660.3,690.07 660.6,692.67 660.9,690.3 661.2,692.69 661.5,690.43" fill="none" stroke="#fbc21a" stroke-width="0.6" stroke-linejoin="round" />
<polyline points="509.7,732.28 510,733.52 510.3,732.28 510.6,733.52 510.9,732.28 511.2,733.39 511.5,732.43 511.8,733.28 512.1,732.49 512.4,733.48 512.7,732.43 513,733.29 513.3,732.47 513.6,733.33 513.9,732.49 514.2,733.49 514.5,732.29 514.8,733.5 515.1,732.37 515.4,733.32 515.7,732.3 516,733.42 516.3,732.46 516.6,733.45 516.9,732.34 517.2,733.37 517.5,732.29 517.8,733.48 518.1,732.45 518.4,733.39 518.7,732.48 519,733.29 519.3,732.38 519.6,733.51 519.9,732.4 520.2,733.41 520.5,732.41 520.8,733.33 521.1,732.45 521.4,733.43 521.7,732.51 522,733.28 522.3,732.33 522.6,733.5 522.9,732.47 523.2,733.41 523.5,732.49 523.8,733.32 524.1,732.28 524.4,733.29 524.7,732.4 525,733.37 525.3,732.43 525.6,733.47 525.9,732.5 526.2,733.3 526.5,732.4 526.8,733.37 527.1,732.31 527.4,733.41 527.7,732.44 528,733.44 528.3,732.32 528.6,733.51 528.9,732.41 529.2,733.4 529.5,732.48 529.8,733.42 530.1,732.44 530.4,733.41 530.7,732.29 531,733.32 531.3,732.32 531.6,733.29 531.9,732.47 532.2,733.27 532.5,732.5 532.8,733.32 533.1,732.34 533.4,733.36 533.7,732.31 534,733.36 534.3,732.51 534.6,733.33 534.9,732.48 535.2,733.38 535.5,732.31 535.8,733.35 536.1,732.31 536.4,733.32 536.7,732.36 537,733.29 537.3,732.51 537.6,733.46 537.9,732.32 538.2,733.35 538.5,732.3 538.8,733.33 539.1,732.48 539.4,733.48 539.7,732.32 540,733.45 540.3,732.45 540.6,733.5 540.9,732.39 541.2,733.45 541.5,732.37 541.8,733.38 542.1,732.39 542.4,733.29 542.7,732.53 543,733.51 543.3,732.3 543.6,733.4 543.9,732.5 544.2,733.41 544.5,732.28 544.8,733.49 545.1,732.31 545.4,733.5 545.7,732.4 546,733.4 546.3,732.38 546.6,733.43 546.9,732.38 547.2,733.39 547.5,732.46 547.8,733.34 548.1,732.46 548.4,733.38 548.7,732.31 549,733.42 549.3,732.4 549.6,733.48 549.9,732.33 550.2,733.3 550.5,732.34 550.8,733.28 551.1,732.32 551.4,733.36 551.7,732.37 552,733.39 552.3,732.5 552.6,733.44 552.9,732.5 553.2,733.52 553.5,732.42 553.8,733.32 554.1,732.38 554.4,733.3 554.7,732.35 555,733.39 555.3,732.45 555.6,733.43 555.9,732.37 556.2,733.28 556.5,732.44 556.8,733.35 557.1,732.3 557.4,733.32 557.7,732.32 558,733.39 558.3,732.44 558.6,733.46 558.9,732.4 559.2,733.4 559.5,732.4 559.8,733.48 560.1,732.29 560.4,733.46 560.7,732.36 561,733.47 561.3,732.43 561.6,733.48 561.9,732.35 562.2,733.4 562.5,732.42 562.8,733.43 563.1,732.47 563.4,733.27 563.7,732.49 564,733.33 564.3,732.49 564.6,733.39 564.9,732.43 565.2,733.3 565.5,732.39 565.8,733.34 566.1,732.36 566.4,733.42 566.7,732.52 567,733.42 567.3,732.38 567.6,733.5 567.9,732.49 568.2,733.37 568.5,732.29 568.8,733.37 569.1,732.52 569.4,733.49 569.7,732.39 570,733.28 570.3,732.47 570.6,733.39 570.9,732.48 571.2,733.31 571.5,732.49 571.8,733.42 572.1,732.38 572.4,733.42 572.7,732.42 573,733.4 573.3,732.52 573.6,733.39 573.9,732.29 574.2,733.28 574.5,732.46 574.8,733.29 575.1,732.34 575.4,733.44 575.7,732.48 576,733.41 576.3,732.51 576.6,733.4 576.9,732.41 577.2,733.44 577.5,732.4 577.8,733.3 578.1,732.35 578.4,733.36 578.7,732.45 579,733.43 579.3,732.29 579.6,733.4 579.9,732.38 580.2,733.52 580.5,732.45 580.8,733.51 581.1,732.45 581.4,733.32 581.7,732.29 582,733.51 582.3,732.37 582.6,733.33 582.9,732.38 583.2,733.33 583.5,732.52 583.8,733.37 584.1,732.37 584.4,733.3 584.7,732.34 585,733.51 585.3,732.48 585.6,733.35 585.9,732.35 586.2,733.28 586.5,732.49 586.8,733.41 587.1,732.32 587.4,733.41 587.7,732.45 588,733.46 588.3,732.39 588.6,733.52 588.9,732.3 589.2,733.43 589.5,732.4 589.8,733.41 590.1,732.4 590.4,733.44 590.7,732.31 591,733.49 591.3,732.46 591.6,733.35 591.9,732.29 592.2,733.49 592.5,732.35 592.8,733.36 593.1,732.51 593.4,733.51 593.7,732.43 594,733.5 594.3,732.49 594.6,733.31 594.9,732.52 595.2,733.51 595.5,732.3 595.8,733.42 596.1,732.28 596.4,733.41 596.7,732.37 597,733.43 597.3,732.32 597.6,733.41 597.9,732.44 598.2,733.45 598.5,732.32 598.8,733.32 599.1,732.45 599.4,733.5 599.7,732.37 600,733.48 600.3,732.44 600.6,733.36 600.9,732.32 601.2,733.34 601.5,732.29 601.8,733.38 602.1,732.43 602.4,733.48 602.7,732.52 603,733.3 603.3,732.28 603.6,733.49 603.9,732.44 604.2,733.44 604.5,732.28 604.8,733.37 605.1,732.3 605.4,733.52 605.7,732.45 606,733.35 606.3,732.31 606.6,733.31 606.9,732.43 607.2,733.41 607.5,732.46 607.8,733.28 608.1,732.5 608.4,733.35 608.7,732.37 609,733.38 609.3,732.43 609.6,733.29 609.9,732.3 610.2,733.38 610.5,732.33 610.8,733.5 611.1,732.36 611.4,733.3 611.7,732.38 612,733.43 612.3,732.3 612.6,733.36 612.9,732.37 613.2,733.52 613.5,732.32 613.8,733.43 614.1,732.45 614.4,733.46 614.7,732.52 615,733.38 615.3,732.51 615.6,733.44 615.9,732.39 616.2,733.41 616.5,732.44 616.8,733.3 617.1,732.37 617.4,733.41 617.7,732.35 618,733.35 618.3,732.3 618.6,733.29 618.9,732.35 619.2,733.52 619.5,732.36 619.8,733.49 620.1,732.28 620.4,733.36 620.7,732.44 621,733.39 621.3,732.32 621.6,733.33 621.9,732.46 622.2,733.49 622.5,732.37 622.8,733.5 623.1,732.3 623.4,733.46 623.7,732.28 624,733.32 624.3,732.42 624.6,733.38 624.9,732.36 625.2,733.48 625.5,732.4 625.8,733.45 626.1,732.49 626.4,733.43 626.7,732.32 627,733.32 627.3,732.42 627.6,733.43 627.9,732.38 628.2,733.33 628.5,732.53 628.8,733.29 629.1,732.37 629.4,733.35 629.7,732.46 630,733.37 630.3,732.51 630.6,733.43 630.9,732.51 631.2,733.33 631.5,732.49 631.8,733.44 632.1,732.3 632.4,733.46 632.7,732.37 633,733.32 633.3,732.4 633.6,733.31 633.9,732.47 634.2,733.35 634.5,732.31 634.8,733.31 635.1,732.29 635.4,733.28 635.7,732.52 636,733.34 636.3,732.4 636.6,733.33 636.9,732.5 637.2,733.48 637.5,732.4 637.8,733.49 638.1,732.41 638.4,733.39 638.7,732.51 639,733.46 639.3,732.52 639.6,733.3 639.9,732.3 640.2,733.39 640.5,732.3 640.8,733.3 641.1,732.48 641.4,733.36 641.7,732.48 642,733.45 642.3,732.52 642.6,733.46 642.9,732.41 643.2,733.39 643.5,732.51 643.8,733.5 644.1,732.38 644.4,733.51 644.7,732.33 645,733.51 645.3,732.39 645.6,733.41 645.9,732.34 646.2,733.39 646.5,732.45 646.8,733.34 647.1,732.3 647.4,733.36 647.7,732.4 648,733.33 648.3,732.5 648.6,733.5 648.9,732.39 649.2,733.37 649.5,732.36 649.8,733.36 650.1,732.46 650.4,733.43 650.7,732.32 651,733.44 651.3,732.39 651.6,733.38 651.9,732.39 652.2,733.35 652.5,732.39 652.8,733.49 653.1,732.42 653.4,733.51 653.7,732.46 654,733.5 654.3,732.41 654.6,733.43 654.9,732.46 655.2,733.51 655.5,732.34 655.8,733.49 656.1,732.32 656.4,733.39 656.7,732.49 657,733.47 657.3,732.31 657.6,733.42 657.9,732.34 658.2,733.42 658.5,732.38 658.8,733.3 659.1,732.31 659.4,733.41 659.7,732.4 660,733.29 660.3,732.32 660.6,733.28 660.9,732.47 661.2,733.4 661.5,732.51" fill="none" stroke="#fb9a2e" stroke-width="0.6" stroke-linejoin="round" />
<line x1="488.6" y1="498.15" x2="491.9" y2="498.15" stroke="#262626" stroke-width="0.9" />
<text x="483.7" y="501.55" font-size="9.5" fill="#1c1c1c" text-anchor="end" stroke="#1c1c1c" stroke-width="0.2">-10</text>
<line x1="488.6" y1="492.98" x2="490.3" y2="492.98" stroke="#262626" stroke-width="0.9" />
<line x1="488.6" y1="487.8" x2="491.9" y2="487.8" stroke="#262626" stroke-width="0.9" />
<text x="483.7" y="491.2" font-size="9.5" fill="#1c1c1c" text-anchor="end" stroke="#1c1c1c" stroke-width="0.2">0</text>
<line x1="488.6" y1="482.62" x2="490.3" y2="482.62" stroke="#262626" stroke-width="0.9" />
<line x1="488.6" y1="477.45" x2="491.9" y2="477.45" stroke="#262626" stroke-width="0.9" />
<text x="483.7" y="480.85" font-size="9.5" fill="#1c1c1c" text-anchor="end" stroke="#1c1c1c" stroke-width="0.2">10</text>
<line x1="488.6" y1="472.28" x2="490.3" y2="472.28" stroke="#262626" stroke-width="0.9" />
<line x1="488.6" y1="467.1" x2="491.9" y2="467.1" stroke="#262626" stroke-width="0.9" />
<text x="483.7" y="470.5" font-size="9.5" fill="#1c1c1c" text-anchor="end" stroke="#1c1c1c" stroke-width="0.2">20</text>
<line x1="499.15" y1="503.14" x2="499.15" y2="501.34" stroke="#262626" stroke-width="0.9" />
<line x1="509.7" y1="503.14" x2="509.7" y2="499.54" stroke="#262626" stroke-width="0.9" />
<line x1="520.25" y1="503.14" x2="520.25" y2="501.34" stroke="#262626" stroke-width="0.9" />
<line x1="530.8" y1="503.14" x2="530.8" y2="499.54" stroke="#262626" stroke-width="0.9" />
<line x1="541.35" y1="503.14" x2="541.35" y2="501.34" stroke="#262626" stroke-width="0.9" />
<line x1="551.9" y1="503.14" x2="551.9" y2="499.54" stroke="#262626" stroke-width="0.9" />
<line x1="562.45" y1="503.14" x2="562.45" y2="501.34" stroke="#262626" stroke-width="0.9" />
<line x1="573" y1="503.14" x2="573" y2="499.54" stroke="#262626" stroke-width="0.9" />
<line x1="583.55" y1="503.14" x2="583.55" y2="501.34" stroke="#262626" stroke-width="0.9" />
<line x1="594.1" y1="503.14" x2="594.1" y2="499.54" stroke="#262626" stroke-width="0.9" />
<line x1="604.65" y1="503.14" x2="604.65" y2="501.34" stroke="#262626" stroke-width="0.9" />
<line x1="615.2" y1="503.14" x2="615.2" y2="499.54" stroke="#262626" stroke-width="0.9" />
<line x1="625.75" y1="503.14" x2="625.75" y2="501.34" stroke="#262626" stroke-width="0.9" />
<line x1="636.3" y1="503.14" x2="636.3" y2="499.54" stroke="#262626" stroke-width="0.9" />
<line x1="646.85" y1="503.14" x2="646.85" y2="501.34" stroke="#262626" stroke-width="0.9" />
<line x1="657.4" y1="503.14" x2="657.4" y2="499.54" stroke="#262626" stroke-width="0.9" />
<line x1="667.95" y1="503.14" x2="667.95" y2="501.34" stroke="#262626" stroke-width="0.9" />
<line x1="488.6" y1="503.14" x2="678.6" y2="503.14" stroke="#262626" stroke-width="1.2" />
<text x="673.9" y="474.7" font-size="9.7" fill="#26a0b8" text-anchor="end" >Low E string</text>
<line x1="488.6" y1="539.69" x2="491.9" y2="539.69" stroke="#262626" stroke-width="0.9" />
<text x="483.7" y="543.09" font-size="9.5" fill="#1c1c1c" text-anchor="end" stroke="#1c1c1c" stroke-width="0.2">-10</text>
<line x1="488.6" y1="534.51" x2="490.3" y2="534.51" stroke="#262626" stroke-width="0.9" />
<line x1="488.6" y1="529.34" x2="491.9" y2="529.34" stroke="#262626" stroke-width="0.9" />
<text x="483.7" y="532.74" font-size="9.5" fill="#1c1c1c" text-anchor="end" stroke="#1c1c1c" stroke-width="0.2">0</text>
<line x1="488.6" y1="524.17" x2="490.3" y2="524.17" stroke="#262626" stroke-width="0.9" />
<line x1="488.6" y1="518.99" x2="491.9" y2="518.99" stroke="#262626" stroke-width="0.9" />
<text x="483.7" y="522.39" font-size="9.5" fill="#1c1c1c" text-anchor="end" stroke="#1c1c1c" stroke-width="0.2">10</text>
<line x1="488.6" y1="513.82" x2="490.3" y2="513.82" stroke="#262626" stroke-width="0.9" />
<line x1="488.6" y1="508.64" x2="491.9" y2="508.64" stroke="#262626" stroke-width="0.9" />
<text x="483.7" y="512.04" font-size="9.5" fill="#1c1c1c" text-anchor="end" stroke="#1c1c1c" stroke-width="0.2">20</text>
<line x1="499.15" y1="544.68" x2="499.15" y2="542.88" stroke="#262626" stroke-width="0.9" />
<line x1="509.7" y1="544.68" x2="509.7" y2="541.08" stroke="#262626" stroke-width="0.9" />
<line x1="520.25" y1="544.68" x2="520.25" y2="542.88" stroke="#262626" stroke-width="0.9" />
<line x1="530.8" y1="544.68" x2="530.8" y2="541.08" stroke="#262626" stroke-width="0.9" />
<line x1="541.35" y1="544.68" x2="541.35" y2="542.88" stroke="#262626" stroke-width="0.9" />
<line x1="551.9" y1="544.68" x2="551.9" y2="541.08" stroke="#262626" stroke-width="0.9" />
<line x1="562.45" y1="544.68" x2="562.45" y2="542.88" stroke="#262626" stroke-width="0.9" />
<line x1="573" y1="544.68" x2="573" y2="541.08" stroke="#262626" stroke-width="0.9" />
<line x1="583.55" y1="544.68" x2="583.55" y2="542.88" stroke="#262626" stroke-width="0.9" />
<line x1="594.1" y1="544.68" x2="594.1" y2="541.08" stroke="#262626" stroke-width="0.9" />
<line x1="604.65" y1="544.68" x2="604.65" y2="542.88" stroke="#262626" stroke-width="0.9" />
<line x1="615.2" y1="544.68" x2="615.2" y2="541.08" stroke="#262626" stroke-width="0.9" />
<line x1="625.75" y1="544.68" x2="625.75" y2="542.88" stroke="#262626" stroke-width="0.9" />
<line x1="636.3" y1="544.68" x2="636.3" y2="541.08" stroke="#262626" stroke-width="0.9" />
<line x1="646.85" y1="544.68" x2="646.85" y2="542.88" stroke="#262626" stroke-width="0.9" />
<line x1="657.4" y1="544.68" x2="657.4" y2="541.08" stroke="#262626" stroke-width="0.9" />
<line x1="667.95" y1="544.68" x2="667.95" y2="542.88" stroke="#262626" stroke-width="0.9" />
<line x1="488.6" y1="544.68" x2="678.6" y2="544.68" stroke="#262626" stroke-width="1.2" />
<text x="673.9" y="516.24" font-size="9.7" fill="#2bb9d2" text-anchor="end" >A string</text>
<line x1="488.6" y1="581.23" x2="491.9" y2="581.23" stroke="#262626" stroke-width="0.9" />
<text x="483.7" y="584.63" font-size="9.5" fill="#1c1c1c" text-anchor="end" stroke="#1c1c1c" stroke-width="0.2">-10</text>
<line x1="488.6" y1="576.06" x2="490.3" y2="576.06" stroke="#262626" stroke-width="0.9" />
<line x1="488.6" y1="570.88" x2="491.9" y2="570.88" stroke="#262626" stroke-width="0.9" />
<text x="483.7" y="574.28" font-size="9.5" fill="#1c1c1c" text-anchor="end" stroke="#1c1c1c" stroke-width="0.2">0</text>
<line x1="488.6" y1="565.71" x2="490.3" y2="565.71" stroke="#262626" stroke-width="0.9" />
<line x1="488.6" y1="560.53" x2="491.9" y2="560.53" stroke="#262626" stroke-width="0.9" />
<text x="483.7" y="563.93" font-size="9.5" fill="#1c1c1c" text-anchor="end" stroke="#1c1c1c" stroke-width="0.2">10</text>
<line x1="488.6" y1="555.36" x2="490.3" y2="555.36" stroke="#262626" stroke-width="0.9" />
<line x1="488.6" y1="550.18" x2="491.9" y2="550.18" stroke="#262626" stroke-width="0.9" />
<text x="483.7" y="553.58" font-size="9.5" fill="#1c1c1c" text-anchor="end" stroke="#1c1c1c" stroke-width="0.2">20</text>
<line x1="499.15" y1="586.22" x2="499.15" y2="584.42" stroke="#262626" stroke-width="0.9" />
<line x1="509.7" y1="586.22" x2="509.7" y2="582.62" stroke="#262626" stroke-width="0.9" />
<line x1="520.25" y1="586.22" x2="520.25" y2="584.42" stroke="#262626" stroke-width="0.9" />
<line x1="530.8" y1="586.22" x2="530.8" y2="582.62" stroke="#262626" stroke-width="0.9" />
<line x1="541.35" y1="586.22" x2="541.35" y2="584.42" stroke="#262626" stroke-width="0.9" />
<line x1="551.9" y1="586.22" x2="551.9" y2="582.62" stroke="#262626" stroke-width="0.9" />
<line x1="562.45" y1="586.22" x2="562.45" y2="584.42" stroke="#262626" stroke-width="0.9" />
<line x1="573" y1="586.22" x2="573" y2="582.62" stroke="#262626" stroke-width="0.9" />
<line x1="583.55" y1="586.22" x2="583.55" y2="584.42" stroke="#262626" stroke-width="0.9" />
<line x1="594.1" y1="586.22" x2="594.1" y2="582.62" stroke="#262626" stroke-width="0.9" />
<line x1="604.65" y1="586.22" x2="604.65" y2="584.42" stroke="#262626" stroke-width="0.9" />
<line x1="615.2" y1="586.22" x2="615.2" y2="582.62" stroke="#262626" stroke-width="0.9" />
<line x1="625.75" y1="586.22" x2="625.75" y2="584.42" stroke="#262626" stroke-width="0.9" />
<line x1="636.3" y1="586.22" x2="636.3" y2="582.62" stroke="#262626" stroke-width="0.9" />
<line x1="646.85" y1="586.22" x2="646.85" y2="584.42" stroke="#262626" stroke-width="0.9" />
<line x1="657.4" y1="586.22" x2="657.4" y2="582.62" stroke="#262626" stroke-width="0.9" />
<line x1="667.95" y1="586.22" x2="667.95" y2="584.42" stroke="#262626" stroke-width="0.9" />
<line x1="488.6" y1="586.22" x2="678.6" y2="586.22" stroke="#262626" stroke-width="1.2" />
<text x="673.9" y="557.78" font-size="9.7" fill="#2cc597" text-anchor="end" >D string</text>
<line x1="488.6" y1="622.77" x2="491.9" y2="622.77" stroke="#262626" stroke-width="0.9" />
<text x="483.7" y="626.17" font-size="9.5" fill="#1c1c1c" text-anchor="end" stroke="#1c1c1c" stroke-width="0.2">-10</text>
<line x1="488.6" y1="617.6" x2="490.3" y2="617.6" stroke="#262626" stroke-width="0.9" />
<line x1="488.6" y1="612.42" x2="491.9" y2="612.42" stroke="#262626" stroke-width="0.9" />
<text x="483.7" y="615.82" font-size="9.5" fill="#1c1c1c" text-anchor="end" stroke="#1c1c1c" stroke-width="0.2">0</text>
<line x1="488.6" y1="607.25" x2="490.3" y2="607.25" stroke="#262626" stroke-width="0.9" />
<line x1="488.6" y1="602.07" x2="491.9" y2="602.07" stroke="#262626" stroke-width="0.9" />
<text x="483.7" y="605.47" font-size="9.5" fill="#1c1c1c" text-anchor="end" stroke="#1c1c1c" stroke-width="0.2">10</text>
<line x1="488.6" y1="596.9" x2="490.3" y2="596.9" stroke="#262626" stroke-width="0.9" />
<line x1="488.6" y1="591.72" x2="491.9" y2="591.72" stroke="#262626" stroke-width="0.9" />
<text x="483.7" y="595.12" font-size="9.5" fill="#1c1c1c" text-anchor="end" stroke="#1c1c1c" stroke-width="0.2">20</text>
<line x1="499.15" y1="627.76" x2="499.15" y2="625.96" stroke="#262626" stroke-width="0.9" />
<line x1="509.7" y1="627.76" x2="509.7" y2="624.16" stroke="#262626" stroke-width="0.9" />
<line x1="520.25" y1="627.76" x2="520.25" y2="625.96" stroke="#262626" stroke-width="0.9" />
<line x1="530.8" y1="627.76" x2="530.8" y2="624.16" stroke="#262626" stroke-width="0.9" />
<line x1="541.35" y1="627.76" x2="541.35" y2="625.96" stroke="#262626" stroke-width="0.9" />
<line x1="551.9" y1="627.76" x2="551.9" y2="624.16" stroke="#262626" stroke-width="0.9" />
<line x1="562.45" y1="627.76" x2="562.45" y2="625.96" stroke="#262626" stroke-width="0.9" />
<line x1="573" y1="627.76" x2="573" y2="624.16" stroke="#262626" stroke-width="0.9" />
<line x1="583.55" y1="627.76" x2="583.55" y2="625.96" stroke="#262626" stroke-width="0.9" />
<line x1="594.1" y1="627.76" x2="594.1" y2="624.16" stroke="#262626" stroke-width="0.9" />
<line x1="604.65" y1="627.76" x2="604.65" y2="625.96" stroke="#262626" stroke-width="0.9" />
<line x1="615.2" y1="627.76" x2="615.2" y2="624.16" stroke="#262626" stroke-width="0.9" />
<line x1="625.75" y1="627.76" x2="625.75" y2="625.96" stroke="#262626" stroke-width="0.9" />
<line x1="636.3" y1="627.76" x2="636.3" y2="624.16" stroke="#262626" stroke-width="0.9" />
<line x1="646.85" y1="627.76" x2="646.85" y2="625.96" stroke="#262626" stroke-width="0.9" />
<line x1="657.4" y1="627.76" x2="657.4" y2="624.16" stroke="#262626" stroke-width="0.9" />
<line x1="667.95" y1="627.76" x2="667.95" y2="625.96" stroke="#262626" stroke-width="0.9" />
<line x1="488.6" y1="627.76" x2="678.6" y2="627.76" stroke="#262626" stroke-width="1.2" />
<text x="673.9" y="599.32" font-size="9.7" fill="#58d06f" text-anchor="end" >G string</text>
<line x1="488.6" y1="664.31" x2="491.9" y2="664.31" stroke="#262626" stroke-width="0.9" />
<text x="483.7" y="667.71" font-size="9.5" fill="#1c1c1c" text-anchor="end" stroke="#1c1c1c" stroke-width="0.2">-10</text>
<line x1="488.6" y1="659.13" x2="490.3" y2="659.13" stroke="#262626" stroke-width="0.9" />
<line x1="488.6" y1="653.96" x2="491.9" y2="653.96" stroke="#262626" stroke-width="0.9" />
<text x="483.7" y="657.36" font-size="9.5" fill="#1c1c1c" text-anchor="end" stroke="#1c1c1c" stroke-width="0.2">0</text>
<line x1="488.6" y1="648.79" x2="490.3" y2="648.79" stroke="#262626" stroke-width="0.9" />
<line x1="488.6" y1="643.61" x2="491.9" y2="643.61" stroke="#262626" stroke-width="0.9" />
<text x="483.7" y="647.01" font-size="9.5" fill="#1c1c1c" text-anchor="end" stroke="#1c1c1c" stroke-width="0.2">10</text>
<line x1="488.6" y1="638.44" x2="490.3" y2="638.44" stroke="#262626" stroke-width="0.9" />
<line x1="488.6" y1="633.26" x2="491.9" y2="633.26" stroke="#262626" stroke-width="0.9" />
<text x="483.7" y="636.66" font-size="9.5" fill="#1c1c1c" text-anchor="end" stroke="#1c1c1c" stroke-width="0.2">20</text>
<line x1="499.15" y1="669.3" x2="499.15" y2="667.5" stroke="#262626" stroke-width="0.9" />
<line x1="509.7" y1="669.3" x2="509.7" y2="665.7" stroke="#262626" stroke-width="0.9" />
<line x1="520.25" y1="669.3" x2="520.25" y2="667.5" stroke="#262626" stroke-width="0.9" />
<line x1="530.8" y1="669.3" x2="530.8" y2="665.7" stroke="#262626" stroke-width="0.9" />
<line x1="541.35" y1="669.3" x2="541.35" y2="667.5" stroke="#262626" stroke-width="0.9" />
<line x1="551.9" y1="669.3" x2="551.9" y2="665.7" stroke="#262626" stroke-width="0.9" />
<line x1="562.45" y1="669.3" x2="562.45" y2="667.5" stroke="#262626" stroke-width="0.9" />
<line x1="573" y1="669.3" x2="573" y2="665.7" stroke="#262626" stroke-width="0.9" />
<line x1="583.55" y1="669.3" x2="583.55" y2="667.5" stroke="#262626" stroke-width="0.9" />
<line x1="594.1" y1="669.3" x2="594.1" y2="665.7" stroke="#262626" stroke-width="0.9" />
<line x1="604.65" y1="669.3" x2="604.65" y2="667.5" stroke="#262626" stroke-width="0.9" />
<line x1="615.2" y1="669.3" x2="615.2" y2="665.7" stroke="#262626" stroke-width="0.9" />
<line x1="625.75" y1="669.3" x2="625.75" y2="667.5" stroke="#262626" stroke-width="0.9" />
<line x1="636.3" y1="669.3" x2="636.3" y2="665.7" stroke="#262626" stroke-width="0.9" />
<line x1="646.85" y1="669.3" x2="646.85" y2="667.5" stroke="#262626" stroke-width="0.9" />
<line x1="657.4" y1="669.3" x2="657.4" y2="665.7" stroke="#262626" stroke-width="0.9" />
<line x1="667.95" y1="669.3" x2="667.95" y2="667.5" stroke="#262626" stroke-width="0.9" />
<line x1="488.6" y1="669.3" x2="678.6" y2="669.3" stroke="#262626" stroke-width="1.2" />
<text x="673.9" y="640.86" font-size="9.7" fill="#92d94a" text-anchor="end" >B string</text>
<line x1="488.6" y1="705.85" x2="491.9" y2="705.85" stroke="#262626" stroke-width="0.9" />
<text x="483.7" y="709.25" font-size="9.5" fill="#1c1c1c" text-anchor="end" stroke="#1c1c1c" stroke-width="0.2">-10</text>
<line x1="488.6" y1="700.67" x2="490.3" y2="700.67" stroke="#262626" stroke-width="0.9" />
<line x1="488.6" y1="695.5" x2="491.9" y2="695.5" stroke="#262626" stroke-width="0.9" />
<text x="483.7" y="698.9" font-size="9.5" fill="#1c1c1c" text-anchor="end" stroke="#1c1c1c" stroke-width="0.2">0</text>
<line x1="488.6" y1="690.33" x2="490.3" y2="690.33" stroke="#262626" stroke-width="0.9" />
<line x1="488.6" y1="685.15" x2="491.9" y2="685.15" stroke="#262626" stroke-width="0.9" />
<text x="483.7" y="688.55" font-size="9.5" fill="#1c1c1c" text-anchor="end" stroke="#1c1c1c" stroke-width="0.2">10</text>
<line x1="488.6" y1="679.98" x2="490.3" y2="679.98" stroke="#262626" stroke-width="0.9" />
<line x1="488.6" y1="674.8" x2="491.9" y2="674.8" stroke="#262626" stroke-width="0.9" />
<text x="483.7" y="678.2" font-size="9.5" fill="#1c1c1c" text-anchor="end" stroke="#1c1c1c" stroke-width="0.2">20</text>
<line x1="499.15" y1="710.84" x2="499.15" y2="709.04" stroke="#262626" stroke-width="0.9" />
<line x1="509.7" y1="710.84" x2="509.7" y2="707.24" stroke="#262626" stroke-width="0.9" />
<line x1="520.25" y1="710.84" x2="520.25" y2="709.04" stroke="#262626" stroke-width="0.9" />
<line x1="530.8" y1="710.84" x2="530.8" y2="707.24" stroke="#262626" stroke-width="0.9" />
<line x1="541.35" y1="710.84" x2="541.35" y2="709.04" stroke="#262626" stroke-width="0.9" />
<line x1="551.9" y1="710.84" x2="551.9" y2="707.24" stroke="#262626" stroke-width="0.9" />
<line x1="562.45" y1="710.84" x2="562.45" y2="709.04" stroke="#262626" stroke-width="0.9" />
<line x1="573" y1="710.84" x2="573" y2="707.24" stroke="#262626" stroke-width="0.9" />
<line x1="583.55" y1="710.84" x2="583.55" y2="709.04" stroke="#262626" stroke-width="0.9" />
<line x1="594.1" y1="710.84" x2="594.1" y2="707.24" stroke="#262626" stroke-width="0.9" />
<line x1="604.65" y1="710.84" x2="604.65" y2="709.04" stroke="#262626" stroke-width="0.9" />
<line x1="615.2" y1="710.84" x2="615.2" y2="707.24" stroke="#262626" stroke-width="0.9" />
<line x1="625.75" y1="710.84" x2="625.75" y2="709.04" stroke="#262626" stroke-width="0.9" />
<line x1="636.3" y1="710.84" x2="636.3" y2="707.24" stroke="#262626" stroke-width="0.9" />
<line x1="646.85" y1="710.84" x2="646.85" y2="709.04" stroke="#262626" stroke-width="0.9" />
<line x1="657.4" y1="710.84" x2="657.4" y2="707.24" stroke="#262626" stroke-width="0.9" />
<line x1="667.95" y1="710.84" x2="667.95" y2="709.04" stroke="#262626" stroke-width="0.9" />
<line x1="488.6" y1="710.84" x2="678.6" y2="710.84" stroke="#262626" stroke-width="1.2" />
<text x="673.9" y="682.4" font-size="9.7" fill="#f8c231" text-anchor="end" >High E string</text>
<line x1="488.6" y1="747.39" x2="491.9" y2="747.39" stroke="#262626" stroke-width="0.9" />
<text x="483.7" y="750.79" font-size="9.5" fill="#1c1c1c" text-anchor="end" stroke="#1c1c1c" stroke-width="0.2">-10</text>
<line x1="488.6" y1="742.22" x2="490.3" y2="742.22" stroke="#262626" stroke-width="0.9" />
<line x1="488.6" y1="737.04" x2="491.9" y2="737.04" stroke="#262626" stroke-width="0.9" />
<text x="483.7" y="740.44" font-size="9.5" fill="#1c1c1c" text-anchor="end" stroke="#1c1c1c" stroke-width="0.2">0</text>
<line x1="488.6" y1="731.87" x2="490.3" y2="731.87" stroke="#262626" stroke-width="0.9" />
<line x1="488.6" y1="726.69" x2="491.9" y2="726.69" stroke="#262626" stroke-width="0.9" />
<text x="483.7" y="730.09" font-size="9.5" fill="#1c1c1c" text-anchor="end" stroke="#1c1c1c" stroke-width="0.2">10</text>
<line x1="488.6" y1="721.52" x2="490.3" y2="721.52" stroke="#262626" stroke-width="0.9" />
<line x1="488.6" y1="716.34" x2="491.9" y2="716.34" stroke="#262626" stroke-width="0.9" />
<text x="483.7" y="719.74" font-size="9.5" fill="#1c1c1c" text-anchor="end" stroke="#1c1c1c" stroke-width="0.2">20</text>
<line x1="499.15" y1="752.38" x2="499.15" y2="750.58" stroke="#262626" stroke-width="0.9" />
<line x1="509.7" y1="752.38" x2="509.7" y2="748.78" stroke="#262626" stroke-width="0.9" />
<line x1="520.25" y1="752.38" x2="520.25" y2="750.58" stroke="#262626" stroke-width="0.9" />
<line x1="530.8" y1="752.38" x2="530.8" y2="748.78" stroke="#262626" stroke-width="0.9" />
<line x1="541.35" y1="752.38" x2="541.35" y2="750.58" stroke="#262626" stroke-width="0.9" />
<line x1="551.9" y1="752.38" x2="551.9" y2="748.78" stroke="#262626" stroke-width="0.9" />
<line x1="562.45" y1="752.38" x2="562.45" y2="750.58" stroke="#262626" stroke-width="0.9" />
<line x1="573" y1="752.38" x2="573" y2="748.78" stroke="#262626" stroke-width="0.9" />
<line x1="583.55" y1="752.38" x2="583.55" y2="750.58" stroke="#262626" stroke-width="0.9" />
<line x1="594.1" y1="752.38" x2="594.1" y2="748.78" stroke="#262626" stroke-width="0.9" />
<line x1="604.65" y1="752.38" x2="604.65" y2="750.58" stroke="#262626" stroke-width="0.9" />
<line x1="615.2" y1="752.38" x2="615.2" y2="748.78" stroke="#262626" stroke-width="0.9" />
<line x1="625.75" y1="752.38" x2="625.75" y2="750.58" stroke="#262626" stroke-width="0.9" />
<line x1="636.3" y1="752.38" x2="636.3" y2="748.78" stroke="#262626" stroke-width="0.9" />
<line x1="646.85" y1="752.38" x2="646.85" y2="750.58" stroke="#262626" stroke-width="0.9" />
<line x1="657.4" y1="752.38" x2="657.4" y2="748.78" stroke="#262626" stroke-width="0.9" />
<line x1="667.95" y1="752.38" x2="667.95" y2="750.58" stroke="#262626" stroke-width="0.9" />
<line x1="488.6" y1="752.38" x2="678.6" y2="752.38" stroke="#262626" stroke-width="1.2" />
<text x="673.9" y="723.94" font-size="9.7" fill="#f99d3c" text-anchor="end" >Unperturbed State</text>
<line x1="488.6" y1="461.6" x2="678.6" y2="461.6" stroke="#555555" stroke-width="1.2" />
<line x1="488.6" y1="461" x2="488.6" y2="752.98" stroke="#262626" stroke-width="1.2" />
<line x1="678.6" y1="461" x2="678.6" y2="752.98" stroke="#262626" stroke-width="1.2" />
<text x="488.6" y="764.2" font-size="9.5" fill="#1c1c1c" text-anchor="middle" stroke="#1c1c1c" stroke-width="0.2">-5</text>
<text x="509.7" y="764.2" font-size="9.5" fill="#1c1c1c" text-anchor="middle" stroke="#1c1c1c" stroke-width="0.2">0</text>
<text x="530.8" y="764.2" font-size="9.5" fill="#1c1c1c" text-anchor="middle" stroke="#1c1c1c" stroke-width="0.2">5</text>
<text x="551.9" y="764.2" font-size="9.5" fill="#1c1c1c" text-anchor="middle" stroke="#1c1c1c" stroke-width="0.2">10</text>
<text x="573" y="764.2" font-size="9.5" fill="#1c1c1c" text-anchor="middle" stroke="#1c1c1c" stroke-width="0.2">15</text>
<text x="594.1" y="764.2" font-size="9.5" fill="#1c1c1c" text-anchor="middle" stroke="#1c1c1c" stroke-width="0.2">20</text>
<text x="615.2" y="764.2" font-size="9.5" fill="#1c1c1c" text-anchor="middle" stroke="#1c1c1c" stroke-width="0.2">25</text>
<text x="636.3" y="764.2" font-size="9.5" fill="#1c1c1c" text-anchor="middle" stroke="#1c1c1c" stroke-width="0.2">30</text>
<text x="657.4" y="764.2" font-size="9.5" fill="#1c1c1c" text-anchor="middle" stroke="#1c1c1c" stroke-width="0.2">35</text>
<text x="678.5" y="764.2" font-size="9.5" fill="#1c1c1c" text-anchor="middle" stroke="#1c1c1c" stroke-width="0.2">40</text>
<text x="560.7" y="781.6" font-size="12.6" fill="#1c1c1c" text-anchor="start"  stroke="#1c1c1c" stroke-width="0.18">Time (s)</text>
<text transform="translate(464.8,598.7) rotate(-90)" x="0" y="0" font-size="12.6" fill="#1c1c1c" text-anchor="middle" >Voltage (mV)</text>
<text x="458.8" y="476.6" font-size="16.6" fill="#231f20" text-anchor="start" >f</text>
<text x="97.2" y="472.4" font-size="9.6" fill="#f7923a" text-anchor="start" >unannealed</text>
<text x="324.4" y="472.4" font-size="9.6" fill="#38b9d4" text-anchor="start" >flash annealed</text>
<text x="534.4" y="472.4" font-size="9.6" fill="#5cd57a" text-anchor="start" >long-time annealed</text>
</svg></body></html>
